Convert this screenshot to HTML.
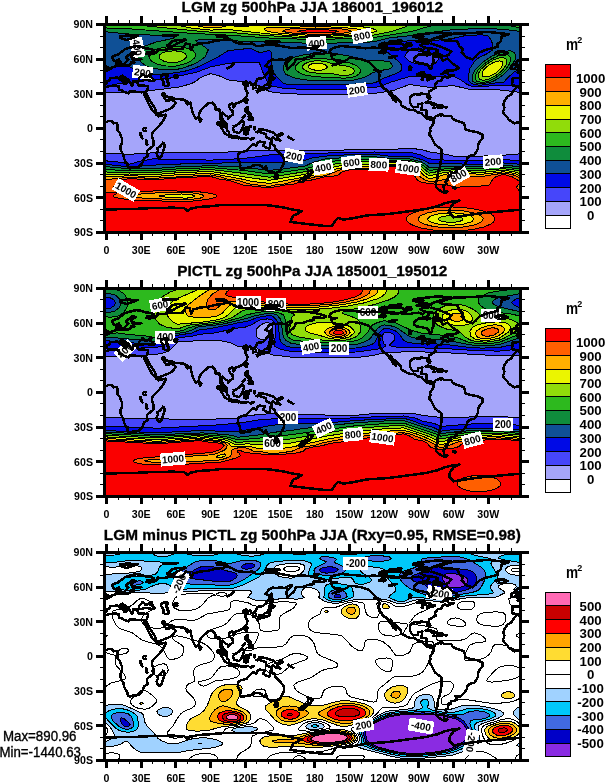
<!DOCTYPE html>
<html><head><meta charset="utf-8"><style>
html,body{margin:0;padding:0;background:#fff;width:605px;height:782px;overflow:hidden}
svg{display:block}
text{font-family:"Liberation Sans",Arial,sans-serif;fill:#000}
.title{font-weight:bold;font-size:15.5px;stroke:#000;stroke-width:0.3px}
.ax{font-size:11.2px;font-weight:bold}
.cb{font-size:13.5px;font-weight:bold}
.unit{font-size:16px;font-weight:bold}
.sup{font-size:9px;font-weight:bold}
.mm{font-size:14px;stroke:#000;stroke-width:0.35px}
.cl{font-size:10px;font-weight:bold}
</style></head><body>
<svg width="605" height="782" viewBox="0 0 605 782" shape-rendering="crispEdges">
<defs><clipPath id="clip0"><rect x="106.0" y="26.0" width="413.0" height="205.0"/></clipPath><clipPath id="clip1"><rect x="106.0" y="290.0" width="413.0" height="205.0"/></clipPath><clipPath id="clip2"><rect x="106.0" y="554.0" width="413.0" height="205.0"/></clipPath></defs>
<g clip-path="url(#clip0)">
<g transform="translate(0,0)">
<rect x="105.0" y="25.0" width="415.0" height="207.0" fill="#ffffff"/>
<path fill-rule="evenodd" fill="#a5a5fa" stroke="#000" stroke-width="1.0" d="M101.9 232.3l423.4 0 0-207.9-423.4 0 0 207.9Z"/>
<path fill-rule="evenodd" fill="#4646fa" stroke="#000" stroke-width="1.0" d="M101.9 232.3l423.4 0 0-78.9-21.9 1.8-22 0.9-27.8 0-9.3-2.1-15-2.1-6.9-2.2-12.8-1.5-19.6 1.4-19.7-0.3-45.1 1.2-69.4 0.1-45.2 2.3-57.8-0.1-23.2 1.5-23.1-1-4.6 0.5 0 78.5ZM285.3 93.7l19 0.5 45.2 0 25.4-0.9 17.4-2.4 17.3-6.4 19.7 2.9 24.3-1.8 18.5 4.4 18.5-0.6 12.8 0.8 11.5 1.7 10.4 0.6 0-68.1-423.4 0 0 67.8 27.7 0.3 31.3-3.1 18.5-2.5 11.6-3.1 4.6-2.3 4.9-4 10.1-3.9 9.3 2.5 8.1 3.8 12.7 1.5 15.1 3.1 3.4 1.2 2.5 2.2 3.3 1.9 5.8 2 14.5 1.9Z"/>
<path fill-rule="evenodd" fill="#000ae6" stroke="#000" stroke-width="1.0" d="M101.9 232.3l423.4 0 0-71.2-21.9-1.6-22 1.2-27.8 0-24.3-1.8-8.8-4-10.9-2.8-19.6 0.8-15.1-0.9-25.4 0.3-79.9 2.6-19.6 2.9-22 1.7-17.4 0.6-57.8-1.2-12.7 2.3-10.5 3-8.1-1.9-19.6-1.8 0 71.8ZM299.5 89.1l50 0 25.4-1.6 8.1-2 7-3.1 19.6-5.9 3.5-0.1 40.5 0 5.8 2.6 7.9 5.5 3.7 1.5 3.4 0.7 5.8 0.1 16.2-1.5 19.7 0.7 6.9 0.8 2.3-0.8 0-61.6-423.4 0 0 61.7 4.6 0.7 8-2.3 9.4-1.6 46.2-4.8 26.6-6 13.9-5.2 17.4-3.5 10.4-1 15-0.3 5.8 0.3 3.5 9.4 6.6 13.8 16.5 3.1 13.7 0.4ZM422.4 64.8l-6.4-1.1-6.4-2.1-4.8-4.9 1.5-3.4 3.3-3.1 19.7 2 4.6 2.4 5 4.4-3.8 4.5-3.1 1.3-2.7 0.8-6.9-0.8Z"/>
<path fill-rule="evenodd" fill="#0f5096" stroke="#000" stroke-width="1.0" d="M101.9 232.3l423.4 0 0-67.7-21.9-1.6-22 1.2-52.1-0.5-2.4-1.9-3.4-1.6-13.9-4.1-19.6 0.2-15.1-2-25.4 0.4-24.3 1.4-12.8 1.8-8.1 2.8-34.7 2.1-19.6-0.4-63.7 1.4-25.4 0.9-31.3 2.2-27.7-2.9 0 68.3ZM297.4 84.5l20.8 0.5 23.2-0.2 33.5-1.9 8.1-4.6 11.8-4.2 6.5-3.5 0.6-4.6-2.2-3.5-12.4-10.4-2-2.5-0.6-2.1 2.4-2.3 2.9-1.7 19.6-2.9 19.7 0.2 12.7-1 10.4-1.3 11.6-2.6 17.4-1.2 6.9 1.3 2.4 3.4 1.5 3.5 0.9 4.6-0.2 2.3-6.9 4.6-6.9 2.9-4.7 4.4-4.4 6.6-1.6 8.1 0.3 4.6 2.3 2.1 2.3 1.2 5.8 0.9 5.7-0.4 12.8-2.3 6-0.3 5.5-5.8 5.8-4.9 5.8-3.4 4.6-1.1 0-42.6-423.4 0 0 44.8 4.6-2 18.5-0.6 4.6 0.3 16.2 6.8 7 1.2 23.1-2.2 11.9-2.1 11.3-4.2 17.3-8.5 11.6-7.2 22-2.4 9.2 4 5.8-0.5 4.6-1.6 1.4 1.9 0.6 2.3-0.4 9.3 0.6 4.6 0.7 2.3 2.9 4.6 8 8.1 2.4 0.7 11.6 0.5Z"/>
<path fill-rule="evenodd" fill="#0f8c3c" stroke="#000" stroke-width="1.0" d="M101.9 232.3l423.4 0 0-65.3-21.9-1.7-22 1.2-30.1 0-22 1.1-3.5-3-4.6-2.7-11.6-3.1-19.6-0.1-15.1-2-25.4 0.5-24.3 1.8-11.6 3.1-9.3 4.4-11.5 0.9-7 1.4-9.2 0.7-7 1.1-25.4-3.4-33.6-1.5-34.7 1.2-23.1 1.9-23.2 0-27.7-2.5 0 66ZM477.2 83.3l6.5 0.2 8.1-1.7 4.6-2.2 7-4.8 6.2-6.5 6-9.3 0.2-3.4-1.1-2.3-2.1-1.7-2.3-0.7-6.9 0.3-11.6 5-8.1 5.4-7.3 6.7-2.4 3.5-1.4 3.4-0.5 3.5 0.5 2.3 1.8 1.3 2.8 1ZM303.6 79.8l13.5 0.9 20.8 0.3 15-0.8 10.9-2.7 2.9-1.1 4.8-3.1 5.7-2.1 12.8-2.4 3-2.8-3-3.9-3.5-0.9-11.6-1.1-4.6 0.9-3.5-0.2-18.5-4.9-8.1-1.3-11.6-1-12.7-0.1-11.6 1.1-10.4 2.8-8.1 3.9-1.5 2.4-0.9 3.4 0.5 3.5 1.9 3.6 7.1 3.3 10.7 2.3ZM161.3 69.4l14.6 0.2 7-1.6 12.3-4.3 7.1-4.7 2.8-2.3 3.2-6.9-3.5-2.8-8.2-5.3-0.6-1.1 3.1-0.8 11.5-0.1 48.6 2.3 10.4-0.2 34.7 1.3 30.1 0 39.4-1.2 16.2-4.1 34.7-3.7 19.6-3.5 9.3-1 27.8-1.1 9.2 0.2 12.8 0.6 21.9 2.7 0-7.6-423.4 0 0 7 27.7 2.7 43.1 1.9 1.8 1.1-1 1.2-17.2 3.7-10.5 3.7-6.6 4.1-2.1 2.3-1.3 2.3-0.4 2.3 4.7 4.7 6.2 4.6 6.5 2.5 8.5 0.9Z"/>
<path fill-rule="evenodd" fill="#2db91e" stroke="#000" stroke-width="1.0" d="M101.9 232.3l423.4 0 0-62.7-21.9-2.6-22 1.4-27.8-0.3-24.3 2.3-4.6-3.8-4.7-2.8-4.6-1.9-5.8-1.4-20.8-0.4-13.9-1-25.4 0.4-19.7 2.1-5.8 1-10.4 3.9-9.3 2.6-34.7 4.9-25.4-3.5-33.6-2.9-34.7 1.4-23.1 1.7-34.7-0.5-11.6-0.8-4.6-0.8 0 63.7ZM480.8 82.2l4-0.2 4.7-1.1 6.9-3.7 5.8-4.3 4.3-4.6 3-4.6 1.3-4.7-0.8-2.3-2-1.6-2.3-0.5-5.8 0.7-8.1 3.4-9.3 6.5-5 5.4-2.4 5.8 0.1 2.3 1.2 2.3 4.4 1.2ZM331.8 77.5l13 0.7 8.1-1.1 3.5-1.3 2.5-1.7 1.5-2.3 0-2.4-3.2-3.4-6.6-2.8-18.5-3.6-10.4-1.2-9.3 0.2-8.1 1.5-5.4 2.4-3.4 3.5-0.2 2.3 1.2 2.3 3.1 2.3 4.7 2 10.5 1.8 17 0.8ZM166.1 66l9.8 0.1 10.4-2.7 4.7-2.4 3.6-3.1 1.1-2.3-0.4-2.3-2-2.5-4.7-2.2-6.9-1.6-8.1-0.5-6.9 0.4-7 1.4-5.8 2.3-3.5 2.7-1.5 3.4 0.9 2.3 2 2.4 5.6 2.9 8.7 1.7ZM273.6 38.3l26.1 0.8 26.6 0.1 24.3-0.5 24.3-1.3 37.4-6.1 17-5.1 19-1.8-346.4 0 0 3.1 4.6 0.5 25.1 1 59.4 4.3 37 1.8 45.6 3.2ZM521.5 27.9l3.8 0.2 0-3.7-27.4 0 5.5 0.3 18.1 3.2Z"/>
<path fill-rule="evenodd" fill="#91dc0a" stroke="#000" stroke-width="1.0" d="M101.9 232.3l423.4 0 0-60.2-12.7-2.3-9.2-1.1-22 1.7-27.8-0.7-13.9 1.5-10.4 2-6.9-5.8-4.7-2.6-5.8-2.2-2.3-0.6-19.6-0.6-40.5 0.4-7 0.9-17.3 3-20.9 6.1-34.7 5.4-31.2-4.5-27.8-3.2-34.7 1.5-23.1 1.7-41.7-0.5-4.6-0.2-4.6-1.2 0 61.5ZM480.3 79.8l3.4 0.5 4.6-1 5.8-2.7 5.3-3.7 4-3.9 2.6-4.2 1-3.4-0.7-2.4-2.9-1.5-4.7 0.5-5.8 2.2-7.1 4.6-4.9 4.6-2.1 3.5-0.7 2.3 0.2 2.3 2 2.3ZM339.9 75.2l6.1 0.3 4.6-0.8 3.1-1.8 0.8-2.3-1.7-2.3-4.5-1.9-12.7-1.9-9.3-2.6-5.8-0.9-5.7-0.1-5.8 1-4.2 1.8-2.1 2.3 0.2 2.3 0.9 1.1 2.9 1.8 3.4 1.1 7 0.9 12.7 0.1 10.1 1.9ZM169.5 62.5l6.4 0.2 4.6-1.4 4.2-2.3 1.9-2.3 0-1.1-1.4-2-2.7-1.5-7.7-1.4-9.3 1-3.5 1.4-1.9 1.3-1.1 2.3 1.1 2.3 4.1 2.4 5.3 1.1ZM293.3 37.1l41.1 0.3 20.9-0.9 18.5-1.5 18.7-3.7 19.4-6.9-306.5 0 40.4 1.5 56.7 5.7 8.1 0.5 17.4 0.1 38.2 3.4 27.1 1.5ZM521.9 24.4l3.4 0.3-3.4-0.3Z"/>
<path fill-rule="evenodd" fill="#ebf500" stroke="#000" stroke-width="1.0" d="M101.9 232.3l423.4 0 0-57.8-2.3-0.1-9.2-2.7-10.4-1.4-22 2.1-27.8-1.1-13.9 2-10.4 2.6-3.7-2.5-6.1-5.8-8.7-3.8-20.8-1.1-15.1 1.2-27.7 0.6-16.2 3-26.7 6.9-34.7 5.9-19.6-2.5-39.4-6.4-34.7 1.5-23.1 1.8-23.2-0.7-19.6 0.5-3.5-0.1-4.6-1.6 0 59.5ZM445.5 222l-5.4-1.2-1.6-1.2 0-1.2 1.6-1.1 4.2-1.2 7-0.4 6.9 0.7 3.1 0.9 1.6 1.1 0 1.2-1.6 1.2-4.2 1.1-5.8 0.4-5.8-0.3ZM482.9 76.4l3.1 0.6 3.2-0.6 4.9-2.3 3.4-2.3 2.4-2.4 2.3-3.4 0.6-2.3-0.6-1.9-2.3-0.9-3.5 0.4-4.6 2-4.1 2.7-3.7 3.4-1.5 2.4-0.6 2.3 1 2.3ZM342.9 70.6l1.9 0.4 0.5-0.4-2.4 0ZM311.5 69.4l4.4 0.9 5.8-0.2 4.6-1.5 1.1-1.5-2.2-2.3-3-1.1-4-0.6-4.6 0.2-3.5 1.2-1.6 1.5-0.1 1.1 0.9 1.2 2.2 1.1ZM298 36l27.2 0.3 27.7-1.1 18.6-2.3 4.7-1.6 0.5-1.1-5.2-1.9-9.3-1.5-31.2-2-158.1-0.4 17.3 3.5 15.8 1.8 4.6 0.4 17.4-0.6 46.3 5 23.7 1.5Z"/>
<path fill-rule="evenodd" fill="#ffaf00" stroke="#000" stroke-width="1.0" d="M101.9 232.3l423.4 0 0-55.4-2.3-0.2-9.2-3.4-10.4-1.5-22 2.5-27.8-1.4-9.7 1.7-6.5 2.4-8.1 1.7-5.8-3.5-4.3-5.3-3-2.3-5.6-2.3-20.6-1.3-9.3 1.1-5.8 1.2-25.4 0.2-18 3.4-6.3 2.5-12.8 3.1-42.8 8-19.6-2.4-4.7-1.4-34.7-6.4-34.7 1.6-23.1 1.7-23.2-0.9-20.8 1.2-2.3-0.2-4.6-2 0 57.6ZM171.3 197.7l-11.6-1.2 0.2-1.2 21.8-1.3 9.3 0.7 3 0.6 0.8 1.2-3.4 1.2-5.1 0.4-15-0.4ZM438.6 224.3l-8.2-2.4-1.7-1.1-0.8-1.2 0-1.2 2.5-2.3 4.7-1.6 6.9-1.2 9.3-0.5 8.1 0.5 6.9 1.2 4.7 1.6 2.5 2.3 0 1.2-0.8 1.2-1.7 1.1-8.1 2.4-11.6 1-12.7-1ZM296.6 34.8l21.6 0.5 21.7-0.5 14.2-1.2 6.6-1.1 2.6-1.2-0.9-1.1-1.4-0.4-8.1-1.5-27.7-1.6-48.6 0.6-10.1 0.6-2.6 1.1 1.3 1.2 3 1.1 5.1 1.2 23.3 2.3ZM208.9 27.9l6.4-0.1 9.2-1.1 2.9-1.1 0-1.2-35.2 0 8.8 2.3 7.9 1.2ZM241.9 26.7l5.8-0.2 1.9-0.9-6.6-1.2-11.8 0-1.3 1.2 12 1.1Z"/>
<path fill-rule="evenodd" fill="#ff5f00" stroke="#000" stroke-width="1.0" d="M101.9 232.3l423.4 0 0-52.9-2.3 0-10.4-4.8-9.2-1.5-22 3.4-18.5-0.5-9.3-1.5-3.5 3.1-4.6 1.8-6.9 1.3-9.3 0.8-4.6-1.7-3.5-2.2-2.8-3-2.4-4.7-3.1-2.3-3.3-1.1-19.6-1.2-7.9 1.2-7.2 2.3-25.4 0-9.2 1.1-15.1 5.8-10.3 1.2-8.5 2.3-12.5 1.9-8.1 2.7-9.2 0.9-7 1.7-21.4-2.6-10.3-3.5-9.9-1.1-8.1-2.6-9.3-1.6-57.8 3.4-23.2-1.1-21.9 2.1-1.2 0-4.6-2.3 0 55.2ZM152.8 198.8l-14.4-1.1-4.8-1.2 0-1.2 4.8-1.1 12.1-1.1 32.4-0.7 9.2 0.5 7 1 4.3 1.4 0.4 1.2-2 1.2-3.9 0.9-9.3 1-35.8-0.8ZM445.5 227.7l-11.6-1.1-9.2-2.3-4.6-2.4-1.2-1.1-0.5-2.4 1.6-2.2 1.9-1.2 6.3-2.3 10.4-1.9 12.7-0.6 11.6 0.6 10.3 1.9 6.3 2.3 1.9 1.2 1.7 2.2-0.6 2.4-1.2 1.1-4.4 2.3-4.8 1.4-12.7 1.9-13.9 0.2ZM297.3 33.6l17.5 0.7 17.3-0.3 15.1-1.3 4.2-1.4-2-1.1-7.7-1.2-25.8-1-25.4 1-6.7 1.2-0.6 1.1 4 1.2 10.1 1.1ZM208.9 24.4l1.7 0.5 1.8-0.5-3.5 0Z"/>
<path fill-rule="evenodd" fill="#fa0000" stroke="#000" stroke-width="1.0" d="M101.9 232.3l423.4 0 0-39.9-5-0.5-4-4.6 2.9-3.5 0.7-2.3-7.3-4.5-8-2.4-2.3 0-6.7 2.3-2.9 2.3-3.2 5.4-2.3 1.1-33.6 1.6-2.3-1.3-4.6-1.2-17.4-1.1-8.1-1.6-2.3-1-2.3-1.9-2.3-4-1.5-5.3-3.2-2.3-19.6-1.2-8.1 2.5-5.8 0.9-27.1 0.1-7.5 2.3-4.2 3.5-12.6 1.2-11.1 2.8-12.3 1.8-7.4 2.5-8.1 0.9-16.2 3-27.4-3-9.6-3.4-4.6-1.2-8.1-1-9.3-2.9-34.7 1.6-23.1 1.9-23.2-1.3-9.2 1.7-3.3 1.2-3.8 5.8-0.3 1.1 0.5 1.2 4.6 2 5.8 0.5 34.7-1.3 35.8 0.4 17.4 2.3 4.8 1.8 0.1 1.2-2.1 1.2-7.4 1.8-17.4 1.8-15 0.1-37.1-1.1-12.7-1.1-9.1-1.5-2.7-1.2 0-1.2 2.7-1.1 1-1.3-13.1-1-1.3-1.2-0.6-1.4 0 43ZM432.8 230l-11.6-2-9.3-3.2-2.8-1.7-2.1-2.3-0.4-1.2 0.4-2.3 2.1-2.3 2.8-1.7 10.5-3.5 13.8-2.2 16.2-0.6 17.4 1.2 12.7 2.5 8.1 3.2 3 2.2 1.2 2.3-0.4 2.4-0.8 1.1-3.1 2.3-6.8 2.8-9.3 2.2-10.4 1.3-10.4 0.5-11.6-0.2-9.2-0.8ZM101.9 184.9l1.5-3.4-1.5-1.1 0 4.5ZM302.9 32.5l22.3 0.5 8.6-0.5 4.2-1.2-4.6-1.1-15.2-0.7-16.2 0.7-3.9 1.1 4.8 1.2Z"/>
</g>
<g transform="translate(137.3,47.5) rotate(80)"><rect x="-10.0" y="-6.5" width="20" height="13" fill="#fff"/><text x="0" y="3.6" class="cl" text-anchor="middle">400</text></g>
<g transform="translate(142.6,72.5) rotate(8)"><rect x="-10.0" y="-6.5" width="20" height="13" fill="#fff"/><text x="0" y="3.6" class="cl" text-anchor="middle">200</text></g>
<g transform="translate(316.5,43.3) rotate(-5)"><rect x="-10.0" y="-6.5" width="20" height="13" fill="#fff"/><text x="0" y="3.6" class="cl" text-anchor="middle">400</text></g>
<g transform="translate(362,36) rotate(-12)"><rect x="-10.0" y="-6.5" width="20" height="13" fill="#fff"/><text x="0" y="3.6" class="cl" text-anchor="middle">800</text></g>
<g transform="translate(357,90) rotate(-8)"><rect x="-10.0" y="-6.5" width="20" height="13" fill="#fff"/><text x="0" y="3.6" class="cl" text-anchor="middle">200</text></g>
<g transform="translate(126,190) rotate(30)"><rect x="-12.5" y="-6.5" width="25" height="13" fill="#fff"/><text x="0" y="3.6" class="cl" text-anchor="middle">1000</text></g>
<g transform="translate(294,156.1) rotate(12)"><rect x="-10.0" y="-6.5" width="20" height="13" fill="#fff"/><text x="0" y="3.6" class="cl" text-anchor="middle">200</text></g>
<g transform="translate(323.2,167.4) rotate(-10)"><rect x="-10.0" y="-6.5" width="20" height="13" fill="#fff"/><text x="0" y="3.6" class="cl" text-anchor="middle">400</text></g>
<g transform="translate(351.5,162.5) rotate(-8)"><rect x="-10.0" y="-6.5" width="20" height="13" fill="#fff"/><text x="0" y="3.6" class="cl" text-anchor="middle">600</text></g>
<g transform="translate(378.8,164.6) rotate(3)"><rect x="-10.0" y="-6.5" width="20" height="13" fill="#fff"/><text x="0" y="3.6" class="cl" text-anchor="middle">800</text></g>
<g transform="translate(408.3,168.1) rotate(8)"><rect x="-12.5" y="-6.5" width="25" height="13" fill="#fff"/><text x="0" y="3.6" class="cl" text-anchor="middle">1000</text></g>
<g transform="translate(458.5,175.8) rotate(-30)"><rect x="-10.0" y="-6.5" width="20" height="13" fill="#fff"/><text x="0" y="3.6" class="cl" text-anchor="middle">800</text></g>
<g transform="translate(493,161.6) rotate(-5)"><rect x="-10.0" y="-6.5" width="20" height="13" fill="#fff"/><text x="0" y="3.6" class="cl" text-anchor="middle">200</text></g>
<g transform="translate(0,0)">
<path fill="none" stroke="#000" stroke-width="2.5" stroke-linejoin="round" d="M100 86.9l-1.5 2.2-3.1 4.1-0.8 1.4-3.4 1.8-1.5 1.8-1.7 2.8-1.3 3.1 0.7 1.7 0.5 1.8-0.5 2.3-1 1.5 0.8 2.5 1.9 1.7 2 1.8 0.9 2.3 2.4 1.5 3.4 2.1 4.1-1 3.4 0.3 2.9-1.4 3.5-0.1 1.7 2.3 2.9-0.4 1.2 1.3 0.3 2.9-0.7 2.3 3.1 4 0.5 1.8 1.2 3.2 0.2 3.7-1.5 3.7-0.5 2.4 1.4 3.1 1.8 3.4 0.8 4.3 1.5 2.3 1.7 3.3 0.5 2.9 1.8 0.9 2.9-0.9 3.6 0 2.7-1.1 3.6-3.6 1.8-4.5 3.4-2.3-0.3-2.3-0.5-2.6 2.5-2.2 4.1-3.3 0-5.2-1.4-4.3 0.4-3.2 2.1-2.7 4.4-4.3 3.1-3.4 3.3-5.8 0.6-2.1-3.9 0.7-3.4 0.9-2.1-1.3-0.5-1.1-2.1-2.3-1.7-1.3-1.2-2.7-1.5-1.9-1.3-2.8-1.2-2.3-1.4-3.4-1.5-3.5-0.2-1.5-2.8 0.1-5.7-0.6-1.1-0.4-4.7 0-1.1 2.1-4.1-1.3-2.6-1.7-2.6-0.7-0.9-3.9-2.5-0.1-5.8 0.1-4.2 1.3-1.6 0.7-4.2-0.9M516.5 86.9l-1.5 2.2-3.1 4.1-0.8 1.4-3.4 1.8-1.5 1.8-1.7 2.8-1.3 3.1 0.7 1.7 0.5 1.8-0.5 2.3-1 1.5 0.8 2.5 2 1.7 1.9 1.8 1 2.3 2.3 1.5 3.4 2.1 4.1-1 3.5 0.3 2.9-1.4 3.4-0.1 1.8 2.3 2.9-0.4 1.1 1.3 0.4 2.9-0.7 2.3 3 4 0.6 1.8 1.1 3.2 0.2 3.7-1.5 3.7-0.5 2.4 1.5 3.1 1.7 3.4 0.8 4.3 1.5 2.3 1.7 3.3 0.5 2.9 1.9 0.9 2.9-0.9 3.5 0 2.7-1.1 3.6-3.6 1.8-4.5 3.4-2.3-0.2-2.3-0.6-2.6 2.5-2.2 4.1-3.3 0-5.2-1.4-4.3 0.5-3.2 2-2.7 4.4-4.3 3.2-3.4 3.2-5.8 0.6-2.1-3.8 0.7-3.5 0.9-2.1-1.3-0.5-1.1-2-2.3-1.8-1.3-1.1-2.7-1.5-1.9-1.4-2.8-1.2-2.3-1.4-3.4-1.5-3.5-0.2-1.5-2.8 0.1-5.7-0.6-1.1-0.4-4.6 0-1.2 2.1-4-1.3-2.7-1.7-2.6-0.7-0.9-3.9-2.5-0.1-5.8 0.1-4.2 1.3-1.6 0.7-4.2-0.9M163.5 142.2l1.3 3.9-1.1 3-1.7 5.2-1 2.8-2.4 0.7-1.5-2.3-0.5-2.3 1.3-2.3-0.5-2.9 2.7-1.5 1.8-2.4 1.6-1.9M100 86.8l-0.8-1-3-0.2-0.7-1.9 0.8-3.9-0.6-1.1 1.5-0.8 4.9 0.2 2.3 0.1 0.7-2.6-1.1-1.8-2.8-1.2 3.4-0.5 0.5-1 1.6 0.1 1.7-1.6 1.8-0.6 1.3-0.9 0.6-1 2.4-0.4 1.8-0.5 0.5-1.3-0.9-0.8 0.1-1.7 2.8-0.7-0.2 1.7-0.5 1.4 1.1 0.7 1.8 0 1.9 0.6 2.1-0.5 3-0.1 2.9-1.5-0.1-1.4 3.5-0.1-0.6-1.7 1.4-1.1 3.8-0.1 2.5-0.4-1.3-0.4-4.7 0-3.1-0.2-0.9-1.3 0.1-1.9 4.4-2.1-1.4-0.9-2.4 0.2-2.1 2.1-3.5 1.6-0.1 1.9 2 1.7-2.7 2.3-0.7 1.2-2.1 1-1.5-0.3-1-2.4-1.2-1.5-0.3-1-3.1 2-2.7-0.9-0.5-1.7-0.3-1.9 3.5-1.6 2.7-0.7 1.9-1.7 2.8-2.1 1.8-1.4 3.4-1.2 5.5-1.3 2.5-0.5 3.1 0.3 2.9 0.7 2.3 1 3.5 0.3 5.7 1.7-1.1 1.9-5.8 0-0.6 1.8 2.9 0.6 4.1-0.6 4-2.1 0.2-2.3 4.4 0.7 5.8-0.9 5.8-0.5 2.3 0.1 7-0.2 0.5-2.1 2.7-3.1 3.7 0.8 0.6 2 0.6 3.5 2.3-4.6 3.4-0.5 2.9-1.2 7.6-0.6 9.2-2.3 5.8-0.6 5-1.4 4.3 1.4 5.7 3.2 8.1 0.8 7-0.4 4.6 2.7 11.6-1.7 11.6 1.2 11.5 2.2 11.6-0.5 11.6 1.3 11.5 3.3-2.3 1.9-6.9-0.5-4.1 0.1 0.6 2.6-5.8 0.8-4.6 2-7.5 0.2-0.6 2.2-1.2 2.3-2.3 1.7-3.8 4-0.8-1.7-0.6-2.9 0.6-2.9 2.3-1.1 2.9-3.1-1.7-0.7-5.8 3.1-3.7-0.6-4.4 0.4-4.4-0.2-3.7 2.2-2.9 4.1 4.5 1.3-1 3.9-2.9 3.4-3.5 3.5-3.6 0.5-2.2 0.9-0.7 2.7-1.6 1.7 1.6 2.9-0.4 1-2.9 0.7 0-3.5-1.8-0.5-0.6-2.3-3.4 1.1-0.6-2.1-3.5 2-0.2 0.7 1.2 1 1.9-0.2 2.3 0.9-2.9 1.7 0 1.8 2.2 3.4-0.4 2.9-2.3 3.5-2.4 2.1-3.8 1.6-4.3 1.3-0.5 1-1.8-1.5-2.3 1.3-0.8 1.7 1.4 2.9 2.1 1.5 0.6 3.7-2.7 1.7-2.3 2.2-0.2-1.8-2.1-1-2.3-1.9-1-0.9-1.1 3.4 1.2 2.3 0.9 2 2.7 2.3 1 3.8-0.9 0.2-2.3-1.7-1.5-3.1-2.2-2.9 0.3-2.3-1.1-7.5-3.6 0.6-0.5-4.1-2-1.7-0.6-1.6-2.1 0.6-2.3 0.3-1.4 1.3-2.1 1.5-3.1 3.1-2.4 3.9-0.5 3.3-2.6 2.5-1.4-2.1-1.8-3.4-2-7-0.4-2.5-0.2-1.4-2.9 1.7-1.3-1.8 1.3-0.7-1.7-0.7-1.8-1.4-4.6-0.5-6.6-0.6-0.4-1.4-0.6-0.3-2.8 0.5-3.5-1.4-1.2-2.3-1.7 0-0.6 0.8 2 2.7 1.3 2.3 0.9 1.1 3.4-0.2 2-2.4 0.2 2.1 2.5 1 1.4 1.4-2.3 3.9-3.3 2.3-3.2 1.6-3.7 1.3-4.6 2-1.9 0.1-0.8-2.7-0.8-2.3-3.2-5.2-2.6-4-1.7-3.4-0.6-1.8-0.6 1.7-2.2-2.2-0.3-1.6 2.2 0 0.7-0.8 0.8-2.2 0.3-1.9 0.3-1.1-1.8-0.4-4.4-0.1-3.1 0.1-1.2-1.9-0.5-1.7 0.1-0.4 2.8-0.8-3.5 0.2-3.6 0.3 0.2 3.1-1.2 1.6-1.2-2.3-1.7-2.3-0.6-1.8-3-1.7-2.2-2-0.8-0.4-1.8 0.2 0.1 1.1 2.2 2.4 3.1 1.5 1.8 1.1-1.5 0.8-0.7 1.1-1.2 0.3-1.5-3-2.4-1.1-2.2-2-1.6-1-1.9 0.8-2.8 0.3-2.1 0.1 0.2 1.2-1.2 1-1.5 0.5-1.3 1.7 0.5 0.6-0.8 0.8-1.7 1.7-2.8 0.2-1.4 0.8M516.5 86.8l-0.8-1-3-0.2-0.7-1.9 0.8-3.9-0.5-1.1 1.5-0.8 4.8 0.2 2.3 0.1 0.7-2.6-1.1-1.8-2.8-1.2 3.5-0.5 0.4-1 1.7 0.1 1.6-1.6 1.8-0.6 1.3-0.9 0.6-1 2.4-0.4 1.9-0.5 0.4-1.3-0.9-0.8 0.1-1.7 2.8-0.7-0.1 1.7-0.6 1.4 1.1 0.7 1.8 0 1.9 0.6 2.1-0.5 3-0.1 2.9-1.5-0.1-1.4 3.5-0.1-0.6-1.7 1.4-1.1 3.8-0.1 2.6-0.4-1.4-0.4-4.7 0-3.1-0.2-0.9-1.3 0.1-1.9 4.4-2.1-1.4-0.9-2.4 0.2-2.1 2.1-3.5 1.6-0.1 1.9 2 1.7-2.7 2.3-0.7 1.2-2.1 1-1.5-0.3-1-2.4-1.2-1.5-0.3-1-3.1 2-2.7-0.9-0.4-1.7-0.4-1.9 3.5-1.6 2.8-0.7 1.8-1.7 2.8-2.1 1.8-1.4 3.4-1.2 5.5-1.3 2.5-0.5 3.1 0.3 2.9 0.7 2.3 1 3.5 0.3 5.8 1.7-1.2 1.9-5.8 0-0.6 1.8 2.9 0.6 4.1-0.6 4-2.1 0.3-2.3 4.4 0.7 5.7-0.9 5.8-0.5 2.3 0.1 7-0.2 0.6-2.1 2.6-3.1 3.7 0.8 0.6 2 0.6 3.5 2.3-4.6 3.5-0.5 2.9-1.2 7.5-0.6 9.2-2.3 5.8-0.6 5-1.4 4.3 1.4 5.8 3.2 8.1 0.8 6.9-0.4 4.6 2.7 11.6-1.7 11.6 1.2 11.5 2.2 11.6-0.5 11.6 1.3 11.6 3.3-2.4 1.9-6.9-0.5-4.1 0.1 0.6 2.6-5.8 0.8-4.6 2-7.5 0.2-0.6 2.2-1.1 2.3-2.4 1.7-3.8 4-0.8-1.7-0.6-2.9 0.6-2.9 2.3-1.1 2.9-3.1-1.7-0.7-5.8 3.1-3.7-0.6-4.4 0.4-4.4-0.2-3.7 2.2-2.9 4.1 4.5 1.3-1 3.9-2.9 3.4-3.5 3.5-3.6 0.5-2.2 0.9-0.7 2.7-1.6 1.7 1.6 2.9-0.4 1-2.9 0.7 0-3.5-1.8-0.5-0.5-2.3-3.5 1.1-0.6-2.1-3.5 2-0.2 0.7 1.2 1 1.9-0.2 2.4 0.9-2.9 1.7 0 1.8 2.2 3.4-0.5 2.9-2.3 3.5-2.3 2.1-3.9 1.6-4.2 1.3-0.6 1-1.7-1.5-2.4 1.3-0.8 1.7 1.4 2.9 2.1 1.5 0.6 3.7-2.7 1.7-2.3 2.2-0.2-1.8-2.1-1-2.3-1.9-0.9-0.9-1.2 3.4 1.3 2.3 0.8 2 2.8 2.3 0.9 3.8-0.8 0.2-2.3-1.7-1.5-3.1-2.2-2.9 0.2-2.3-1.1-7.5-3.5 0.6-0.6-4.1-2-1.7-0.6-1.6-2.1 0.6-2.3 0.3-1.4 1.3-2 1.5-3.2 3.1-2.4 3.9-0.5 3.3-2.6 2.5-1.4-2.1-1.7-3.4-2.1-7-0.4-2.5-0.2-1.4-2.9 1.7-1.3-1.8 1.3-0.7-1.7-0.7-1.8-1.4-4.6-0.5-6.6-0.6-0.3-1.4-0.7-0.3-2.8 0.5-3.5-1.4-1.1-2.3-1.8 0-0.5 0.8 1.9 2.7 1.3 2.3 0.9 1.1 3.4-0.2 2.1-2.4 0.1 2.1 2.5 1 1.4 1.4-2.3 3.9-3.2 2.3-3.3 1.6-3.7 1.3-4.6 2-1.9 0.1-0.8-2.7-0.8-2.3-3.2-5.2-2.6-4-1.7-3.4-0.6-1.8-0.6 1.7-2.2-2.2-0.3-1.6 2.2 0 0.7-0.8 0.8-2.2 0.3-1.9 0.3-1.1-1.8-0.4-4.4-0.1-3.1 0.1-1.1-1.9-0.6-1.7 0.1-0.4 2.8-0.8-3.5 0.2-3.6 0.3 0.2 3.1-1.2 1.6-1.2-2.3-1.7-2.3-0.6-1.8-3-1.7-2.2-2-0.8-0.4-1.7 0.2 0.1 1.1 2.2 2.4 3 1.5 1.8 1.1-1.5 0.8-0.7 1.1-1.1 0.3-1.5-3-2.5-1.1-2.2-2-1.6-1-1.8 0.8-2.9 0.3-2.1 0.1 0.2 1.2-1.1 1-1.5 0.5-1.4 1.7 0.6 0.6-0.9 0.8-1.7 1.7-2.8 0.2-1.4 0.8M140.1 80.8l-1.2-0.5-0.1-1.8 0.9-1.2 1.2-1.2 1.1-1.5 1.5 0 1.8 1.8 0 0.6 2.3-0.6 1.1-0.4 1.8-1.9 1.4-0.3-1.4 1.4-0.3 1.5 2 1.4 2.4 2.2-2.2 0.7-4.2-0.8-3.5-0.4-2.3 1.1-2.3-0.1M161.5 75.6l2.3-1 2.7-0.5 1.3 1.1 0.3 0.8-2.2 1 0 1.5 1.8 1.6-0.1 2.1 1.3 1.2 0 1.9-3.4 0.7-2.3-1-0.1-1.1 0.7-2.1-1.1-1.7-1.2-1.4-0.6-1.5 0.6-1.6M166.7 45.8l3.4-2.3 2.3-2.4 5.8-1.1 7.6-0.4-2.9 1.5-5.8 2.4-4.7 3.2-4.6-0.1-1.1-0.8M119.2 37.7l1.2-1.5 6.9-0.6 10.4 0.4-5.7 2.3-5.8 1.6-3.5-1.1-3.5-1.1M216.4 36.5l5.8 0.6 5.8 0.6-4.6-2.9-7 0.6 0 1.1M265 41.7l5.8-0.9 6.9 0.3 2.4 0.6-8.1 1.8-5.8-0.6-1.2-1.2M162 35.7l8.1-0.9 8.1 0.2-4.6 1-9.3 0.1-2.3-0.4M313 46.3l3.5-0.5 2.3 0.5-4 0.3-1.8-0.3M258 89.1l1.2-1.8 4.1-0.1 1.5-1.9 2.5-0.8 1.2-2.3 0.7-1.6 1 0.2 0.6 1.9-1.2 1.8-0.1 1.3-0.1 1.8-1.2 0.3-1.1 0.5-2.1 0-1.1 1.3-1.2-1.3-2.3 0.3-2.4 0.4M256.9 89.7l2.2 0.3-1 2.2-1 0.1-0.4-1.7 0.2-0.9M259.8 90.2l2.4-1.4 0.1 0.5-1.9 1.3-0.6-0.4M268.5 80.4l1.9-4.5 4.4 2.4-2.5 1.5-2.7-0.5-1.1 1.1M270.8 75.2l1.7-0.6 0.6-2.8-1.1-2.4-0.4-3.8-0.8 3.8-0.2 2.9 0.2 2.9M245.6 102.4l-0.3-1.2 1.8-2.1 0.6 0.4-1.2 3.4-0.9-0.5M232.2 106.2l1.6-1.1 1.1 0.6-1.7 1.6-1-1.1M245.9 107l2 0-0.2 2.9 2.3 4-3.5-1.5-1.2-1.4 0.6-4M247.7 120.3l1.7-1 3.5 1-0.6-2.9-2.9 1.1-1.7 1.8M247.7 115.6l1.7 1.2 1.7-1.2 0-1.7-2.3 0.6-1.1 1.1M242.1 118.6l2.7-3.3-0.6 1.5-2.1 1.8M232.6 126.6l0.7 2.9 0.8 2.3 4.9 1.2 2.3-2.3 1.7-3.5 1.2-4.6-2.3-2.3-1.8 2.3-2.9 2.1-2.3 1.6-2.3 0.3M216.8 121.9l2.5 0.4 3.2 3.2 3.7 2.3 1.2 2.9 1.7 1.3-0.1 3-1.6 0.2-2.9-2.2-1.7-2.9-2.3-3.7-2.9-2.4-0.8-2.1M228.2 136.2l1.5-0.9 2.3 0.6 2.9 0 2 0.5 2.1 1-0.4 1-3.7-0.6-3.4-0.4-1.8-0.5-1.5-0.7M244.8 134.7l-0.6-2.9 0.9-4 0.8-0.6 4.6-0.6 0.6 0-4.6 1.2 0.6 1.7 2.1-0.1-2.1 1 1.1 3.1-1.7-1.7-0.6 2.9-1.1 0M249.4 140.2l1.7-1.5 2.7-0.6-2.7 1.3-1.7 0.8M239.6 138.1l4.6 0.2 4-0.2-2.9 0.5-4.6 0-1.1-0.5M254 126.3l1.2 0.9-0.6 2.1-0.6-3M254.6 132l3.2 0.3-1.5-0.5-1.7 0.2M258.1 129.5l3.4-0.2 4.7 0.8 3.4 1.3 4.1 1.3 1.7 2 1.8 0.6 0.5 2.3 2.6 2.9-3.7-0.6-3.5-2.3-1.7 1.4-1.8-0.3-2.9-0.8-0.8-3.8-3.8-1.1-2.9-1.4-1.1-2.1M278.3 134.7l3.5-1.4 0.8 0.8-2.5 1.4-1.8-0.8M287.6 136.4l2.9 1.8 2.9 1.7-1.8-0.8-2.9-1.7-1.1-1M238.4 153.5l3.1-1.4 5-1.2 1.4-1.8 1.5-1.7 2.3-2.3 1.7-0.8 2.9 1.3 1.2-2.8 2.3-1.2 3.5 0.6 1.5 0.2-0.9 1.5-0.6 1.8 2.3 1.7 3.8 1.2 0.8-2.9 0.4-2.9 0.8-2.1 1.1 3.8 2.1 1.2 0.8 3.4 2.9 2.7 2.3 2.5 2.9 3.5 0.7 3.6-0.8 3.3-2 2.8-1.3 3.6-2.4 0.9-1.9 1.5-1.7-1.4-4.5 0.3-1.7-1.3-1.2-1.7-0.8-3.4-2 2.8-0.6-0.6-1.8-2.1-3.4-1.4-5.8 1-2.3 1.8-5.2 0.5-1.9 0.9-3.2-0.9 0.7-2.7-1-3.5-1.7-3.2 0.5-2.5 0.2-2.6M273.8 175.4l4.3 0.2-0.4 2.6-2.3 0.5-0.9-1.6-0.7-1.7M306.3 168.1l2.4 2.8 4.3 1-1.7 2.1-2.1 2.4-0.7-2.1-0.9-0.7 0.9-2.5-2.2-3M306.3 175.1l1.9 1.4-1.8 2.4-2.1 1.4-2.3 1.9-2.9-0.7 1.8-2.3 3.2-1.8 2.2-2.3M198.9 121.4l0.2-4.4 2.2 2.7-0.5 1.6-1.9 0.1M328.6 52.6l2.4-3.1 3.4-2 7.2-1.5 5.6 0.6 10.4 0.8 8.1 0.9 8.1-0.8 5.8 0.6 8.1 0.7 4.6 0.8 8.1-0.4 9.2 0.8 3.5-0.8 5.8-0.5 4 1.7 1.8-2.3 3.4 0 0.6 3.4-6.3 2.9-3.5 0-4.6 3.5-0.3 2.5 2.6 2.1 4.6 0.6 6.6 1.6 2.1 4.2 1.7-0.6 0.6-3.5 1.7-4-1.1-2.3 0.6-2.3 5.2 0.3 3.4 1.4 0.6 2.7 5.2-1.9 4.1 4.4 5.2 3.5 1.5 1.7-5 2.1-7.5 0.2-4.6 3.5 6.3-2.1 0.6 2.6 4 1.2 1.2-0.6-4 1.8-2.9 0.8-1.2-1.4-3.5 1.5 0 2.2-2.3 0.7-2.3 0.7-0.2 1.2-1.5 0.8-0.6 2.1 0.6 2.1-2.7 1.4-1.4 0.9-2.3 1.4-0.5 2 1.5 4.3-0.4 1.5-1.2-0.6-1.4-2-0.9-2.7-1.7 0.3-3.5-1.1-1.5 1.8-2-0.6-3.4-0.1-3.7 2-0.4 2.7-0.3 3.5 2 3.8 1.8 1.1 4-0.5 0.7-2.7 4-0.6-0.6 3.5-0.8 2.9 3.7 0 2.1 1.1-0.5 4.6 0.7 1.2 4 0.6 2.4 1 0.2 0.7-0.7 0.9-0.1-0.9-2.3 0.6-3.5-1.2-3.1-2.3-2.1-2.9-4.6-1.1-2.9-2.3-2.9 0.3-4-1.3-6.4-3.7 0-2.8-4.1-4.1-4-3.4-2.6-3.2 2 4.3 3.5 4.6 0.1 1.3-2.5-2.2-2.3-3.7-1.9-2.3-1.7-2.9-1.6-1.7-2.4-0.7-2.2-3.6-1.7-3.1-0.6-2.8 0.6-3.9-0.9-2.6 2-0.6-4.6-2.1-3.5-4.3-4.6-4-4.1-1.2-2.9-0.9-6.9-1.2-4.6-0.2-2.3 1.7-4.7 2.3-6.9 2.9-2.9 0.6 5.2-2.3 2.9-2.5-5.2 0-3.3-2.1-0.8-2.3 1.2-0.8 4-1.4-5.7-0.3-2.4-1.1M380.4 72.4l-5.8-2.6 3.8 0.8 2 1.8M430.5 43.2l10.4 3.7 10.4 4.3-2.9 4-4.1 1-5.7-2.3-5.8 0 5.2-2.4-0.6-1.7-8.1-1.7-5.2-0.6-4.1-2.3 4.7-1.7 5.8-0.3M430.5 40l5.7-2.3 11.6-3.5 3.5-1.1-15.1-0.6-19.6 2.3 2.3 4 11.6 1.2M430.5 42.3l-13.9-0.3 2.3-2 11.6 0.3 0 2M386.5 43.5l16.2 0.5 2.9 3.5-6.4 1.5-10.4-0.6-3.5-2.6 1.2-2.3M378.4 45.2l5.8-2.6 4.6 1.4-8.1 2.2-2.3-1M388.8 41.1l12.7-0.5-1.1 1.4-10.4 0.3-1.2-1.2M405 44l5.8-0.9 1.1 2.1-4.6 1.1-2.3-2.3M422.4 53.3l8.1 1.1-3.5 1.2-4.6-1.2 0-1.1M411.9 36l7-1.4 4.6 1.9-6.9 1.2-4.7-1.7M438.6 38l5.7 2.3 12.8 0.8 2.3 5.2 3.5 2.9-1.2 2.9 3.5 4.1 2.3 1.7 5.2 1.4 2.9-2.6 3.5-4 6.9-2.9 11.6-2.9 0-2.9 3.4-2.9 0.6-4.6 7.5-2.3-20.8-2.3-17.3 1.2-17.4 0.5-5.8 1.8-9.2 2.6M497.6 54.4l-2.3-1.7 2.3-1 6.9-0.2 2.9 1.5-1.7 1.2-3.5 0.9-4.6-0.7M99.9 70.6l3.1-0.7 4.7-0.3 0.8-2-1.7-1-2-1.8-0.6-1.1 0.2-1.8-1.4-1.2-2.3 0-1.4 2.4 1.4 1.7 2.3 0.6 0 1.4-1.8 0.3 0.1 1.4 1.7 0.5-3.1 1.6M516.4 70.6l3.1-0.7 4.7-0.3 0.8-2-1.6-1-2.1-1.8-0.6-1.1 0.2-1.8-1.4-1.2-2.3 0-1.4 2.4 1.4 1.7 2.3 0.6 0 1.4-1.8 0.3 0.1 1.4 1.7 0.5-3.1 1.6M516.1 68.1l0-2.1 0-1.4-2.3 0-2.4 1.1 0 3.1 2.4 0 2.3-0.7M433.6 119.1l1.5-1.7 0.6-1.2 2.9-0.9 1.7-1.3 0.6 1.6 1.1-1.1 2.3 1.7 4.7-0.1 2.3-0.1 1.1 2.5 3.5 2 3.5 1 3.5 1.3 1.1 0.9 1.2 2.9 0 2.3 1.7 1 4.6 1.3 3.5 0.5 3.5 0.9 3.8 2.1 0.5 2.9-2.6 3.5-1.7 2.3-0.6 5.2-1.5 3.2-2 3.1-1.4 0-3.5 1.2-2.6 2.3-0.1 2.9-2.2 2.9-2.3 2.8-2.8 1.7-2.4-0.5-1.8 0 1.2 1.7 0 2.3-5.2 1.2-0.6 2.3-2.9 0 0.6 1.7-0.8 2.9-2.7 1.8 1.8 1.5-3.5 2.5 0.7 2.7-0.1 1.9 3.7 1.1-2.3 1.1-3.2-1-2.9-1.8-2.9-2.8-0.5-4.7 1.7-4 0.3-4 0.6-3.5 1.8-4.6 0.4-3.6 1-5.7 0.2-7.5-2-1.7-4.6-3.5-1.2-2.3-2.3-4.6-2.6-3.5 1.5-2.9-0.6-2.3 1.7-2.3 1.8-2.9 0.2-3.4-0.7-0.3M424.7 103.1l3.4-1.5 5.8 1.9 3.3 1.5-3.8 0.4-2.9-2.2-4.7 0-1.1-0.1M436.9 107l1.9-1.6 4.4 0.4 0.7 1.1-3 0.7-4-0.4 0-0.2M432.4 107.2l2.5 0.4-1 0.2-1.5-0.6M445.3 107l1.8 0.2-1 0.4-0.8-0.6M452.1 187.6l3.8 0-1.1 1-2.7-1M106.5 209.5l13.9-0.3 15-0.3 17.4-0.9 19.6-0.3 11.6 0.3 3.5 2.9 3.5-2.3 8.1-1.7 9.2-0.4 13.9-1.6 11.6-0.1 11.5 0.2 11.6-0.2 11.6 0.5 15 2.1 10.4 2.4 8.1 1.2-4.6 2.8-4.6 2.1-2.3 6 18.5 2.3 15 1.7 8.1 0 2.3-4 3.5-4 5.8 1.7 8.1-1.2 16.2-3.1 19.7-1.2 19.6-2.6 18.5-2.5 11.6-2.7 6.9-2.9 7-1.7 8.1-1.2-5.8 2.9-3.5 4.6-1.1 4.7 4.6 4.6 23.1-3.5 23.2-2.3 23.1-2M-310 209.5l13.9-0.3 15-0.3 17.4-0.9 19.6-0.3 11.6 0.3 3.5 2.9 3.4-2.3 8.1-1.7 9.3-0.4 13.9-1.6 11.5-0.1 11.6 0.2 11.6-0.2 11.6 0.5 15 2.1 10.4 2.4 8.1 1.2-4.6 2.8-4.6 2.1-2.4 6 18.6 2.3 15 1.7 8.1 0 2.3-4 3.5-4 5.8 1.7 8.1-1.2 16.2-3.1 19.6-1.2 19.7-2.6 18.5-2.5 11.6-2.7 6.9-2.9 7-1.7 8.1-1.2-5.8 2.9-3.5 4.6-1.1 4.7 4.6 4.6 23.1-3.5 23.2-2.3 23.1-2M146.3 129.5l-0.3-0.9-0.8-0.5-1 0-0.8 0.5-0.3 0.9 0.3 0.9 0.8 0.5 1 0 0.8-0.5 0.3-0.9M140.3 132.4l0.9 2.3 0.9 2.3 0.3 1.3-0.7-0.5-1.1-1.9-0.5-2.4 0.2-1.1M146.1 139.4l0.8 2.2 0.4 3.2-0.8-0.7-0.5-2.5 0.1-2.2M226.6 68.8l2.5-1.1 2.9-2 1.5-1.7-0.9 0.2-2.3 2.4-2.5 1.5-1.2 0.7M177.8 76.4l-0.4-0.9-0.9-0.6-1.2 0-0.9 0.6-0.3 0.9 0.3 0.9 0.9 0.5 1.2 0 0.9-0.5 0.4-0.9M416.5 74.4l3.5-1.5 3.5-0.9 1.6 2.6-2.7 0-3.5-0.1-2.4-0.1M421.4 80.2l1-2.1-0.7-2.3 2.4-0.3-0.9 2.6-0.4 1.7-1.4 0.4M425.3 75.5l2.8-0.5 2.4 0.8-2 1.7-0.9 1.2-1.2-1.2-1.1-2M426.5 80.2l2.8-0.7 2.3-0.6-1.7 0.2-2.3 1.3-1.1-0.2M430.7 78.3l2.7-0.8 1.5 0-0.4 0.7-2.9 0.3-0.9-0.2M378.4 52.7l4-1.7 3.5 0.8-2.3 1.5-5.2-0.6M387.7 57.9l4-1.5 5.2-0.6-3.5 1.3-4 0.9-1.7-0.1M408.5 69.4l1.1-2.3 0.6-0.9 1.2 1.5-0.6 2.3-2.3-0.6"/>
</g></g>
<rect x="104.5" y="24.5" width="416" height="208" fill="none" stroke="#000" stroke-width="3"/>
<rect x="105" y="16" width="3" height="7" fill="#000"/>
<rect x="105" y="233" width="3" height="7" fill="#000"/>
<rect x="117.6" y="20" width="1" height="3" fill="#000"/>
<rect x="117.6" y="233" width="1" height="3" fill="#000"/>
<rect x="129.1" y="20" width="1" height="3" fill="#000"/>
<rect x="129.1" y="233" width="1" height="3" fill="#000"/>
<rect x="139.7" y="16" width="3" height="7" fill="#000"/>
<rect x="139.7" y="233" width="3" height="7" fill="#000"/>
<rect x="152.3" y="20" width="1" height="3" fill="#000"/>
<rect x="152.3" y="233" width="1" height="3" fill="#000"/>
<rect x="163.8" y="20" width="1" height="3" fill="#000"/>
<rect x="163.8" y="233" width="1" height="3" fill="#000"/>
<rect x="174.4" y="16" width="3" height="7" fill="#000"/>
<rect x="174.4" y="233" width="3" height="7" fill="#000"/>
<rect x="187" y="20" width="1" height="3" fill="#000"/>
<rect x="187" y="233" width="1" height="3" fill="#000"/>
<rect x="198.6" y="20" width="1" height="3" fill="#000"/>
<rect x="198.6" y="233" width="1" height="3" fill="#000"/>
<rect x="209.1" y="16" width="3" height="7" fill="#000"/>
<rect x="209.1" y="233" width="3" height="7" fill="#000"/>
<rect x="221.7" y="20" width="1" height="3" fill="#000"/>
<rect x="221.7" y="233" width="1" height="3" fill="#000"/>
<rect x="233.3" y="20" width="1" height="3" fill="#000"/>
<rect x="233.3" y="233" width="1" height="3" fill="#000"/>
<rect x="243.8" y="16" width="3" height="7" fill="#000"/>
<rect x="243.8" y="233" width="3" height="7" fill="#000"/>
<rect x="256.4" y="20" width="1" height="3" fill="#000"/>
<rect x="256.4" y="233" width="1" height="3" fill="#000"/>
<rect x="268" y="20" width="1" height="3" fill="#000"/>
<rect x="268" y="233" width="1" height="3" fill="#000"/>
<rect x="278.6" y="16" width="3" height="7" fill="#000"/>
<rect x="278.6" y="233" width="3" height="7" fill="#000"/>
<rect x="291.1" y="20" width="1" height="3" fill="#000"/>
<rect x="291.1" y="233" width="1" height="3" fill="#000"/>
<rect x="302.7" y="20" width="1" height="3" fill="#000"/>
<rect x="302.7" y="233" width="1" height="3" fill="#000"/>
<rect x="313.3" y="16" width="3" height="7" fill="#000"/>
<rect x="313.3" y="233" width="3" height="7" fill="#000"/>
<rect x="325.8" y="20" width="1" height="3" fill="#000"/>
<rect x="325.8" y="233" width="1" height="3" fill="#000"/>
<rect x="337.4" y="20" width="1" height="3" fill="#000"/>
<rect x="337.4" y="233" width="1" height="3" fill="#000"/>
<rect x="348" y="16" width="3" height="7" fill="#000"/>
<rect x="348" y="233" width="3" height="7" fill="#000"/>
<rect x="360.5" y="20" width="1" height="3" fill="#000"/>
<rect x="360.5" y="233" width="1" height="3" fill="#000"/>
<rect x="372.1" y="20" width="1" height="3" fill="#000"/>
<rect x="372.1" y="233" width="1" height="3" fill="#000"/>
<rect x="382.7" y="16" width="3" height="7" fill="#000"/>
<rect x="382.7" y="233" width="3" height="7" fill="#000"/>
<rect x="395.2" y="20" width="1" height="3" fill="#000"/>
<rect x="395.2" y="233" width="1" height="3" fill="#000"/>
<rect x="406.8" y="20" width="1" height="3" fill="#000"/>
<rect x="406.8" y="233" width="1" height="3" fill="#000"/>
<rect x="417.4" y="16" width="3" height="7" fill="#000"/>
<rect x="417.4" y="233" width="3" height="7" fill="#000"/>
<rect x="430" y="20" width="1" height="3" fill="#000"/>
<rect x="430" y="233" width="1" height="3" fill="#000"/>
<rect x="441.5" y="20" width="1" height="3" fill="#000"/>
<rect x="441.5" y="233" width="1" height="3" fill="#000"/>
<rect x="452.1" y="16" width="3" height="7" fill="#000"/>
<rect x="452.1" y="233" width="3" height="7" fill="#000"/>
<rect x="464.7" y="20" width="1" height="3" fill="#000"/>
<rect x="464.7" y="233" width="1" height="3" fill="#000"/>
<rect x="476.2" y="20" width="1" height="3" fill="#000"/>
<rect x="476.2" y="233" width="1" height="3" fill="#000"/>
<rect x="486.8" y="16" width="3" height="7" fill="#000"/>
<rect x="486.8" y="233" width="3" height="7" fill="#000"/>
<rect x="499.4" y="20" width="1" height="3" fill="#000"/>
<rect x="499.4" y="233" width="1" height="3" fill="#000"/>
<rect x="510.9" y="20" width="1" height="3" fill="#000"/>
<rect x="510.9" y="233" width="1" height="3" fill="#000"/>
<rect x="96" y="22.9" width="7" height="3" fill="#000"/>
<rect x="522" y="22.9" width="7" height="3" fill="#000"/>
<rect x="100" y="35.5" width="3" height="1" fill="#000"/>
<rect x="522" y="35.5" width="3" height="1" fill="#000"/>
<rect x="100" y="47" width="3" height="1" fill="#000"/>
<rect x="522" y="47" width="3" height="1" fill="#000"/>
<rect x="96" y="57.5" width="7" height="3" fill="#000"/>
<rect x="522" y="57.5" width="7" height="3" fill="#000"/>
<rect x="100" y="70.1" width="3" height="1" fill="#000"/>
<rect x="522" y="70.1" width="3" height="1" fill="#000"/>
<rect x="100" y="81.7" width="3" height="1" fill="#000"/>
<rect x="522" y="81.7" width="3" height="1" fill="#000"/>
<rect x="96" y="92.2" width="7" height="3" fill="#000"/>
<rect x="522" y="92.2" width="7" height="3" fill="#000"/>
<rect x="100" y="104.8" width="3" height="1" fill="#000"/>
<rect x="522" y="104.8" width="3" height="1" fill="#000"/>
<rect x="100" y="116.3" width="3" height="1" fill="#000"/>
<rect x="522" y="116.3" width="3" height="1" fill="#000"/>
<rect x="96" y="126.8" width="7" height="3" fill="#000"/>
<rect x="522" y="126.8" width="7" height="3" fill="#000"/>
<rect x="100" y="139.4" width="3" height="1" fill="#000"/>
<rect x="522" y="139.4" width="3" height="1" fill="#000"/>
<rect x="100" y="150.9" width="3" height="1" fill="#000"/>
<rect x="522" y="150.9" width="3" height="1" fill="#000"/>
<rect x="96" y="161.5" width="7" height="3" fill="#000"/>
<rect x="522" y="161.5" width="7" height="3" fill="#000"/>
<rect x="100" y="174.1" width="3" height="1" fill="#000"/>
<rect x="522" y="174.1" width="3" height="1" fill="#000"/>
<rect x="100" y="185.6" width="3" height="1" fill="#000"/>
<rect x="522" y="185.6" width="3" height="1" fill="#000"/>
<rect x="96" y="196.2" width="7" height="3" fill="#000"/>
<rect x="522" y="196.2" width="7" height="3" fill="#000"/>
<rect x="100" y="208.7" width="3" height="1" fill="#000"/>
<rect x="522" y="208.7" width="3" height="1" fill="#000"/>
<rect x="100" y="220.2" width="3" height="1" fill="#000"/>
<rect x="522" y="220.2" width="3" height="1" fill="#000"/>
<rect x="96" y="230.8" width="7" height="3" fill="#000"/>
<rect x="522" y="230.8" width="7" height="3" fill="#000"/>
<text transform="translate(106.5,253.9) scale(0.95,1)" class="ax" text-anchor="middle">0</text>
<text transform="translate(141.2,253.9) scale(0.95,1)" class="ax" text-anchor="middle">30E</text>
<text transform="translate(175.9,253.9) scale(0.95,1)" class="ax" text-anchor="middle">60E</text>
<text transform="translate(210.6,253.9) scale(0.95,1)" class="ax" text-anchor="middle">90E</text>
<text transform="translate(245.3,253.9) scale(0.95,1)" class="ax" text-anchor="middle">120E</text>
<text transform="translate(280.1,253.9) scale(0.95,1)" class="ax" text-anchor="middle">150E</text>
<text transform="translate(314.8,253.9) scale(0.95,1)" class="ax" text-anchor="middle">180</text>
<text transform="translate(349.5,253.9) scale(0.95,1)" class="ax" text-anchor="middle">150W</text>
<text transform="translate(384.2,253.9) scale(0.95,1)" class="ax" text-anchor="middle">120W</text>
<text transform="translate(418.9,253.9) scale(0.95,1)" class="ax" text-anchor="middle">90W</text>
<text transform="translate(453.6,253.9) scale(0.95,1)" class="ax" text-anchor="middle">60W</text>
<text transform="translate(488.3,253.9) scale(0.95,1)" class="ax" text-anchor="middle">30W</text>
<text transform="translate(93,28.3) scale(0.95,1)" class="ax" text-anchor="end">90N</text>
<text transform="translate(93,62.9) scale(0.95,1)" class="ax" text-anchor="end">60N</text>
<text transform="translate(93,97.6) scale(0.95,1)" class="ax" text-anchor="end">30N</text>
<text transform="translate(93,132.2) scale(0.95,1)" class="ax" text-anchor="end">0</text>
<text transform="translate(93,166.9) scale(0.95,1)" class="ax" text-anchor="end">30S</text>
<text transform="translate(93,201.6) scale(0.95,1)" class="ax" text-anchor="end">60S</text>
<text transform="translate(93,236.2) scale(0.95,1)" class="ax" text-anchor="end">90S</text>
<text x="312.3" y="11.6" class="title" text-anchor="middle" textLength="261.5" lengthAdjust="spacingAndGlyphs">LGM zg 500hPa JJA 186001_196012</text>
<rect x="545.5" y="64.2" width="25" height="13.7" fill="#fa0000" stroke="#000" stroke-width="1"/>
<rect x="545.5" y="77.9" width="25" height="13.7" fill="#ff5f00" stroke="#000" stroke-width="1"/>
<rect x="545.5" y="91.6" width="25" height="13.7" fill="#ffaf00" stroke="#000" stroke-width="1"/>
<rect x="545.5" y="105.3" width="25" height="13.7" fill="#ebf500" stroke="#000" stroke-width="1"/>
<rect x="545.5" y="119" width="25" height="13.7" fill="#91dc0a" stroke="#000" stroke-width="1"/>
<rect x="545.5" y="132.7" width="25" height="13.7" fill="#2db91e" stroke="#000" stroke-width="1"/>
<rect x="545.5" y="146.4" width="25" height="13.7" fill="#0f8c3c" stroke="#000" stroke-width="1"/>
<rect x="545.5" y="160.2" width="25" height="13.7" fill="#0f5096" stroke="#000" stroke-width="1"/>
<rect x="545.5" y="173.9" width="25" height="13.7" fill="#000ae6" stroke="#000" stroke-width="1"/>
<rect x="545.5" y="187.6" width="25" height="13.7" fill="#4646fa" stroke="#000" stroke-width="1"/>
<rect x="545.5" y="201.3" width="25" height="13.7" fill="#a5a5fa" stroke="#000" stroke-width="1"/>
<rect x="545.5" y="215" width="25" height="13.7" fill="#ffffff" stroke="#000" stroke-width="1"/>
<text transform="translate(590.6,82.8) scale(0.98,1)" class="cb" text-anchor="middle">1000</text>
<text transform="translate(590.6,96.5) scale(0.98,1)" class="cb" text-anchor="middle">900</text>
<text transform="translate(590.6,110.2) scale(0.98,1)" class="cb" text-anchor="middle">800</text>
<text transform="translate(590.6,123.9) scale(0.98,1)" class="cb" text-anchor="middle">700</text>
<text transform="translate(590.6,137.6) scale(0.98,1)" class="cb" text-anchor="middle">600</text>
<text transform="translate(590.6,151.3) scale(0.98,1)" class="cb" text-anchor="middle">500</text>
<text transform="translate(590.6,165.1) scale(0.98,1)" class="cb" text-anchor="middle">400</text>
<text transform="translate(590.6,178.8) scale(0.98,1)" class="cb" text-anchor="middle">300</text>
<text transform="translate(590.6,192.5) scale(0.98,1)" class="cb" text-anchor="middle">200</text>
<text transform="translate(590.6,206.2) scale(0.98,1)" class="cb" text-anchor="middle">100</text>
<text transform="translate(590.6,219.9) scale(0.98,1)" class="cb" text-anchor="middle">0</text>
<text transform="translate(566,49.8) scale(0.85,1)" class="unit">m</text>
<text x="577.3" y="42.9" class="sup">2</text>
<g clip-path="url(#clip1)">
<g transform="translate(0,264)">
<rect x="105.0" y="25.0" width="415.0" height="207.0" fill="#ffffff"/>
<path fill-rule="evenodd" fill="#a5a5fa" stroke="#000" stroke-width="1.0" d="M101.9 232.3l423.4 0 0-207.9-423.4 0 0 207.9Z"/>
<path fill-rule="evenodd" fill="#4646fa" stroke="#000" stroke-width="1.0" d="M101.9 232.3l423.4 0 0-78.5-26.6-1.2-57.8 0.8-18.5-2-7-1.6-11.6-0.7-30 0.6-11.6 0.8-5.8 0.9-64.8-0.8-19.6-1.1-18.6 1.6-9.2 1.3-7 1.6-15 0.9-23.1 0.4-41.7-0.4-55.5-1.5 0 78.9ZM312.1 93.7l44.3-0.1 16.2-2.1 11.6-2.7 19.6-0.9 18.6 0 30.9 1.2 28.1 1.8 43.9 1.2 0-67.7-423.4 0 0 67.6 27.7 0.1 27.8-1.9 6.9-1.4 4.7-2 9.2-9.1 20.9-1 21.9 0 9.1 2 7.1 3.5 19.7 1.7 1.7 1.7 14.5 5.4 18.5 2.2 20.5 0.5ZM260.4 75.2l-2.3-1.1-1.2-1.4-0.5-4.4 0.4-3.5 3.5-3.4 3.6-2.2 3.4-0.5 2.3 0.5 2.4 2 0.4 1.3 0.3 3.5-0.7 3.9-2.4 3-2.3 1.5-3.4 1-3.5-0.2Z"/>
<path fill-rule="evenodd" fill="#000ae6" stroke="#000" stroke-width="1.0" d="M101.9 232.3l423.4 0 0-70.2-26.6-3-30.1 1-27.7 2.3-7-3.1-11.5-2.1-7-3.1-11.6-2.1-19.6 0.4-53.2 2.5-59 0-15.1 1.2-9.2 1.7-25.5 2.9-64.8 3.5-50.9-2.1-4.6-0.8 0 71ZM301.6 87.9l18.9 0.5 35.9-0.4 25.8-3.5 2-1.8 1.3-0.5 0.5-1.2-1.8-0.8-1.2-2.9-0.9-3.2 0.2-2.3 1.9-3.2 3.5-0.4 4.8 1.2 1.4 1.2 1.1 2.3-0.8 3.5-4.9 4.6 2 1.2 5.6 0.9 49.8 1.6 31.2 2 20.8 0.4 26.6-2.6 0-60.1-423.4 0 0 60.8 4.6-0.7 23.1 0 27.8-1.2 4.6-1.4 7-3 9.2-5.2 13.9-1.5 7-1.8 15-1.4 23.1-4.9 8.1-1 7-2.6 4.6-3.1 3.5-1.6 6.9-0.9 4.7 1 2.3 2.3 1.1 2.6 0.6 5.2-1.6 12.7 0.4 3.5 3.7 2.3 6.2 1.8 6.9 1.2 10 0.4Z"/>
<path fill-rule="evenodd" fill="#0f5096" stroke="#000" stroke-width="1.0" d="M101.9 232.3l423.4 0 0-65.6-13.9-1.8-12.7-0.7-28.9 0.3-18.5 1.3-10.4 1.4-8.1-4-10.4-2.5-10.5-4.3-8.1-2.1-34.7 1.4-26.6 1.8-11.5 1.4-39.4 0.6-19.6 1.8-34.8 6.3-38.1-1-41.7 2.2-50.9-2.2-4.6-0.8 0 66.5ZM312.2 84.5l44.2-0.5 11.6-2.2 3.5-1.2 3-1.9 1.6-2.5 2.6-6.8 2-2.4 3.5-2.5 5.8 0.5 5.8 2.1 3 2.3 5 7.1 3.5 1.7 4.6 0.8 10.5 0.8 20.8 0.3 25.4 3.2 12.8 0.8 17.3-0.5 13.9-2.9 10.4-4 2.3 0.3 0-32.6-3.4-0.2-4.5-1.3-4.1-2.3-1.1-1.2-0.3-1.1 0.6-1.2 4.1-2.3 4.1-1.2 4.6-0.1 0-9.1-423.4 0 0 9.8 4.6-0.8 4.6 0.7 2.9 1.9 0.8 1.1 0.5 2.3-1 2.3-3.5 2.3-4.3 0.4-4.6-1.1 0 35.5 4.6-2.1 28.9 2.4 22 0.7 7-2.3 10.4-5.4 3.4-1 13.9-2.1 7-3.1 9.2-1 19.7-3.8 9.2-2.2 10.5-1.7 9.2-3.5 7.6-1.6 5.1-0.3 2.4 0.2 2.3 1.6 2.3 2.4 1.7 3 1.2 15.1 1.2 3.4 2 2.3 4 2.4 4.9 1.3 20.6 1Z"/>
<path fill-rule="evenodd" fill="#0f8c3c" stroke="#000" stroke-width="1.0" d="M101.9 232.3l423.4 0 0-63.9-26.6-2.5-27.7 0.6-30.1 3-12.8-4.9-24.3-7.9-19.6 0.3-27.8 1.7-54.4 6-10.4 1.8-12.6 1.1-21.9 3.5-17.5 2-2.4 0-4.6-1.5-5.8-0.9-24.3-1.8-45.1 1.8-55.5-2.8 0 64.4ZM308.6 81l28.1 0.2 19.7-0.8 2.3-0.6 5.8-1.9 4.6-2.6 1.5-1.2 6.6-9.4 2.8-2.2 4.2-1.6 5.8 0.7 4.6 1.2 4 2 9.9 7.1 3.4 1.4 4.7 1.1 5.8 0.8 18.5 0.1 4.6 0.5 22 4.6 9.2 1.2 10.5 0.2 12.7-1.3 17.3-5.8 5.8-1.5 2.3 0.1 0-24.9-5.8-0.7-21.9-5.3-3.5-1.7-1.2-1.3-0.1-2.3 2.8-2.3 4.3-1.4 19.6-3.6 5.8-0.3 0-5.1-423.4 0 0 5.5 6.9-0.4 5.8 1.4 2.6 1.6 2.2 2.3 1.1 2.3 0.2 2.3-0.5 2.3-1.3 2.3-4.3 3.2-5.8 1.2-6.9-1 0 27 4.6-1.2 4.6 0.2 46.3 4.1 12.7-6.9 16.2-2.7 5.7-1.9 4-2.3 3.1-0.9 23.1-2.5 24.3-5.9 9.3-2.9 10.4-1.8 5.8-0.3 5 1.6 3.1 3.7 1.6 4.3 0.5 8.1 1.1 5.8 2.7 3.5 5.6 3.3 17 1.3Z"/>
<path fill-rule="evenodd" fill="#2db91e" stroke="#000" stroke-width="1.0" d="M101.9 232.3l423.4 0 0-62.3-26.6-2.5-3.4 0.1-24.3 0.7-16.2 1.7-13.9 2.2-5.3-2.3-31.8-10.8-19.6 0.5-27.8 2-64.8 9-24.3 2.8-28.9 2.5-13.9-3.5-25.4-2.2-41.7 2.2-55.5-2.9 0 62.8ZM479.2 79.8l9.1-0.1 10.4-1.2 19.7-7.9 4.6-1.5 2.3-0.1 0-15.8-15.2-3.4-14.8-1.7-5.8-1.3-4.7-2.2-4-2.9-2-2.3-0.8-2.3 0.5-2.3 2.3-2.3 7.5-3.5 8.1-1.7 23.7-2.9-408.3 0 4 0.9 3.4 1.4 3.5 2.3 2.3 2.3 1.6 2.3 1.2 3.5 0 3.5-0.6 2.3-1.9 3.4-2.1 2.4-2.8 2.1-3.5 1.6-6.9 0.9-8.1-1.4 0 18.7 4.6-1.5 11.6-0.1 11.5 1.6 16.2 1.3 11.6 2.2 3.3-3.5 3.6-1.5 16.2-2.2 3.6-0.9 4.9-2.3 8.7-2.3 14.1-1.2 10.4-1.7 19.4-5.2 4.8-2.3 11.7-2.8 11.5-0.8 9.1 1.3 5.1 2.3 1.6 5.7 0.4 10.4 1.6 4.7 0.7 1.2 3.5 2.7 4.6 0.8 18.6 1.8 19.6 0.4 10.4-0.4 11.6-1.7 5.7-2.5 1.3-1.2 4.3-4.6 3.1-5.8 1.8-1.5 4.6-2.4 7-1.8 10.4 1.5 16 7.7 11.7 3.4 27.8 2.5 7 1.8 11.5 4.5 10.6 1.6ZM101.9 24.4l1.7 0-1.7 0Z"/>
<path fill-rule="evenodd" fill="#91dc0a" stroke="#000" stroke-width="1.0" d="M101.9 232.3l423.4 0 0-60.7-26.6-2.5-25.4 1-17.4 2-15 3-11.9-5.2-25.2-8.4-19.6 0.7-27.8 2.3-32.4 4.7-32.4 5.6-19.6 2.3-24.3 0.3-10.5 1.3-6.9-3-5.8-1.5-25.4-2.7-41.7 2.5-55.5-2.9 0 61.2ZM475.4 77.5l10.6 0.7 12.7-1.9 5.6-2.2 10.1-5.8 5-5.8-0.3-1.1-1.6-2.4-2.6-1.8-6.9-2.5-5.8-0.8-13.9 0-4.6-0.6-2.3-1.3-5.2-4.5-4.1-2.8-5.8-2.6-5.8-1.4-8.1-0.2-8.1 1.6-5.7 2.8-4.1 3.8-1.4 3.4 0.2 3.5 2.1 3.4 2.7 2.4 7.3 3.4 10.5 2 4.5 1.5 4.6 4.6 1.8 1.2 4.2 2.1 4.4 1.3ZM327.1 76.4l8.5 0.5 8.1-0.5 6.9-1.4 5.8-2.4 3.7-4.3 0-6.9-1.2-4.7-2.5-2.3-12.8-4.6-1.5-1.1 1.5-1.2 4-1.2 25-5.3 16.2-5.1 5.8-3 3.1-2.7 1.3-2.3-0.5-3.5-218.4 0-10 3.7-8.1 4.8-5.4 5.4-1.9 3.4-1.1 3.5 0 4.6 1 3.5 2 3.4 3.2 3.5 6.9 3.1 11.5 1.7 4.7-2.1 6.9-1.9 22-2.4 11.5-1.9 9.4-3.4 9.2-6.3 3.4-1.2 20.9-0.7 13.8 1.2 10.5 2.3 2.8 1.2 1.1 1.2-2.8 2.5-1.5 6.7-0.2 6.9 1.7 3.3 8.1 2.7 12.9 2.1 14.5 1.2ZM101.9 63.7l1-1.2-1-2.4 0 3.6Z"/>
<path fill-rule="evenodd" fill="#ebf500" stroke="#000" stroke-width="1.0" d="M101.9 232.3l423.4 0 0-59.1-26.6-2.5-27.7 1.3-16.2 2.6-13.9 3.4-15.1-6.8-22-7.3-19.6 0.9-27.8 2.7-30.1 4.6-34.7 6.8-19.6 2.4-15.1-0.5-9.2-1-11.6 1-8.5-3.9-4.2-1.3-24.3-2.7-41.7 2.8-55.5-3 0 59.6ZM481.8 76.4l8.8-0.4 8.8-1.9 8.8-5.8 1.9-3.5 0.1-2.3-2.1-2.3-2.4-1.2-8.1-1.3-11.6 1.2-8.1 1.9-3.5 1.3-2.3 1.9-2.2 3.1 1.1 5.4 4.6 2.7 6.2 1.2ZM335.1 75.2l7.4-0.3 6.9-2 4.2-3.5 0.7-1.1-0.7-2.3-3-3-4.6-2.1-5.8-1.5-9.2-0.9-9.3-0.1-6.9 0.7-7 2.2-2.6 2.4 0 2.3 0.9 1.1 5.2 2.3 6.9 1.6 11.6 3.5 5.3 0.7ZM454 61.4l8.9 0.1 4.6-0.9 2.3-1 2.3-3.1 0.3-2.1-0.5-2.3-3.3-3.6-3.4-1.8-3.5-1-8.1-0.3-7.1 2.1-3.8 3.5-0.6 2.3 0.6 2.3 1.6 2 2.4 1.6 7.3 2.2ZM177.9 60.2l26.3-2.3 14.8-2.3 5.3-2.3 3.7-2.3 6.9-7 5.8-1.6 7-0.1 24.3 1.3 19.6 1.8 12.7 0.2 22-0.9 22-2.7 16.2-3.2 12.8-4 4.5-2.3 2.9-2.3 1.4-2.3 0-2.3-0.5-1.2-184.5 0-24.5 10.4-5.2 3.5-3.1 3.4-1.8 4.6 0.2 3.5 0.9 2.3 3.8 4.6 3.3 2.3 3.2 1.2Z"/>
<path fill-rule="evenodd" fill="#ffaf00" stroke="#000" stroke-width="1.0" d="M101.9 232.3l423.4 0 0-57.5-26.6-2.4-27.7 1.5-17.7 3-12.4 4-16.2-7.8-8.5-3.2-12.4-3.6-19.6 1-27.8 3.1-27.8 4.5-37 8.2-19.6 2.7-15.1-1.5-4.6-1.3-5.8-0.9-13.9 0.8-1.3-0.3-2.5-3.4-6.6-2.1-23.1-2.8-41.7 3-55.5-3.1 0 58.1ZM216.4 193.1l1.3-1.2 4.5-1.7 2.3-0.2 1.1 0.7-0.7 1.2-2.7 1.3-3.5 0.5-2.3-0.6ZM480.2 74.1l4.6 0.5 4.7-0.2 8.1-2.1 5.8-4 0.9-2.3-0.4-2.3-2.9-2-5.7-0.9-7 0.7-6.7 2.2-5.2 3.4-0.8 2.3 0.6 2.4 1 1.1 3 1.2ZM331.3 72.9l6.6 0.9 5.8-0.6 4.6-2.2 1.8-2.7-1.8-2.8-4.6-2.2-5.8-0.9-6.9 0.7-4.7 2.2-1.3 1.8-0.1 1.2 1.5 2.3 4.9 2.3ZM452.7 56.7l4.4 0.8 4.7-0.8 2.8-2.3-0.2-2.3-1.5-1.4-3.5-1.3-3.5-0.2-3 0.6-2.2 1.2-1.3 2.3 1.3 2.3 2 1.1ZM195 53.3l12.2 0.4 9.5-1.6 5.1-2.3 5-5.8 2.9-2.3 2.9-1.2 4.6-0.7 7 0 35.9 3 17.3 0.8 22-0.6 22-2.2 15-2.7 11.3-3.3 6.9-3.5 2.4-2.3 0.8-2.3-0.8-2.3-165.1 0-6.3 3.5-6.8 4.6-10.3 8.1-2.8 3.4-0.7 3.5 2 3.5 1.4 1.1 6.6 1.2Z"/>
<path fill-rule="evenodd" fill="#ff5f00" stroke="#000" stroke-width="1.0" d="M101.9 232.3l423.4 0 0-56.2-26.6-2.3-27.7 1.9-8.9 1.2-7.9 2.3-6.4 2.9-6.9 1.7-4.7-1.9-3.6-2.7-4.8-2.3-17.8-7-6.2-1.1-11.5 0.4-23.7 1.9-12.2 2.3-15 1.9-19.7 3.7-6.9 2.5-11 1.1-6.4 2.1-5.5 2.6-17.6 2.3-4 0-5.3-1.4-11.1-0.9-3.9-2.1-5-1.4-6.6 0-3.5 0.8-3.3 1.5-0.1 4.6-2.1 2.3-8.4 2.9-34.7 2.1-31.2 0.3-9.3-0.6-0.9-1.2 6.7-1 16.2-0.6 22-2.7 22-1.4 5.8-1.6 6.9-3.1 2.2-2.3 0.5-2.3-1.8-2.3-2-0.6-11.6-1.8-12.7-1.1-41.7 2.9-55.5-2.9 0 56.6ZM479.1 219.6l0 0ZM333.4 71.8l4.5 0.7 4.6-0.6 3-1.3 1.3-2.3-2-2.3-2.3-1-4.6-0.6-3.7 0.4-2.9 1.2-1.8 2.3 0.2 1.1 1.1 1.2 2.6 1.2ZM483.4 71.8l4.9 0.5 5.8-1.4 4.4-2.6 0.1-2.3-1.1-1.2-3.4-0.9-3.5 0.1-4.6 1.2-3.5 1.8-1.1 1.3 0.4 2.3 1.6 1.2ZM208.5 45.2l2.1 0.8 3.5-0.3 2.3-1 5.2-4.1 2.9-1.6 4.6-1.4 4.7-0.5 8.1 0.2 23.1 2.7 24.3 1.8 20.8-0.1 20.9-1.5 15-2.2 12.9-3.2 7.8-3.5 2.7-2.3 0.8-2.3-0.8-2.3-148.1 0-9 5.8-4.1 4.6-2 5.8 0.3 2.3 2 2.3Z"/>
<path fill-rule="evenodd" fill="#fa0000" stroke="#000" stroke-width="1.0" d="M101.9 232.3l423.4 0 0-55.3-26.6-1.9-27.7 1.8-8.4 2.3-3.2 2.9-3.5 1.7-15 1.9-9.3-1.9-2.3-1.9-1.8-2.7-5.1-2.3-8.1-1.8-4.3-2.9-6.2-2.3-19.6 1.2-18.5 3.2-12.7 1.4-12.8 2.5-9.2 1-9.3 2.6-6.9 0.8-5.8 1.4-3.2 0.9-2.5 2.4-1.3 0.4-8.1 1.7-21.9 1.6-24.3-2.2-5.8-1.3-0.4-0.2 0.4-1.2-4.7-0.1 0 1.7 2.6 1.9 0.3 2.3-4.5 2.3-14.6 3.8-38.1 2.4-24.3 0.5-11.6-0.3-8.1-0.9-4.6-1.5-0.9-0.5 0-1.2 3.2-1.5 6.9-1.1 68.3-5.4 7.3-2.4 3.5-2.3 1.5-2.3-1.9-1.8-2-0.5-9.6-0.8-11.5-1.8-41.7 3.2-55.5-3.1 0 55.6ZM476.7 227.7l-8.1-0.9-6.9-2.3-3.6-2.6-0.6-1.1 0-2.4 3-3.1 4.7-2 6.9-1.4 7-0.5 6.9 0.5 6.9 1.4 4.7 2 3 3.1 0 2.4-0.6 1.1-2.4 2-3.2 1.5-8.4 1.9-9.3 0.4ZM335.7 70.6l5.3 0 2.1-1.2 0.3-1.1-1.2-1.2-2-0.6-4.6 0.2-2.2 1.6 0.3 1.1 2 1.2ZM276.9 39.4l14.7 0.8 15.1 0 14.1-0.8 13.6-1.5 11.6-2.2 10.2-3.2 4.1-2.3 1.2-1.2 1-2.3-1-2.3-130.4 0-4.3 3.5-1.2 2.3 0.4 1.1 3.1 1.3 27.8 4.6 20 2.2Z"/>
</g>
<g transform="translate(160,305) rotate(-10)"><rect x="-10.0" y="-6.5" width="20" height="13" fill="#fff"/><text x="0" y="3.6" class="cl" text-anchor="middle">600</text></g>
<g transform="translate(248,302.5) rotate(0)"><rect x="-12.5" y="-6.5" width="25" height="13" fill="#fff"/><text x="0" y="3.6" class="cl" text-anchor="middle">1000</text></g>
<g transform="translate(276,304.5) rotate(0)"><rect x="-10.0" y="-6.5" width="20" height="13" fill="#fff"/><text x="0" y="3.6" class="cl" text-anchor="middle">800</text></g>
<g transform="translate(165,337.5) rotate(0)"><rect x="-10.0" y="-6.5" width="20" height="13" fill="#fff"/><text x="0" y="3.6" class="cl" text-anchor="middle">400</text></g>
<g transform="translate(125,350.5) rotate(-45)"><rect x="-10.0" y="-6.5" width="20" height="13" fill="#fff"/><text x="0" y="3.6" class="cl" text-anchor="middle">400</text></g>
<g transform="translate(368,312) rotate(0)"><rect x="-10.0" y="-6.5" width="20" height="13" fill="#fff"/><text x="0" y="3.6" class="cl" text-anchor="middle">600</text></g>
<g transform="translate(311,346.7) rotate(-10)"><rect x="-10.0" y="-6.5" width="20" height="13" fill="#fff"/><text x="0" y="3.6" class="cl" text-anchor="middle">400</text></g>
<g transform="translate(339,348) rotate(0)"><rect x="-10.0" y="-6.5" width="20" height="13" fill="#fff"/><text x="0" y="3.6" class="cl" text-anchor="middle">200</text></g>
<g transform="translate(491,315.7) rotate(0)"><rect x="-10.0" y="-6.5" width="20" height="13" fill="#fff"/><text x="0" y="3.6" class="cl" text-anchor="middle">600</text></g>
<g transform="translate(173,459) rotate(-5)"><rect x="-12.5" y="-6.5" width="25" height="13" fill="#fff"/><text x="0" y="3.6" class="cl" text-anchor="middle">1000</text></g>
<g transform="translate(288,417) rotate(0)"><rect x="-10.0" y="-6.5" width="20" height="13" fill="#fff"/><text x="0" y="3.6" class="cl" text-anchor="middle">200</text></g>
<g transform="translate(272.5,443.5) rotate(0)"><rect x="-10.0" y="-6.5" width="20" height="13" fill="#fff"/><text x="0" y="3.6" class="cl" text-anchor="middle">600</text></g>
<g transform="translate(323.7,428) rotate(-25)"><rect x="-10.0" y="-6.5" width="20" height="13" fill="#fff"/><text x="0" y="3.6" class="cl" text-anchor="middle">400</text></g>
<g transform="translate(353,434.5) rotate(-5)"><rect x="-10.0" y="-6.5" width="20" height="13" fill="#fff"/><text x="0" y="3.6" class="cl" text-anchor="middle">800</text></g>
<g transform="translate(382.5,437.5) rotate(8)"><rect x="-12.5" y="-6.5" width="25" height="13" fill="#fff"/><text x="0" y="3.6" class="cl" text-anchor="middle">1000</text></g>
<g transform="translate(472.4,440) rotate(-15)"><rect x="-10.0" y="-6.5" width="20" height="13" fill="#fff"/><text x="0" y="3.6" class="cl" text-anchor="middle">800</text></g>
<g transform="translate(503,424.3) rotate(0)"><rect x="-10.0" y="-6.5" width="20" height="13" fill="#fff"/><text x="0" y="3.6" class="cl" text-anchor="middle">200</text></g>
<g transform="translate(0,264)">
<path fill="none" stroke="#000" stroke-width="2.5" stroke-linejoin="round" d="M100 86.9l-1.5 2.2-3.1 4.1-0.8 1.4-3.4 1.8-1.5 1.8-1.7 2.8-1.3 3.1 0.7 1.7 0.5 1.8-0.5 2.3-1 1.5 0.8 2.5 1.9 1.7 2 1.8 0.9 2.3 2.4 1.5 3.4 2.1 4.1-1 3.4 0.3 2.9-1.4 3.5-0.1 1.7 2.3 2.9-0.4 1.2 1.3 0.3 2.9-0.7 2.3 3.1 4 0.5 1.8 1.2 3.2 0.2 3.7-1.5 3.7-0.5 2.4 1.4 3.1 1.8 3.4 0.8 4.3 1.5 2.3 1.7 3.3 0.5 2.9 1.8 0.9 2.9-0.9 3.6 0 2.7-1.1 3.6-3.6 1.8-4.5 3.4-2.3-0.3-2.3-0.5-2.6 2.5-2.2 4.1-3.3 0-5.2-1.4-4.3 0.4-3.2 2.1-2.7 4.4-4.3 3.1-3.4 3.3-5.8 0.6-2.1-3.9 0.7-3.4 0.9-2.1-1.3-0.5-1.1-2.1-2.3-1.7-1.3-1.2-2.7-1.5-1.9-1.3-2.8-1.2-2.3-1.4-3.4-1.5-3.5-0.2-1.5-2.8 0.1-5.7-0.6-1.1-0.4-4.7 0-1.1 2.1-4.1-1.3-2.6-1.7-2.6-0.7-0.9-3.9-2.5-0.1-5.8 0.1-4.2 1.3-1.6 0.7-4.2-0.9M516.5 86.9l-1.5 2.2-3.1 4.1-0.8 1.4-3.4 1.8-1.5 1.8-1.7 2.8-1.3 3.1 0.7 1.7 0.5 1.8-0.5 2.3-1 1.5 0.8 2.5 2 1.7 1.9 1.8 1 2.3 2.3 1.5 3.4 2.1 4.1-1 3.5 0.3 2.9-1.4 3.4-0.1 1.8 2.3 2.9-0.4 1.1 1.3 0.4 2.9-0.7 2.3 3 4 0.6 1.8 1.1 3.2 0.2 3.7-1.5 3.7-0.5 2.4 1.5 3.1 1.7 3.4 0.8 4.3 1.5 2.3 1.7 3.3 0.5 2.9 1.9 0.9 2.9-0.9 3.5 0 2.7-1.1 3.6-3.6 1.8-4.5 3.4-2.3-0.2-2.3-0.6-2.6 2.5-2.2 4.1-3.3 0-5.2-1.4-4.3 0.5-3.2 2-2.7 4.4-4.3 3.2-3.4 3.2-5.8 0.6-2.1-3.8 0.7-3.5 0.9-2.1-1.3-0.5-1.1-2-2.3-1.8-1.3-1.1-2.7-1.5-1.9-1.4-2.8-1.2-2.3-1.4-3.4-1.5-3.5-0.2-1.5-2.8 0.1-5.7-0.6-1.1-0.4-4.6 0-1.2 2.1-4-1.3-2.7-1.7-2.6-0.7-0.9-3.9-2.5-0.1-5.8 0.1-4.2 1.3-1.6 0.7-4.2-0.9M163.5 142.2l1.3 3.9-1.1 3-1.7 5.2-1 2.8-2.4 0.7-1.5-2.3-0.5-2.3 1.3-2.3-0.5-2.9 2.7-1.5 1.8-2.4 1.6-1.9M100 86.8l-0.8-1-3-0.2-0.7-1.9 0.8-3.9-0.6-1.1 1.5-0.8 4.9 0.2 2.3 0.1 0.7-2.6-1.1-1.8-2.8-1.2 3.4-0.5 0.5-1 1.6 0.1 1.7-1.6 1.8-0.6 1.3-0.9 0.6-1 2.4-0.4 1.8-0.5 0.5-1.3-0.9-0.8 0.1-1.7 2.8-0.7-0.2 1.7-0.5 1.4 1.1 0.7 1.8 0 1.9 0.6 2.1-0.5 3-0.1 2.9-1.5-0.1-1.4 3.5-0.1-0.6-1.7 1.4-1.1 3.8-0.1 2.5-0.4-1.3-0.4-4.7 0-3.1-0.2-0.9-1.3 0.1-1.9 4.4-2.1-1.4-0.9-2.4 0.2-2.1 2.1-3.5 1.6-0.1 1.9 2 1.7-2.7 2.3-0.7 1.2-2.1 1-1.5-0.3-1-2.4-1.2-1.5-0.3-1-3.1 2-2.7-0.9-0.5-1.7-0.3-1.9 3.5-1.6 2.7-0.7 1.9-1.7 2.8-2.1 1.8-1.4 3.4-1.2 5.5-1.3 2.5-0.5 3.1 0.3 2.9 0.7 2.3 1 3.5 0.3 5.7 1.7-1.1 1.9-5.8 0-0.6 1.8 2.9 0.6 4.1-0.6 4-2.1 0.2-2.3 4.4 0.7 5.8-0.9 5.8-0.5 2.3 0.1 7-0.2 0.5-2.1 2.7-3.1 3.7 0.8 0.6 2 0.6 3.5 2.3-4.6 3.4-0.5 2.9-1.2 7.6-0.6 9.2-2.3 5.8-0.6 5-1.4 4.3 1.4 5.7 3.2 8.1 0.8 7-0.4 4.6 2.7 11.6-1.7 11.6 1.2 11.5 2.2 11.6-0.5 11.6 1.3 11.5 3.3-2.3 1.9-6.9-0.5-4.1 0.1 0.6 2.6-5.8 0.8-4.6 2-7.5 0.2-0.6 2.2-1.2 2.3-2.3 1.7-3.8 4-0.8-1.7-0.6-2.9 0.6-2.9 2.3-1.1 2.9-3.1-1.7-0.7-5.8 3.1-3.7-0.6-4.4 0.4-4.4-0.2-3.7 2.2-2.9 4.1 4.5 1.3-1 3.9-2.9 3.4-3.5 3.5-3.6 0.5-2.2 0.9-0.7 2.7-1.6 1.7 1.6 2.9-0.4 1-2.9 0.7 0-3.5-1.8-0.5-0.6-2.3-3.4 1.1-0.6-2.1-3.5 2-0.2 0.7 1.2 1 1.9-0.2 2.3 0.9-2.9 1.7 0 1.8 2.2 3.4-0.4 2.9-2.3 3.5-2.4 2.1-3.8 1.6-4.3 1.3-0.5 1-1.8-1.5-2.3 1.3-0.8 1.7 1.4 2.9 2.1 1.5 0.6 3.7-2.7 1.7-2.3 2.2-0.2-1.8-2.1-1-2.3-1.9-1-0.9-1.1 3.4 1.2 2.3 0.9 2 2.7 2.3 1 3.8-0.9 0.2-2.3-1.7-1.5-3.1-2.2-2.9 0.3-2.3-1.1-7.5-3.6 0.6-0.5-4.1-2-1.7-0.6-1.6-2.1 0.6-2.3 0.3-1.4 1.3-2.1 1.5-3.1 3.1-2.4 3.9-0.5 3.3-2.6 2.5-1.4-2.1-1.8-3.4-2-7-0.4-2.5-0.2-1.4-2.9 1.7-1.3-1.8 1.3-0.7-1.7-0.7-1.8-1.4-4.6-0.5-6.6-0.6-0.4-1.4-0.6-0.3-2.8 0.5-3.5-1.4-1.2-2.3-1.7 0-0.6 0.8 2 2.7 1.3 2.3 0.9 1.1 3.4-0.2 2-2.4 0.2 2.1 2.5 1 1.4 1.4-2.3 3.9-3.3 2.3-3.2 1.6-3.7 1.3-4.6 2-1.9 0.1-0.8-2.7-0.8-2.3-3.2-5.2-2.6-4-1.7-3.4-0.6-1.8-0.6 1.7-2.2-2.2-0.3-1.6 2.2 0 0.7-0.8 0.8-2.2 0.3-1.9 0.3-1.1-1.8-0.4-4.4-0.1-3.1 0.1-1.2-1.9-0.5-1.7 0.1-0.4 2.8-0.8-3.5 0.2-3.6 0.3 0.2 3.1-1.2 1.6-1.2-2.3-1.7-2.3-0.6-1.8-3-1.7-2.2-2-0.8-0.4-1.8 0.2 0.1 1.1 2.2 2.4 3.1 1.5 1.8 1.1-1.5 0.8-0.7 1.1-1.2 0.3-1.5-3-2.4-1.1-2.2-2-1.6-1-1.9 0.8-2.8 0.3-2.1 0.1 0.2 1.2-1.2 1-1.5 0.5-1.3 1.7 0.5 0.6-0.8 0.8-1.7 1.7-2.8 0.2-1.4 0.8M516.5 86.8l-0.8-1-3-0.2-0.7-1.9 0.8-3.9-0.5-1.1 1.5-0.8 4.8 0.2 2.3 0.1 0.7-2.6-1.1-1.8-2.8-1.2 3.5-0.5 0.4-1 1.7 0.1 1.6-1.6 1.8-0.6 1.3-0.9 0.6-1 2.4-0.4 1.9-0.5 0.4-1.3-0.9-0.8 0.1-1.7 2.8-0.7-0.1 1.7-0.6 1.4 1.1 0.7 1.8 0 1.9 0.6 2.1-0.5 3-0.1 2.9-1.5-0.1-1.4 3.5-0.1-0.6-1.7 1.4-1.1 3.8-0.1 2.6-0.4-1.4-0.4-4.7 0-3.1-0.2-0.9-1.3 0.1-1.9 4.4-2.1-1.4-0.9-2.4 0.2-2.1 2.1-3.5 1.6-0.1 1.9 2 1.7-2.7 2.3-0.7 1.2-2.1 1-1.5-0.3-1-2.4-1.2-1.5-0.3-1-3.1 2-2.7-0.9-0.4-1.7-0.4-1.9 3.5-1.6 2.8-0.7 1.8-1.7 2.8-2.1 1.8-1.4 3.4-1.2 5.5-1.3 2.5-0.5 3.1 0.3 2.9 0.7 2.3 1 3.5 0.3 5.8 1.7-1.2 1.9-5.8 0-0.6 1.8 2.9 0.6 4.1-0.6 4-2.1 0.3-2.3 4.4 0.7 5.7-0.9 5.8-0.5 2.3 0.1 7-0.2 0.6-2.1 2.6-3.1 3.7 0.8 0.6 2 0.6 3.5 2.3-4.6 3.5-0.5 2.9-1.2 7.5-0.6 9.2-2.3 5.8-0.6 5-1.4 4.3 1.4 5.8 3.2 8.1 0.8 6.9-0.4 4.6 2.7 11.6-1.7 11.6 1.2 11.5 2.2 11.6-0.5 11.6 1.3 11.6 3.3-2.4 1.9-6.9-0.5-4.1 0.1 0.6 2.6-5.8 0.8-4.6 2-7.5 0.2-0.6 2.2-1.1 2.3-2.4 1.7-3.8 4-0.8-1.7-0.6-2.9 0.6-2.9 2.3-1.1 2.9-3.1-1.7-0.7-5.8 3.1-3.7-0.6-4.4 0.4-4.4-0.2-3.7 2.2-2.9 4.1 4.5 1.3-1 3.9-2.9 3.4-3.5 3.5-3.6 0.5-2.2 0.9-0.7 2.7-1.6 1.7 1.6 2.9-0.4 1-2.9 0.7 0-3.5-1.8-0.5-0.5-2.3-3.5 1.1-0.6-2.1-3.5 2-0.2 0.7 1.2 1 1.9-0.2 2.4 0.9-2.9 1.7 0 1.8 2.2 3.4-0.5 2.9-2.3 3.5-2.3 2.1-3.9 1.6-4.2 1.3-0.6 1-1.7-1.5-2.4 1.3-0.8 1.7 1.4 2.9 2.1 1.5 0.6 3.7-2.7 1.7-2.3 2.2-0.2-1.8-2.1-1-2.3-1.9-0.9-0.9-1.2 3.4 1.3 2.3 0.8 2 2.8 2.3 0.9 3.8-0.8 0.2-2.3-1.7-1.5-3.1-2.2-2.9 0.2-2.3-1.1-7.5-3.5 0.6-0.6-4.1-2-1.7-0.6-1.6-2.1 0.6-2.3 0.3-1.4 1.3-2 1.5-3.2 3.1-2.4 3.9-0.5 3.3-2.6 2.5-1.4-2.1-1.7-3.4-2.1-7-0.4-2.5-0.2-1.4-2.9 1.7-1.3-1.8 1.3-0.7-1.7-0.7-1.8-1.4-4.6-0.5-6.6-0.6-0.3-1.4-0.7-0.3-2.8 0.5-3.5-1.4-1.1-2.3-1.8 0-0.5 0.8 1.9 2.7 1.3 2.3 0.9 1.1 3.4-0.2 2.1-2.4 0.1 2.1 2.5 1 1.4 1.4-2.3 3.9-3.2 2.3-3.3 1.6-3.7 1.3-4.6 2-1.9 0.1-0.8-2.7-0.8-2.3-3.2-5.2-2.6-4-1.7-3.4-0.6-1.8-0.6 1.7-2.2-2.2-0.3-1.6 2.2 0 0.7-0.8 0.8-2.2 0.3-1.9 0.3-1.1-1.8-0.4-4.4-0.1-3.1 0.1-1.1-1.9-0.6-1.7 0.1-0.4 2.8-0.8-3.5 0.2-3.6 0.3 0.2 3.1-1.2 1.6-1.2-2.3-1.7-2.3-0.6-1.8-3-1.7-2.2-2-0.8-0.4-1.7 0.2 0.1 1.1 2.2 2.4 3 1.5 1.8 1.1-1.5 0.8-0.7 1.1-1.1 0.3-1.5-3-2.5-1.1-2.2-2-1.6-1-1.8 0.8-2.9 0.3-2.1 0.1 0.2 1.2-1.1 1-1.5 0.5-1.4 1.7 0.6 0.6-0.9 0.8-1.7 1.7-2.8 0.2-1.4 0.8M140.1 80.8l-1.2-0.5-0.1-1.8 0.9-1.2 1.2-1.2 1.1-1.5 1.5 0 1.8 1.8 0 0.6 2.3-0.6 1.1-0.4 1.8-1.9 1.4-0.3-1.4 1.4-0.3 1.5 2 1.4 2.4 2.2-2.2 0.7-4.2-0.8-3.5-0.4-2.3 1.1-2.3-0.1M161.5 75.6l2.3-1 2.7-0.5 1.3 1.1 0.3 0.8-2.2 1 0 1.5 1.8 1.6-0.1 2.1 1.3 1.2 0 1.9-3.4 0.7-2.3-1-0.1-1.1 0.7-2.1-1.1-1.7-1.2-1.4-0.6-1.5 0.6-1.6M166.7 45.8l3.4-2.3 2.3-2.4 5.8-1.1 7.6-0.4-2.9 1.5-5.8 2.4-4.7 3.2-4.6-0.1-1.1-0.8M119.2 37.7l1.2-1.5 6.9-0.6 10.4 0.4-5.7 2.3-5.8 1.6-3.5-1.1-3.5-1.1M216.4 36.5l5.8 0.6 5.8 0.6-4.6-2.9-7 0.6 0 1.1M265 41.7l5.8-0.9 6.9 0.3 2.4 0.6-8.1 1.8-5.8-0.6-1.2-1.2M162 35.7l8.1-0.9 8.1 0.2-4.6 1-9.3 0.1-2.3-0.4M313 46.3l3.5-0.5 2.3 0.5-4 0.3-1.8-0.3M258 89.1l1.2-1.8 4.1-0.1 1.5-1.9 2.5-0.8 1.2-2.3 0.7-1.6 1 0.2 0.6 1.9-1.2 1.8-0.1 1.3-0.1 1.8-1.2 0.3-1.1 0.5-2.1 0-1.1 1.3-1.2-1.3-2.3 0.3-2.4 0.4M256.9 89.7l2.2 0.3-1 2.2-1 0.1-0.4-1.7 0.2-0.9M259.8 90.2l2.4-1.4 0.1 0.5-1.9 1.3-0.6-0.4M268.5 80.4l1.9-4.5 4.4 2.4-2.5 1.5-2.7-0.5-1.1 1.1M270.8 75.2l1.7-0.6 0.6-2.8-1.1-2.4-0.4-3.8-0.8 3.8-0.2 2.9 0.2 2.9M245.6 102.4l-0.3-1.2 1.8-2.1 0.6 0.4-1.2 3.4-0.9-0.5M232.2 106.2l1.6-1.1 1.1 0.6-1.7 1.6-1-1.1M245.9 107l2 0-0.2 2.9 2.3 4-3.5-1.5-1.2-1.4 0.6-4M247.7 120.3l1.7-1 3.5 1-0.6-2.9-2.9 1.1-1.7 1.8M247.7 115.6l1.7 1.2 1.7-1.2 0-1.7-2.3 0.6-1.1 1.1M242.1 118.6l2.7-3.3-0.6 1.5-2.1 1.8M232.6 126.6l0.7 2.9 0.8 2.3 4.9 1.2 2.3-2.3 1.7-3.5 1.2-4.6-2.3-2.3-1.8 2.3-2.9 2.1-2.3 1.6-2.3 0.3M216.8 121.9l2.5 0.4 3.2 3.2 3.7 2.3 1.2 2.9 1.7 1.3-0.1 3-1.6 0.2-2.9-2.2-1.7-2.9-2.3-3.7-2.9-2.4-0.8-2.1M228.2 136.2l1.5-0.9 2.3 0.6 2.9 0 2 0.5 2.1 1-0.4 1-3.7-0.6-3.4-0.4-1.8-0.5-1.5-0.7M244.8 134.7l-0.6-2.9 0.9-4 0.8-0.6 4.6-0.6 0.6 0-4.6 1.2 0.6 1.7 2.1-0.1-2.1 1 1.1 3.1-1.7-1.7-0.6 2.9-1.1 0M249.4 140.2l1.7-1.5 2.7-0.6-2.7 1.3-1.7 0.8M239.6 138.1l4.6 0.2 4-0.2-2.9 0.5-4.6 0-1.1-0.5M254 126.3l1.2 0.9-0.6 2.1-0.6-3M254.6 132l3.2 0.3-1.5-0.5-1.7 0.2M258.1 129.5l3.4-0.2 4.7 0.8 3.4 1.3 4.1 1.3 1.7 2 1.8 0.6 0.5 2.3 2.6 2.9-3.7-0.6-3.5-2.3-1.7 1.4-1.8-0.3-2.9-0.8-0.8-3.8-3.8-1.1-2.9-1.4-1.1-2.1M278.3 134.7l3.5-1.4 0.8 0.8-2.5 1.4-1.8-0.8M287.6 136.4l2.9 1.8 2.9 1.7-1.8-0.8-2.9-1.7-1.1-1M238.4 153.5l3.1-1.4 5-1.2 1.4-1.8 1.5-1.7 2.3-2.3 1.7-0.8 2.9 1.3 1.2-2.8 2.3-1.2 3.5 0.6 1.5 0.2-0.9 1.5-0.6 1.8 2.3 1.7 3.8 1.2 0.8-2.9 0.4-2.9 0.8-2.1 1.1 3.8 2.1 1.2 0.8 3.4 2.9 2.7 2.3 2.5 2.9 3.5 0.7 3.6-0.8 3.3-2 2.8-1.3 3.6-2.4 0.9-1.9 1.5-1.7-1.4-4.5 0.3-1.7-1.3-1.2-1.7-0.8-3.4-2 2.8-0.6-0.6-1.8-2.1-3.4-1.4-5.8 1-2.3 1.8-5.2 0.5-1.9 0.9-3.2-0.9 0.7-2.7-1-3.5-1.7-3.2 0.5-2.5 0.2-2.6M273.8 175.4l4.3 0.2-0.4 2.6-2.3 0.5-0.9-1.6-0.7-1.7M306.3 168.1l2.4 2.8 4.3 1-1.7 2.1-2.1 2.4-0.7-2.1-0.9-0.7 0.9-2.5-2.2-3M306.3 175.1l1.9 1.4-1.8 2.4-2.1 1.4-2.3 1.9-2.9-0.7 1.8-2.3 3.2-1.8 2.2-2.3M198.9 121.4l0.2-4.4 2.2 2.7-0.5 1.6-1.9 0.1M328.6 52.6l2.4-3.1 3.4-2 7.2-1.5 5.6 0.6 10.4 0.8 8.1 0.9 8.1-0.8 5.8 0.6 8.1 0.7 4.6 0.8 8.1-0.4 9.2 0.8 3.5-0.8 5.8-0.5 4 1.7 1.8-2.3 3.4 0 0.6 3.4-6.3 2.9-3.5 0-4.6 3.5-0.3 2.5 2.6 2.1 4.6 0.6 6.6 1.6 2.1 4.2 1.7-0.6 0.6-3.5 1.7-4-1.1-2.3 0.6-2.3 5.2 0.3 3.4 1.4 0.6 2.7 5.2-1.9 4.1 4.4 5.2 3.5 1.5 1.7-5 2.1-7.5 0.2-4.6 3.5 6.3-2.1 0.6 2.6 4 1.2 1.2-0.6-4 1.8-2.9 0.8-1.2-1.4-3.5 1.5 0 2.2-2.3 0.7-2.3 0.7-0.2 1.2-1.5 0.8-0.6 2.1 0.6 2.1-2.7 1.4-1.4 0.9-2.3 1.4-0.5 2 1.5 4.3-0.4 1.5-1.2-0.6-1.4-2-0.9-2.7-1.7 0.3-3.5-1.1-1.5 1.8-2-0.6-3.4-0.1-3.7 2-0.4 2.7-0.3 3.5 2 3.8 1.8 1.1 4-0.5 0.7-2.7 4-0.6-0.6 3.5-0.8 2.9 3.7 0 2.1 1.1-0.5 4.6 0.7 1.2 4 0.6 2.4 1 0.2 0.7-0.7 0.9-0.1-0.9-2.3 0.6-3.5-1.2-3.1-2.3-2.1-2.9-4.6-1.1-2.9-2.3-2.9 0.3-4-1.3-6.4-3.7 0-2.8-4.1-4.1-4-3.4-2.6-3.2 2 4.3 3.5 4.6 0.1 1.3-2.5-2.2-2.3-3.7-1.9-2.3-1.7-2.9-1.6-1.7-2.4-0.7-2.2-3.6-1.7-3.1-0.6-2.8 0.6-3.9-0.9-2.6 2-0.6-4.6-2.1-3.5-4.3-4.6-4-4.1-1.2-2.9-0.9-6.9-1.2-4.6-0.2-2.3 1.7-4.7 2.3-6.9 2.9-2.9 0.6 5.2-2.3 2.9-2.5-5.2 0-3.3-2.1-0.8-2.3 1.2-0.8 4-1.4-5.7-0.3-2.4-1.1M380.4 72.4l-5.8-2.6 3.8 0.8 2 1.8M430.5 43.2l10.4 3.7 10.4 4.3-2.9 4-4.1 1-5.7-2.3-5.8 0 5.2-2.4-0.6-1.7-8.1-1.7-5.2-0.6-4.1-2.3 4.7-1.7 5.8-0.3M430.5 40l5.7-2.3 11.6-3.5 3.5-1.1-15.1-0.6-19.6 2.3 2.3 4 11.6 1.2M430.5 42.3l-13.9-0.3 2.3-2 11.6 0.3 0 2M386.5 43.5l16.2 0.5 2.9 3.5-6.4 1.5-10.4-0.6-3.5-2.6 1.2-2.3M378.4 45.2l5.8-2.6 4.6 1.4-8.1 2.2-2.3-1M388.8 41.1l12.7-0.5-1.1 1.4-10.4 0.3-1.2-1.2M405 44l5.8-0.9 1.1 2.1-4.6 1.1-2.3-2.3M422.4 53.3l8.1 1.1-3.5 1.2-4.6-1.2 0-1.1M411.9 36l7-1.4 4.6 1.9-6.9 1.2-4.7-1.7M438.6 38l5.7 2.3 12.8 0.8 2.3 5.2 3.5 2.9-1.2 2.9 3.5 4.1 2.3 1.7 5.2 1.4 2.9-2.6 3.5-4 6.9-2.9 11.6-2.9 0-2.9 3.4-2.9 0.6-4.6 7.5-2.3-20.8-2.3-17.3 1.2-17.4 0.5-5.8 1.8-9.2 2.6M497.6 54.4l-2.3-1.7 2.3-1 6.9-0.2 2.9 1.5-1.7 1.2-3.5 0.9-4.6-0.7M99.9 70.6l3.1-0.7 4.7-0.3 0.8-2-1.7-1-2-1.8-0.6-1.1 0.2-1.8-1.4-1.2-2.3 0-1.4 2.4 1.4 1.7 2.3 0.6 0 1.4-1.8 0.3 0.1 1.4 1.7 0.5-3.1 1.6M516.4 70.6l3.1-0.7 4.7-0.3 0.8-2-1.6-1-2.1-1.8-0.6-1.1 0.2-1.8-1.4-1.2-2.3 0-1.4 2.4 1.4 1.7 2.3 0.6 0 1.4-1.8 0.3 0.1 1.4 1.7 0.5-3.1 1.6M516.1 68.1l0-2.1 0-1.4-2.3 0-2.4 1.1 0 3.1 2.4 0 2.3-0.7M433.6 119.1l1.5-1.7 0.6-1.2 2.9-0.9 1.7-1.3 0.6 1.6 1.1-1.1 2.3 1.7 4.7-0.1 2.3-0.1 1.1 2.5 3.5 2 3.5 1 3.5 1.3 1.1 0.9 1.2 2.9 0 2.3 1.7 1 4.6 1.3 3.5 0.5 3.5 0.9 3.8 2.1 0.5 2.9-2.6 3.5-1.7 2.3-0.6 5.2-1.5 3.2-2 3.1-1.4 0-3.5 1.2-2.6 2.3-0.1 2.9-2.2 2.9-2.3 2.8-2.8 1.7-2.4-0.5-1.8 0 1.2 1.7 0 2.3-5.2 1.2-0.6 2.3-2.9 0 0.6 1.7-0.8 2.9-2.7 1.8 1.8 1.5-3.5 2.5 0.7 2.7-0.1 1.9 3.7 1.1-2.3 1.1-3.2-1-2.9-1.8-2.9-2.8-0.5-4.7 1.7-4 0.3-4 0.6-3.5 1.8-4.6 0.4-3.6 1-5.7 0.2-7.5-2-1.7-4.6-3.5-1.2-2.3-2.3-4.6-2.6-3.5 1.5-2.9-0.6-2.3 1.7-2.3 1.8-2.9 0.2-3.4-0.7-0.3M424.7 103.1l3.4-1.5 5.8 1.9 3.3 1.5-3.8 0.4-2.9-2.2-4.7 0-1.1-0.1M436.9 107l1.9-1.6 4.4 0.4 0.7 1.1-3 0.7-4-0.4 0-0.2M432.4 107.2l2.5 0.4-1 0.2-1.5-0.6M445.3 107l1.8 0.2-1 0.4-0.8-0.6M452.1 187.6l3.8 0-1.1 1-2.7-1M106.5 209.5l13.9-0.3 15-0.3 17.4-0.9 19.6-0.3 11.6 0.3 3.5 2.9 3.5-2.3 8.1-1.7 9.2-0.4 13.9-1.6 11.6-0.1 11.5 0.2 11.6-0.2 11.6 0.5 15 2.1 10.4 2.4 8.1 1.2-4.6 2.8-4.6 2.1-2.3 6 18.5 2.3 15 1.7 8.1 0 2.3-4 3.5-4 5.8 1.7 8.1-1.2 16.2-3.1 19.7-1.2 19.6-2.6 18.5-2.5 11.6-2.7 6.9-2.9 7-1.7 8.1-1.2-5.8 2.9-3.5 4.6-1.1 4.7 4.6 4.6 23.1-3.5 23.2-2.3 23.1-2M-310 209.5l13.9-0.3 15-0.3 17.4-0.9 19.6-0.3 11.6 0.3 3.5 2.9 3.4-2.3 8.1-1.7 9.3-0.4 13.9-1.6 11.5-0.1 11.6 0.2 11.6-0.2 11.6 0.5 15 2.1 10.4 2.4 8.1 1.2-4.6 2.8-4.6 2.1-2.4 6 18.6 2.3 15 1.7 8.1 0 2.3-4 3.5-4 5.8 1.7 8.1-1.2 16.2-3.1 19.6-1.2 19.7-2.6 18.5-2.5 11.6-2.7 6.9-2.9 7-1.7 8.1-1.2-5.8 2.9-3.5 4.6-1.1 4.7 4.6 4.6 23.1-3.5 23.2-2.3 23.1-2M146.3 129.5l-0.3-0.9-0.8-0.5-1 0-0.8 0.5-0.3 0.9 0.3 0.9 0.8 0.5 1 0 0.8-0.5 0.3-0.9M140.3 132.4l0.9 2.3 0.9 2.3 0.3 1.3-0.7-0.5-1.1-1.9-0.5-2.4 0.2-1.1M146.1 139.4l0.8 2.2 0.4 3.2-0.8-0.7-0.5-2.5 0.1-2.2M226.6 68.8l2.5-1.1 2.9-2 1.5-1.7-0.9 0.2-2.3 2.4-2.5 1.5-1.2 0.7M177.8 76.4l-0.4-0.9-0.9-0.6-1.2 0-0.9 0.6-0.3 0.9 0.3 0.9 0.9 0.5 1.2 0 0.9-0.5 0.4-0.9M416.5 74.4l3.5-1.5 3.5-0.9 1.6 2.6-2.7 0-3.5-0.1-2.4-0.1M421.4 80.2l1-2.1-0.7-2.3 2.4-0.3-0.9 2.6-0.4 1.7-1.4 0.4M425.3 75.5l2.8-0.5 2.4 0.8-2 1.7-0.9 1.2-1.2-1.2-1.1-2M426.5 80.2l2.8-0.7 2.3-0.6-1.7 0.2-2.3 1.3-1.1-0.2M430.7 78.3l2.7-0.8 1.5 0-0.4 0.7-2.9 0.3-0.9-0.2M378.4 52.7l4-1.7 3.5 0.8-2.3 1.5-5.2-0.6M387.7 57.9l4-1.5 5.2-0.6-3.5 1.3-4 0.9-1.7-0.1M408.5 69.4l1.1-2.3 0.6-0.9 1.2 1.5-0.6 2.3-2.3-0.6"/>
</g></g>
<rect x="104.5" y="288.5" width="416" height="208" fill="none" stroke="#000" stroke-width="3"/>
<rect x="105" y="280" width="3" height="7" fill="#000"/>
<rect x="105" y="497" width="3" height="7" fill="#000"/>
<rect x="117.6" y="284" width="1" height="3" fill="#000"/>
<rect x="117.6" y="497" width="1" height="3" fill="#000"/>
<rect x="129.1" y="284" width="1" height="3" fill="#000"/>
<rect x="129.1" y="497" width="1" height="3" fill="#000"/>
<rect x="139.7" y="280" width="3" height="7" fill="#000"/>
<rect x="139.7" y="497" width="3" height="7" fill="#000"/>
<rect x="152.3" y="284" width="1" height="3" fill="#000"/>
<rect x="152.3" y="497" width="1" height="3" fill="#000"/>
<rect x="163.8" y="284" width="1" height="3" fill="#000"/>
<rect x="163.8" y="497" width="1" height="3" fill="#000"/>
<rect x="174.4" y="280" width="3" height="7" fill="#000"/>
<rect x="174.4" y="497" width="3" height="7" fill="#000"/>
<rect x="187" y="284" width="1" height="3" fill="#000"/>
<rect x="187" y="497" width="1" height="3" fill="#000"/>
<rect x="198.6" y="284" width="1" height="3" fill="#000"/>
<rect x="198.6" y="497" width="1" height="3" fill="#000"/>
<rect x="209.1" y="280" width="3" height="7" fill="#000"/>
<rect x="209.1" y="497" width="3" height="7" fill="#000"/>
<rect x="221.7" y="284" width="1" height="3" fill="#000"/>
<rect x="221.7" y="497" width="1" height="3" fill="#000"/>
<rect x="233.3" y="284" width="1" height="3" fill="#000"/>
<rect x="233.3" y="497" width="1" height="3" fill="#000"/>
<rect x="243.8" y="280" width="3" height="7" fill="#000"/>
<rect x="243.8" y="497" width="3" height="7" fill="#000"/>
<rect x="256.4" y="284" width="1" height="3" fill="#000"/>
<rect x="256.4" y="497" width="1" height="3" fill="#000"/>
<rect x="268" y="284" width="1" height="3" fill="#000"/>
<rect x="268" y="497" width="1" height="3" fill="#000"/>
<rect x="278.6" y="280" width="3" height="7" fill="#000"/>
<rect x="278.6" y="497" width="3" height="7" fill="#000"/>
<rect x="291.1" y="284" width="1" height="3" fill="#000"/>
<rect x="291.1" y="497" width="1" height="3" fill="#000"/>
<rect x="302.7" y="284" width="1" height="3" fill="#000"/>
<rect x="302.7" y="497" width="1" height="3" fill="#000"/>
<rect x="313.3" y="280" width="3" height="7" fill="#000"/>
<rect x="313.3" y="497" width="3" height="7" fill="#000"/>
<rect x="325.8" y="284" width="1" height="3" fill="#000"/>
<rect x="325.8" y="497" width="1" height="3" fill="#000"/>
<rect x="337.4" y="284" width="1" height="3" fill="#000"/>
<rect x="337.4" y="497" width="1" height="3" fill="#000"/>
<rect x="348" y="280" width="3" height="7" fill="#000"/>
<rect x="348" y="497" width="3" height="7" fill="#000"/>
<rect x="360.5" y="284" width="1" height="3" fill="#000"/>
<rect x="360.5" y="497" width="1" height="3" fill="#000"/>
<rect x="372.1" y="284" width="1" height="3" fill="#000"/>
<rect x="372.1" y="497" width="1" height="3" fill="#000"/>
<rect x="382.7" y="280" width="3" height="7" fill="#000"/>
<rect x="382.7" y="497" width="3" height="7" fill="#000"/>
<rect x="395.2" y="284" width="1" height="3" fill="#000"/>
<rect x="395.2" y="497" width="1" height="3" fill="#000"/>
<rect x="406.8" y="284" width="1" height="3" fill="#000"/>
<rect x="406.8" y="497" width="1" height="3" fill="#000"/>
<rect x="417.4" y="280" width="3" height="7" fill="#000"/>
<rect x="417.4" y="497" width="3" height="7" fill="#000"/>
<rect x="430" y="284" width="1" height="3" fill="#000"/>
<rect x="430" y="497" width="1" height="3" fill="#000"/>
<rect x="441.5" y="284" width="1" height="3" fill="#000"/>
<rect x="441.5" y="497" width="1" height="3" fill="#000"/>
<rect x="452.1" y="280" width="3" height="7" fill="#000"/>
<rect x="452.1" y="497" width="3" height="7" fill="#000"/>
<rect x="464.7" y="284" width="1" height="3" fill="#000"/>
<rect x="464.7" y="497" width="1" height="3" fill="#000"/>
<rect x="476.2" y="284" width="1" height="3" fill="#000"/>
<rect x="476.2" y="497" width="1" height="3" fill="#000"/>
<rect x="486.8" y="280" width="3" height="7" fill="#000"/>
<rect x="486.8" y="497" width="3" height="7" fill="#000"/>
<rect x="499.4" y="284" width="1" height="3" fill="#000"/>
<rect x="499.4" y="497" width="1" height="3" fill="#000"/>
<rect x="510.9" y="284" width="1" height="3" fill="#000"/>
<rect x="510.9" y="497" width="1" height="3" fill="#000"/>
<rect x="96" y="286.9" width="7" height="3" fill="#000"/>
<rect x="522" y="286.9" width="7" height="3" fill="#000"/>
<rect x="100" y="299.4" width="3" height="1" fill="#000"/>
<rect x="522" y="299.4" width="3" height="1" fill="#000"/>
<rect x="100" y="311" width="3" height="1" fill="#000"/>
<rect x="522" y="311" width="3" height="1" fill="#000"/>
<rect x="96" y="321.6" width="7" height="3" fill="#000"/>
<rect x="522" y="321.6" width="7" height="3" fill="#000"/>
<rect x="100" y="334.1" width="3" height="1" fill="#000"/>
<rect x="522" y="334.1" width="3" height="1" fill="#000"/>
<rect x="100" y="345.6" width="3" height="1" fill="#000"/>
<rect x="522" y="345.6" width="3" height="1" fill="#000"/>
<rect x="96" y="356.2" width="7" height="3" fill="#000"/>
<rect x="522" y="356.2" width="7" height="3" fill="#000"/>
<rect x="100" y="368.8" width="3" height="1" fill="#000"/>
<rect x="522" y="368.8" width="3" height="1" fill="#000"/>
<rect x="100" y="380.3" width="3" height="1" fill="#000"/>
<rect x="522" y="380.3" width="3" height="1" fill="#000"/>
<rect x="96" y="390.9" width="7" height="3" fill="#000"/>
<rect x="522" y="390.9" width="7" height="3" fill="#000"/>
<rect x="100" y="403.4" width="3" height="1" fill="#000"/>
<rect x="522" y="403.4" width="3" height="1" fill="#000"/>
<rect x="100" y="414.9" width="3" height="1" fill="#000"/>
<rect x="522" y="414.9" width="3" height="1" fill="#000"/>
<rect x="96" y="425.5" width="7" height="3" fill="#000"/>
<rect x="522" y="425.5" width="7" height="3" fill="#000"/>
<rect x="100" y="438.1" width="3" height="1" fill="#000"/>
<rect x="522" y="438.1" width="3" height="1" fill="#000"/>
<rect x="100" y="449.6" width="3" height="1" fill="#000"/>
<rect x="522" y="449.6" width="3" height="1" fill="#000"/>
<rect x="96" y="460.1" width="7" height="3" fill="#000"/>
<rect x="522" y="460.1" width="7" height="3" fill="#000"/>
<rect x="100" y="472.7" width="3" height="1" fill="#000"/>
<rect x="522" y="472.7" width="3" height="1" fill="#000"/>
<rect x="100" y="484.2" width="3" height="1" fill="#000"/>
<rect x="522" y="484.2" width="3" height="1" fill="#000"/>
<rect x="96" y="494.8" width="7" height="3" fill="#000"/>
<rect x="522" y="494.8" width="7" height="3" fill="#000"/>
<text transform="translate(106.5,517.9) scale(0.95,1)" class="ax" text-anchor="middle">0</text>
<text transform="translate(141.2,517.9) scale(0.95,1)" class="ax" text-anchor="middle">30E</text>
<text transform="translate(175.9,517.9) scale(0.95,1)" class="ax" text-anchor="middle">60E</text>
<text transform="translate(210.6,517.9) scale(0.95,1)" class="ax" text-anchor="middle">90E</text>
<text transform="translate(245.3,517.9) scale(0.95,1)" class="ax" text-anchor="middle">120E</text>
<text transform="translate(280.1,517.9) scale(0.95,1)" class="ax" text-anchor="middle">150E</text>
<text transform="translate(314.8,517.9) scale(0.95,1)" class="ax" text-anchor="middle">180</text>
<text transform="translate(349.5,517.9) scale(0.95,1)" class="ax" text-anchor="middle">150W</text>
<text transform="translate(384.2,517.9) scale(0.95,1)" class="ax" text-anchor="middle">120W</text>
<text transform="translate(418.9,517.9) scale(0.95,1)" class="ax" text-anchor="middle">90W</text>
<text transform="translate(453.6,517.9) scale(0.95,1)" class="ax" text-anchor="middle">60W</text>
<text transform="translate(488.3,517.9) scale(0.95,1)" class="ax" text-anchor="middle">30W</text>
<text transform="translate(93,292.3) scale(0.95,1)" class="ax" text-anchor="end">90N</text>
<text transform="translate(93,326.9) scale(0.95,1)" class="ax" text-anchor="end">60N</text>
<text transform="translate(93,361.6) scale(0.95,1)" class="ax" text-anchor="end">30N</text>
<text transform="translate(93,396.2) scale(0.95,1)" class="ax" text-anchor="end">0</text>
<text transform="translate(93,430.9) scale(0.95,1)" class="ax" text-anchor="end">30S</text>
<text transform="translate(93,465.5) scale(0.95,1)" class="ax" text-anchor="end">60S</text>
<text transform="translate(93,500.2) scale(0.95,1)" class="ax" text-anchor="end">90S</text>
<text x="312.3" y="275.6" class="title" text-anchor="middle" textLength="270" lengthAdjust="spacingAndGlyphs">PICTL zg 500hPa JJA 185001_195012</text>
<rect x="545.5" y="328.2" width="25" height="13.7" fill="#fa0000" stroke="#000" stroke-width="1"/>
<rect x="545.5" y="341.9" width="25" height="13.7" fill="#ff5f00" stroke="#000" stroke-width="1"/>
<rect x="545.5" y="355.6" width="25" height="13.7" fill="#ffaf00" stroke="#000" stroke-width="1"/>
<rect x="545.5" y="369.3" width="25" height="13.7" fill="#ebf500" stroke="#000" stroke-width="1"/>
<rect x="545.5" y="383" width="25" height="13.7" fill="#91dc0a" stroke="#000" stroke-width="1"/>
<rect x="545.5" y="396.7" width="25" height="13.7" fill="#2db91e" stroke="#000" stroke-width="1"/>
<rect x="545.5" y="410.4" width="25" height="13.7" fill="#0f8c3c" stroke="#000" stroke-width="1"/>
<rect x="545.5" y="424.2" width="25" height="13.7" fill="#0f5096" stroke="#000" stroke-width="1"/>
<rect x="545.5" y="437.9" width="25" height="13.7" fill="#000ae6" stroke="#000" stroke-width="1"/>
<rect x="545.5" y="451.6" width="25" height="13.7" fill="#4646fa" stroke="#000" stroke-width="1"/>
<rect x="545.5" y="465.3" width="25" height="13.7" fill="#a5a5fa" stroke="#000" stroke-width="1"/>
<rect x="545.5" y="479" width="25" height="13.7" fill="#ffffff" stroke="#000" stroke-width="1"/>
<text transform="translate(590.6,346.8) scale(0.98,1)" class="cb" text-anchor="middle">1000</text>
<text transform="translate(590.6,360.5) scale(0.98,1)" class="cb" text-anchor="middle">900</text>
<text transform="translate(590.6,374.2) scale(0.98,1)" class="cb" text-anchor="middle">800</text>
<text transform="translate(590.6,387.9) scale(0.98,1)" class="cb" text-anchor="middle">700</text>
<text transform="translate(590.6,401.6) scale(0.98,1)" class="cb" text-anchor="middle">600</text>
<text transform="translate(590.6,415.3) scale(0.98,1)" class="cb" text-anchor="middle">500</text>
<text transform="translate(590.6,429.1) scale(0.98,1)" class="cb" text-anchor="middle">400</text>
<text transform="translate(590.6,442.8) scale(0.98,1)" class="cb" text-anchor="middle">300</text>
<text transform="translate(590.6,456.5) scale(0.98,1)" class="cb" text-anchor="middle">200</text>
<text transform="translate(590.6,470.2) scale(0.98,1)" class="cb" text-anchor="middle">100</text>
<text transform="translate(590.6,483.9) scale(0.98,1)" class="cb" text-anchor="middle">0</text>
<text transform="translate(566,313.8) scale(0.85,1)" class="unit">m</text>
<text x="577.3" y="306.9" class="sup">2</text>
<g clip-path="url(#clip2)">
<g transform="translate(0,528)">
<rect x="105.0" y="25.0" width="415.0" height="207.0" fill="#8a2be2"/>
<path fill-rule="evenodd" fill="#0000c8" stroke="#000" stroke-width="1.0" d="M101.9 232.3l423.4 0 0-207.9-423.4 0 0 207.9ZM409.6 225.4l-9.2-1-10.4-2.1-11.6-3.3-6.9-2.9-3.2-2.3-1.4-2.3-1.6-5.8 0.6-3.4 3.4-3.5 5.3-3.5 7.3-3.7 6.9-2.6 11.6-2.1 22-0.8 8.1 0.3 11.5 1.4 12.8 2.8 3.4 1.6 3.5 2.5 3.5 3.9 2.2 3.7 0.9 4.6-0.7 2.3-1.6 2.3-5.5 4.2-8.1 4.1-8.1 2.6-9.2 1.7-13.9 1.3-11.6 0ZM449 59.2l-2.9-2.5-3.6-5.7-0.2-2.3 2.1-2.4 5.7-1 8.1 0.9 5.8 1.8 3.5 3 0.2 3.4-1.8 2.3-1.9 1.2-3.5 1.2-4.6 0.8-3.5 0-3.4-0.7Z"/>
<path fill-rule="evenodd" fill="#4169e1" stroke="#000" stroke-width="1.0" d="M101.9 232.3l423.4 0 0-207.9-423.4 0 0 207.9ZM126.2 198.9l-2.3-0.8-1.7-1.6-2.1-4.6 0.3-1.5 1.1-0.5 2.4 0.6 5.7 4.8 0.4 1.2-0.4 1.2-1.1 0.8-2.3 0.4ZM215.3 53.4l-22-2.6-3.8-1-1.7-1.1-0.2-1.2 1.9-2.3 6.9-4.6 5-1.9 4.6-0.6 4.6 0.2 5.3 1.1 9.8 3.2 8.1 1.8 1.9 0.8 1.1 1.1 0.3 1.2-1.1 2.3-3.2 2.3-2.5 1-6.9 0.9-8.1-0.6ZM243 40.8l-1.4-1.4 0.3-1.1 1.1-1.2 2.6-1.1 5.5-0.5 2 0.5 1.6 1.1 0 1.2-1.2 1.1-2.4 1-4.6 0.8-3.5-0.4ZM326.3 45.2l-5.3-1.2-1.3-1.1 0-1.2 1.1-1.1 2.7-1.2 6.3-0.8 5.3 0.8 2.3 1.2 0.7 1.1-0.5 1.2-3.2 1.5-8.1 0.8ZM334.4 69.5l-0.4-1.2 0.5-1.2 2.2-0.9 2.4 0.3 1.1 0.6 0.5 1.2-0.5 1.1-5.8 0.1ZM413.1 226.5l-9.3-0.6-11.5-2-13.9-3.7-7.8-2.9-3.6-2.3-1.6-2.3-2-7 0.3-3.4 3.2-3.5 5.4-3.5 8.4-4.5 7-2.7 12.7-2.2 23.1-1 22 2.3 13.9 3 4.6 2.9 5.9 9.2 0.9 4.6-0.5 2.3-1.3 2.3-5 4.1-9.2 4.8-7 2.3-9.2 1.9-13.9 1.5-11.6 0.4ZM439.7 66.2l-7.1-2.5-7.9-6.9-10.7-3.5-2.5-2.3-0.4-1.2 0.4-1.1 2.8-1.9 10.4-3.2 6.9-3.3 7-1.5 6.9 0.3 22 2.8 4.6 1.5 3.5 3 1.1 3.4-0.7 4.6-2.1 3.5-3.1 2.3-6.3 2.3-10.4 2.3-9.8 1.5-4.6-0.1Z"/>
<path fill-rule="evenodd" fill="#00c8fa" stroke="#000" stroke-width="1.0" d="M101.9 232.3l423.4 0 0-207.9-423.4 0 0 207.9ZM125 201.1l-5.5-2.3-6.4-5.8-1.9-3.4 0.5-2.3 1.2-1.2 4-1.6 5.8-0.2 5.8 1.7 2.8 2.4 2.2 5.8 0.2 3.5-0.6 1.1-2.3 1.7-2.3 0.7-3.5-0.1ZM210.6 56.8l-19.6-0.6-5.8-0.8-9.4-3.3-2.2-1.3-0.9-1 0-1.1 2.3-2.4 18.3-11.4 3.4-1.5 3.5-0.6 15.1-0.2 11.5 2.5 3.5 0.3 11.6-2.8 10.4-0.4 5.8 1.1 2.1 1.5 0.6 1.2 0 2.3-2.7 3.2-13.2 9.5-7.7 4.1-4.6 1.5-5.8 0.9-16.2-0.7ZM324 47.5l-6.9-1.4-2.3-1.4-0.9-1.8 0.9-2.3 2.3-1.9 8.7-3.9 0.2-1.2-5.4-2.3-1.1-1.1 1.7-1.2 6.3-0.4 7.6 1.6 1.5 1.1-2.3 2.3 0.7 1.2 6.4 2.8 3.7 3 0.3 1.1-0.4 1.2-1.2 1.1-3.6 1.7-8.1 1.6-8.1 0.2ZM334.4 71.8l-3.4-1-2.6-1.4 0-2.3 0.9-2.3 2.8-2.3 3.5-0.9 4.6 0.3 4.3 1.8 2.1 2.3 0.5 2.3-0.4 1.1-6.5 2.3-5.8 0.1ZM400.4 226.6l-22-5.1-8.1-2.7-4.6-2.4-2.1-2.6-0.8-4.6-1.6-4.6 0-2.3 0.7-1.2 6-4.6 14-7.5 6.9-2.5 7-1.3 28.9-1.9 23.2 2.8 11.5 0.8 3.5-0.6 6.9-2.8 6.9-0.8 7.9 1.1 4.7 2.3 0.4 1.2-0.7 1.1-1.8 1.2-4.7 1.3-9.2 1.1-2.7 1-0.7 2.3 3.5 10.4-0.7 4.7-1.5 2.3-2.6 2.3-9.2 5-10.4 3.8-13.9 2.3-19.7 1.5-15-1ZM130.8 56.8l-1.3-1.2 0.9-1.2 2.7-1.1 7-0.4 1.9 0.4 1 1.1-1.2 1.2-3.2 1.1-4.3 0.5-3.5-0.4ZM368 32.5l-3.8-1.2-0.6-1.1 1.9-1.2 3.6-0.9 8.1-0.7 9.3 0.9 3 0.7 1.8 1.2-0.8 1.1-2.8 1.1-5.8 1-7 0-6.9-0.9ZM437.4 69.5l-8.5-1.2-14.6-5.5-4.7-2.4-4.8-3.7-4.3-4.6-1.4-3.4 0.5-2.4 1.9-1.9 2.3-1.2 11.5-3.8 4.5-2.3 1.8-2.3 0.1-3.5 1.8-0.8 5.8-0.9 19.7-1 11.3 0.4 8.1 2.3 13 8 3.3 3.6 1.1 3.4-0.6 4.7-3.9 8-3.4 3.5-5.8 2-11.6 1.9-9.2 2.1-8.1 1-5.8 0Z"/>
<path fill-rule="evenodd" fill="#a0d2ff" stroke="#000" stroke-width="1.0" d="M101.9 232.3l423.4 0 0-38.8-2.9-3.9-0.7-2.3 0.8-2.4 2.8-2.2 0-147.8-11.5-1.3-12.3-2.3-3.2-1.1 0.8-1.2 2.1-1.1 5.6-1.7 18.5 1.1 0-2.9-59.8 0 8.9 2.8 15 3 2.7 1.1-1 2.3-0.1 2.4 4.6 8 2.3 5.8-1.3 2.3-4.3 3.5-1.6 2.3-0.1 2.3 2.7 4.6-5 1.5-19.7 1.2-25.4 4.1-7-0.2-16.2-1.9-5.7 0-4.7 1.1-3.9 2.3-4.2 0.8-5-0.8-8-3.5 1.5-2 4.9-3.7 0.9-2.3-0.6-2.4-7.8-9.2-2.9-8.1-2-1.1-5.4-1.2-12.6-1.2-2.5 0.1-2.2 1.1 0.2 2.3 1.3 2.3 2.1 1.7 5.6 3 2.3 2.3-0.3 2.3-1.4 1.1-6.2 1.7-4.7 0-2.8-0.5-1.5-1.2-1.6-3.4-1.4-1.2-1.9-0.5-8.1 0.3-16.2 2.4-4.7-0.4-5.7-1.4-4.7-2.2-1.5-1.7-0.2-2.3 3-6.9-0.1-1.1-1-1.2-6-2-9.2-0.8-19.4 1.6-5.7 1.2-2.7 2.3-4.6 8.3-3.1 3.3-17.7 8.8-8.1 2.6-56.7 1.1-5.1-1-1.5-2.3-1.8-1.2-3.2-1-3.5-0.3-5.7 1-11.6 5-5.8 0.7-9.3 0.2-15.8-0.9-1.3-1.2-0.3-1.2 1.2-2.3 2.8-2.3 4.2-2.6 4.6-1.8 8.1-1.4 17.4-1.1 4.6-1.2 2.6-2.3 1.5-4.6 3.7-3.4 0.3-1.2-5.8-1.3-22-0.8-10.4 0.3-13.9 1.8-9.2-0.5 0 198ZM122.7 203.6l-3.5-1.2-3.4-2.3-8.4-8.2-1.5-2.3-0.7-2.3 0.8-2.4 1.1-1.1 2.9-1.6 3.4-1 4.7-0.6 4.6 0.2 4.6 1.1 4.6 1.9 4.6 3.5 1.1 2.3 0.7 5.7-0.1 3.5-1.1 2.3-1.7 1.5-3.4 1.2-4.7 0.4-4.6-0.6ZM199.1 215.7l-0.9-0.7 3.5 0-2.6 0.7ZM312.4 199l-0.5-0.2-0.2-1.1 1.9-0.8 2.3-0.1 2.4 0.9-0.3 1.1-0.9 0.3-4.7-0.1ZM331 73l-3.6-1.2-3.5-2.4 0.8-9.2 0.5-1.7 1.4-1.8 4.4-1.3 10.4 0.6 8.1 1.4 2.3 1.9 1.9 6.7-0.8 3.4-12.7 4-4.6 0.3-4.6-0.7ZM408.5 228.9l-8.1-0.8-10.4-2.2-17.4-4.6-9.2-3.6-1.8-1.6-0.4-1.1 0-5.8-2.6-5.8 0.5-2.3 2.6-2.3 5.7-3.5 13.3-7.4 5.8-2.3 8.1-1.6 18.8-1.4 5.7-1.1 2.6-1.2 0.8-1.1-1.6-3.5 0.1-2.3 1.4-1.5 2.3-0.8 2.3 0.5 1.6 1.8 0.1 2.3-1.3 3.5 0.8 1.1 5.7 2.4 8.1 1.3 10.4 0.3 4.7-0.6 10.4-3.2 8.1-0.4 6.9 0.8 7 1.5 3.5 1.4 2.7 2.3 0 1.2-0.7 1.1-3.9 2.3-12.9 3.5-2.6 1.2-1.3 2.3 1.9 9.2-0.6 4.6-2.7 3.5-6.6 3.9-10.4 4.6-9.2 2.4-24.3 2.7-13.9 0.3ZM160.2 29l6.5-0.4 10.4-4 3.4 0.2 12.8 2.4 10.4 0.7 10.4-0.9 9.5-2.6-73 0 4.5 3.1 5.1 1.5ZM245.6 27.9l6.7 0.2 5.8-0.4 11.3-3.3-37.7 0 7.4 2.3 6.5 1.2ZM101.9 26.7l5.8 0.5 6.9-0.2 5.8-1 4-1.6-22.5 0 0 2.3ZM296 26.7l7.2 0.1 7.9-2.4-23.2 0 8.1 2.3ZM343.3 26.7l9.6 0.2 12.5-2.5-31.9 0 9.8 2.3ZM417.7 24.4l12.8 1.1 12-1.1-24.8 0Z"/>
<path fill-rule="evenodd" fill="#ffffff" stroke="#000" stroke-width="1.0" d="M101.9 232.3l423.4 0 0-13.5-6.9-0.3-1.4-1.2 2.2-2.3 6.1-3 0-14.3-11.1-10.4-1.3-2.4 1.2-2.3 3.1-2.7 3.5-1.8 4.6-1.3 0-113.2-6.9-0.6-3.5-0.8-1.3-0.8 2.5-2.4-0.1-1.1-0.8-1.2-3.8-1.3-5.7-0.1-5.4 1.4-1.5 1.2-0.3 1.1 0.7 1.2 5.2 3.5 0.4 1.1-6.1 3.2-4.6 1.5-6.9 0.5-19.7-0.2-6.2 0.8-11.2 2.5-6.9 0.7-25.5-2-3.4 0.5-9.3 3.1-4.6 0.5-4.6-0.9-7-2.6-3.5-0.7-16.2-0.5-13.8 0.3-18.6 4-6.9-0.7-6.2-1.9-4.8-3.5 0.8-3.4-0.9-2.3-1.6-1.7-3.5-1.7-4.6-1-3.5 0.3-2.7 1.8-1.1 2.3-0.2 2.3 1.1 2.3 1.4 1.1-2.6 1.2-4 0.5-16.2-0.4-18.5 2.1-8.1-0.8-6.5-2.6 1.4-2.3 2.3-2.3-0.3-1.1-1.5-1.2-2.3-0.3-46.3 0.6-39.4 2.4-39.3-0.6-20.8-1.6 0 116.2 3.4-1.5 4.7-1.1 5.8-0.5 4.6 0.2 4.6 1.2 16.2 7.4 2.4 2.4 1.2 6.9 2.2 3.9 5.6 5.3 5.4 7 4 2.5 5.8 2.3 4.6 0.8 4.7-0.3 15-4.9 9.3-1.1 6.9 0.4 5.8 1.1 4.7 1.5 3.8 2.3-0.1 1.1-1.3 1.2-6.6 2.3-26 2.9-12.7 2.4-30.1 0-4.6-0.5-4.6-2-5-4-3.1-4.3-2.3-0.8-1.9 0.5-3.1 2.3-5.4 1.7-8.1 1-5.8-0.3 0 13.8ZM238.4 204.8l-4.6-1.1-1.9-1.4 0.7-1.2 3.3-1.1 10.6-1.3 8.1 0.4 2.5 0.9 0.4 1.1-1.7 1.4-5.8 1.8-5.8 0.7-5.8-0.2ZM309 201.2l-2.6-1.2-0.6-1.2 0.3-1.1 1.7-1.5 3.5-1.3 3.5-0.4 4.6 0.6 3.4 1.4 1.2 1.2 0.2 1.1-1.3 1.2-3.5 1-5.8 0.5-4.6-0.3ZM400.4 230.1l-9.3-1.9-27.7-7.2-5.8-2-0.8-0.6-0.2-1.1 2.7-4.6 0.4-2.3-1-3.2-2.7-3.8-0.5-1.1 0.3-1.2 4.6-3.4 23.8-13.5 5.8-1.4 16.2-1.4 5.9-1.1 1.9-1.1 0.6-1.2 0.3-4.6 1.9-3.5 3.2-2.4 4.7-1.4 3.4 0 3.5 1.6 2.1 3.4 1.2 8.1 1.3 1.1 3.1 1.2 5 0.5 4.7-0.2 13.9-4.4 9.2-0.4 11.6 1.5 10.4 2.2 6 1.9 3.6 2.3 0.2 1.2-0.9 1.2-3.6 2.3-5.5 2.3-11.1 3.4-3.7 2.1-0.9 1.4-0.1 2.3 1.5 10.4-1.1 3.5-4.1 3.2-13.9 6.4-9.2 2.9-31.3 3-10.4 0.4-9.2-0.8ZM164.3 188.5l-3.4-0.7-3-1.7-1-2.3 1.7-2.3 3.4-1.6 3.5-0.5 3.5 0.5 2.7 1.6 0.8 2.3-1.2 2.3-3.5 2-3.5 0.4ZM101.9 215l0 0.6 10.5-5.2 1.5-1.2 0.5-1.2-0.8-3.4-2.9-4.6-8.8-9.1 0 24.1ZM285.6 49.8l6 0.4 3.5-1.1 5.8-3.7 2.8-2.5 1.3-2.3-0.3-2.3-1.5-1.4-3.5-1.2-9.2-0.5-11.6 1.7-3.2 1.4-1.3 1.1-0.6 1.2-0.2 2.3 1.8 3.2 3.5 2.1 6.7 1.6ZM101.9 46.3l0 1.1 1.1 0 9.3-1.5 20.8-1.1 7.1-1.9 1.4-1.2 0.3-1.1-0.5-1.2-1.7-1.1-6.6-1.4-8.1 0.3-12.7 2.5-10.4-2 0 8.6ZM510.8 46.3l6.4 1.1 8.1-0.9 0-7.3-9.2-1.7-4.7 0.2-3.4 0.9-2.3 2 0.1 2.3 2.2 2.1 2.8 1.3Z"/>
<path fill-rule="evenodd" fill="#ffffff" stroke="#000" stroke-width="1.0" d="M101.9 232.3l15 0 2.6-2.3 0.5-2.3-0.8-1.2-3.4-1.4-4.7-0.3-5.8 0.6-3.4 1.2 0 5.7ZM189 232.3l29.9 0-2.1-3.5-2.7-2-4.6-1.3-4.7-0.2-6.9 0.8-4.6 1.5-3.3 2.4-1 2.3ZM236.1 232.3l30.5 0 1.3-2.3 2.6-2.3 7.2-2.6 11.6-1.1 11.6 1.5 19.6-1.9 5.8-0.9 9.5-3.1 10.2-1.8 6.9-1.9 3.5-2.2 1.6-3.3-1.3-3.5-5-4.6-0.5-1.2 0.9-1.1 14.1-7 5.9-3.4 4.5-3.5 5-5.8 1.4-0.8 15.1-0.3 6.9-1.4 2.3-1.7 4.6-7.8 3.5-3.5 16.3-8.7 5.7-2 5.8-0.7 5.8 0.1 2.3 0.6 2 2 0 3.4-2.2 4.7-2.1 1.8-4.7 2.1-2.3 1.8-0.9 3.5 0.8 2.3 1.3 0.9 3.5-0.1 6.9-3.8 5.8-1.3 9.2 0.6 25.5 3.7 13.9-1.3 6.9-1.6 3.4-1.7 2-2.3 0.3-2.3-0.5-3.5 0.5-2.3 1.7-2.3 3-2.4 0-30.3-18.5-7.7-4.6-1.1-5.8-0.3-2.3 0.5-0.9 0.9-2.2 5.7-1.4 2.3-4.3 3.5-3.9 1.4-7 1.3-5.8 0.4-3.4-0.5-1-1.4 0.5-3.5 2.8-6.7 2.3-3.3 4.6-2.1 10.4-1.4 1.2-1-0.4-1.7-2.3-2.3-3.1-2-5.8-1.8-2.3 0.5-5.8 5.2-3.4 1.3-10.5 0.8-13.8-0.3-1.2-0.4-0.8-1 0.8-8.1-1.2-2.3-5.7-1.9-19.9-2.7-0.8-1.1 0.5-1.2 4.4-5.8 4.2-2.8 8.1-3.4 2.8-1.9 0.4-1.1-0.5-1.2-2.7-2.2-1.2-0.4-4.6-0.7-3.5 0.1-4 0.9-6.4 2.6-8.1 0.9-4.6-0.7-3.7-2.8-4.4-1.4-3.5-0.2-3.4 0.8-2.7 0.8 0.3 3.5 1.9 5.8-0.1 2.3-1.8 2.4-2.3 0.5-4.6-0.9-3.2-2-1.7-3.5-1.5-8.1-2.9-0.7-4.6-0.7-4.6 0.2-6.1 1.2-6.6 3-5.8 1.8-8.1-0.6-3 1.6-1.2 2.3-0.5 2.6-8.1 4.1-2.7 2.5-1.1 2.4-0.2 2.3 0.5 2.3 1.2 2.1 2.3 1.8 3.5 1.2 20.8 2.1 4.7 1.1 2.3 1.6 8.1 9 5.8 3.7 2.3 0.6 2.3-0.3 1.5-2.1 1.5-7 1.6-1.2 3.5-0.7 6.9 0.3 5.8 2 6.8 5.4 4.8 7.1 1.2 0.9 2.3 0.5 5.7-0.6 4.7-1.8 1.5-1.5 2.8-6.9 3.8-2.2 6.9-1 8.1 0 1.9 0.9 0.1 2.3-3.6 15-4.3 8.1-3.3 4.3-3.5 2.3-4.6 1.4-7 0.6-10.4-0.2-3.5 0.8-14.2 11.6-1.7 3.5-0.6 8-0.8 1.4-2.3 0.5-4.7-0.7-18.6-4.6-3.2-2.3-1.3-4.8-1.2-1.8-2.3-1.2-3.4-0.5-7 0.4-5.8 1.9-2.8 2.5-1.9 5.8-0.9 1.1-2.5 0.9-3.4-0.1-8.1-2.2-8-4.3-2.8-2.4-1.7-2.3-0.3-2.3 0.7-1.1 4-2.3 12.7-4.3 10.4-6.9 4.6-1.5 9.3-1.6 1.6-0.8 0.8-1.1-0.1-1.2-2.4-2.3-13.9-5.8-3.7-2.3-1.3-2.3-2.5-8.1-2.4-3.4-2.7-2.6-3.5-1.5-3.5-0.7-8.1 0.3-3.4 1.8-4.2 6.1-3.9 2.6-5.8 0.9-18.5 0.5-7.9 3-2.5 0.3-1.7-0.3-1-1.2 0.3-0.6 2.4-1.5 4.6-1.7 2.3-1.9 2.9-5.8 0.8-3.5-0.2-1.5-1.2-0.6-3.5-0.2-12.7 0.9-5.7 1.4-9.3 3.7-7 1-5.8-0.3-3.3-0.9-1.8-1.2-1.1-2.3 0.6-2.3 2.2-2 13.9-4.7 3.6-2.5 6.8-7.8 2.3-1.1 4.6-0.8 8.1 0.8 5.8 3.1 2.3 2.4 2 3.4 1.2 6.9 0.8 1.1 8.7 0.4 8.1-1.2 1.9-1.5 0.4-1.1-0.9-8.1 1.6-3.5 2.9-2.3 8.7-4.6 2.4-2.3 2.2-3.5-8.8-1.4-8-0.1-11.8 1.5-5.6 2.6-5.8 0.5-4.6-1.1-2.9-2-11-2.4-4.6-0.3-2.3 1.1-1.2 1.6 0.5 2.3-0.5 2.3-1.2 1.5-2.3 1.2-19.6 3.5-9.3 5-3.5 1.1-4.6 0.2-11.6-1.2-3.4 0.4-3.5 1.6-7 6.2-4.6 1.1-5.8-0.2-5.7-1.1-4.2-1.9-1.9-2.3-0.5-3.5 0.6-2.3 1.3-2 2.3-1.9 5.9-3 2.4-2.4 0.2-1.1-1.3-2.3-3.7-3.3-3.5-1.9-3.4-0.8-2.3 0.3-2.4 1.3-4.6 4.5-3.5 2.1-4.6 1.5-9.9 2.1-2.5 1.1-1 2.3 1.1 4.6 2.6 5.8 2.8 3.3 3.4 1.9 10.5 3.5 8.1 6.1 3.4 1.9 12.8 3.5 3.4 1.5 2.7 2.6 4.3 8.1 2.3 2.5 2.3 0.6 2.3-0.2 5.7-1.8 2.9-2.3 1.6-3.5 0.1-3.4-1.2-2.3-2.2-1.9-5.7-3.1-2-2-0.2-1.1 0.6-1.2 1.6-0.6 2.3-0.2 4.6 0.7 18.5 5.3 5.8 2.9 5.1 4.6 2.4 3.5 0.8 2.3 0 2.3-0.8 2.3-2.9 2.1-10.4 2.9-4.6 2.5-1.3 1.8-0.9 3.4 1.5 8.1-1.3 1.2-5 2.1-2.3 2.5-0.4 2.3 0.8 2.3 6.6 6.9 1.5 2.3 0.6 3.5-0.9 2.3-2.7 2.3-7.8 3-3.5 2.8-3.5 4.6-3.7 7-5.3 5.7-0.8 2.3 0.2 1.2 2.4 2.3 5 1.1 20.8-3.3 24.3-0.4 3.5-0.9 0.7-3.4 1.2-1.2 2.7-1.1 23.1-3.9 3.5-1.3 3.5-3.2 1.8-0.9 4 0.5 3.4 2.1 5.7 5.5 1 2.3-1.6 1.2-14.4 3.4-5.6 2.3-1.2 2.4-0.1 5.7-0.8 2.3-2.6 2.4-7.9 4.6-1.9 2.3-1.8 4.6ZM299.7 202.5l-1.3-1.4 0.5-1.1 3.4-3.5 4.4-2.3 5.7-1.3 4.7 0 5.8 1.3 4.9 2.3 2.5 2.3-0.7 1.2-3.5 1.1-6.7 1.2-11.6 0.9-8.1-0.7ZM488.3 153.8l-1.6-1.2 1-2.3 7.6-8.2 2.9-2.2 2.8-1.3 5.8-1.1 7 0.3 4.6 1.7 2.2 2.7 0 2.3-1.1 2.7-1.7 1.9-2.9 1.5-5.8 1.4-12.7 1.7-4.6 0.4-3.5-0.3ZM386.5 107.8l-4.6-1.9-1.7-1.8-1.2-2.3-0.4-2.3 0.2-3.5 0.8-1.8 1.1-1 4.6-0.2 14.4 1.9 7.5 1.1 0.8 1.2-4.1 6.9-3.5 2.6-5.8 1.4-8.1-0.3ZM201.4 157.6l-2.3-1.5-0.9-1.2 0.2-1.1 9.9-2.4 3.5-1.8 6.2-8.5 3-2.4 5.8-0.8 5.8 0.8 4.6 2.1 2.3 2.6 0.3 2.3-0.5 1.1-2.1 2-2.3 1.1-4.6 1.1-15 2-9.3 4.7-2.3 0.4-2.3-0.5ZM254.6 168.8l-1.7-1.2-0.3-1.1 0.8-2.3 2.4-2 2.3-0.9 3.4-0.3 2.9 0.8 1.3 1.2 0.1 2.3-2.7 2.3-3.9 1.3-4.6-0.1ZM272 146l-4.7-2.4-2.1-2.5-0.2-2.4 0.6-1.1 2.9-2.1 13.9-4.4 6.9-4 3.5-1.2 7.7 0.1 4.4 1.2 2 1.1 0.6 1.2-0.5 1.2-1.5 1.1-13.9 5-10.4 8.8-4.6 1-4.6-0.6ZM291.5 232.3l16.4 0-5.9-4.1-3.4-0.8-3.5 1.4-3.6 3.5ZM335.9 232.3l26.1 0 2.7-3.5-1.7-1.1-5.4-0.7-13.9 0-3.7 0.7-2.5 1.1-1 1.2-0.6 2.3ZM430.8 232.3l13 0-6.4-0.4-6.6 0.4ZM464.2 232.3l34.8 0-10.7-6.9-4.6-1.6-3.5-0.3-4.6 0.5-4.6 1.8-2.7 1.9-4.1 4.6ZM515.6 231.1l1.3 1.2 8.4 0 0-7.4-4.6 0.9-4.1 1.9-1.3 2.3 0.3 1.1ZM489.7 216.1l4.4 0.8 5.8-0.3 5.8-1.3 8.1-3 5.7-2.9 3.4-2.5 1.3-2.3-0.4-3.5-2.1-3.4-4.5-4-4.6-2.3-3.5-0.8-6.9 0.7-16.3 5.2-3.5 2.3-0.9 2.3 0 2.3 1.3 4.6 2 4.2 2.4 2.6 2.5 1.3ZM101.9 209.2l0 0.9 4.5-3.2 1.4-3.5-0.5-2.3-1.3-2.3-4.1-4.2 0 14.6ZM138.4 180.3l6.3 1 4.6-1.1 3.4-2.2 3.3-3.4 0.5-1.2-0.4-2.3-3.3-3.5-5.8-4.2-3.5-1.2-2.3 0.2-9.2 8.2-1.6 2.8 0.1 1.2 1.5 2.3 3.4 2.3 3 1.1ZM101.9 169.9l0 1.1 1.9-2.2 0.3-2.3-0.4-4.7 2.8-4.1 4.6-2.7 12.8-3.3 1.7-1.4 0.1-1.2-1.1-2.3-8.3-9.2-1.1-3.5 0.3-5.8-0.6-1.1-7.2-1.9-5.8-2.2 0 16.4 1.6 1.6 0.7 2.3-0.4 2.3-1.9 2.9 0 21.3ZM154.2 146.8l3.2 0.8 3.5-0.1 3.1-0.7 2.2-1.1 1.1-1.2 0.8-2.3-0.3-2.8-1.1-2.3-2.4-1.2-2.3 0-4.6 1.2-3 1.6-2 2.4-0.7 2.3 0.8 2.3 1.7 1.1ZM385.4 143.4l3.4 0.6 2.3-1.4 1.3-5 0.1-3.5-0.6-2.3-1.9-1.4-3.5-0.4-6.9 0.5-3.5 1.3-0.4 2.3 1.8 3.5 3.6 3.5 4.3 2.3ZM117.9 126l3.6 0.3 3.5-0.6 2.3-1.1 1.3-2-0.5-1.2-1.9-1.1-4.7 0.2-2.7 2.1-1.2 2.3 0.3 1.1ZM101.9 108.7l0 0.5 1.1 0.3 2.3-0.1 1.5-0.7 0.3-1.1-1.8-1.4-3.4-0.3 0 2.8ZM517.1 108.7l2.4 0.8 2.4-0.1 1.4-0.7 0.3-1.1-1.7-1.4-3.5-0.3-1.5 0.5-0.6 1.2 0.8 1.1ZM458 98.3l6-0.3 1.5-0.8 0.4-1.2-0.5-1.1-2.6-2.4-3.4-1.7-3.5-0.9-4.6 0.5-2.3 1.5-1.4 1.8 0.4 2.3 2.1 1.2 7.9 1.1ZM483.3 97.2l10.8 1.1 4.6-0.3 2.9-0.8 1.8-1.2 1.6-2.3 0.9-3.5-0.5-3.4-2-2-5.8-0.9-11.6 0.3-5.8 1.4-2.4 2.3-0.9 2.3 0 2.3 0.4 1.2 1.8 1.8 4.2 1.7ZM179 82.2l8.5 0.5 5.8-0.8 3.4-1 4.7-3.2 6.9-7.9 3.5-2 3.3-0.7-2.3-1.1-12.6-0.8-11.6 0.5-10.2 1.4-3.8 3.5-1.6 3.5-0.4 2.3 0.6 2.3 0.9 1.1 4.9 2.4ZM459.9 81l6.4 1 5.7-1 2.4-2.3 0.2-3.5-0.7-1.1-4.1-0.9-9.7 0.9-1.5 1.1-1.4 2.3 0.9 2.3 1.8 1.2ZM101.9 78.7l0 0.8 2.3-1.3 1.1-4 0-4.5-2.3-1.3-1.1 0 0 10.3ZM512 78.7l4.1 1.1 4.2-1.1 0.8-1.2 0.6-2.3 0.4-4.6-0.3-1.2-1.1-0.8-3.5-0.2-8.5 2.2 0.9 4.6 2.4 3.5ZM221.6 68.3l1.7 0 3.4-1.2 0-1.1-1.9-1.2-2.6-0.1-3.2 0.1-3.3 1.2 1.2 1.1 4.7 1.2ZM514.9 44l4.6-0.5 1.1-0.6 0.3-1.2-1.3-1.1-2.4-0.6-4.6 0.6-1 1.1 0.5 1.2 2.8 1.1ZM101.9 42.9l0 1 1.1-0.4 1.1-0.6 0.3-1.2-2.5-1.5 0 2.7ZM285.3 42.9l4 1 4.6-0.2 3.5-1 1.5-1 0.6-1.1-0.5-1.2-2.3-1.1-7.4-0.2-4.3 1.3-1.1 1.2 0.1 1.1 1.3 1.2Z"/>
<path fill-rule="evenodd" fill="#ffdc32" stroke="#000" stroke-width="1.0" d="M264.1 218.4l6.7 1.1 19.7-1.4 21.9 1.4 12.8-0.6 17.3-2 7-1.4 3.4-1.3 2.2-1.5 0.8-1.2 0.3-2.3-2.1-3-3.5-2.3-5.8-2-5.7-0.6-8.1 0.5-19.7 2.5-18.5 3.4-23.2 0.2-6.1 1.3-3.1 2.3-0.5 1.2 0.3 2.3 1.3 1.8 2.6 1.6ZM495 212.7l4.9 0.2 4.6-0.6 5.8-1.6 4.6-2.1 2.7-1.7 2.1-2.3 0.6-2.3-0.6-2.3-1.6-2.3-3.2-2.5-3.5-1.5-3.4-0.6-8.1 0.7-11.4 3.9-1.8 1.1-1.7 2.3-0.2 2.3 0.6 2.3 1.8 2.9 1.8 1.8 2.8 1.4 3.2 0.9ZM101.9 205.7l0 0.5 1.3-1.6 0.6-2.3-0.6-2.3-1.3-2 0 7.7ZM188.2 202.3l8.5 0.9 11.6-0.7 12.7-3.6 19.7-2.2 5.3-1.4 2.2-1.1 1.9-2.3 0.7-2.3-0.1-2.3-1.1-2.4-3.1-2.7-8.2-4.2-1.8-2.3 0.2-2.3 5.1-10.4 0.3-2.3-0.6-2.3-1.4-1.2-2.9-0.8-9.2-0.2-7 1.6-4.8 2.9-2.4 2.3-2.4 3.5-3.9 10.4-3.6 5.7-4.1 3.5-8.8 4.6-3.4 3.5-1.3 3.5-0.2 2.3 0.5 1.1 1.6 1.2ZM338.3 197.7l4.2 0.7 5.8-0.4 7-1.8 7.7-3.2 6.2-3.4 2.8-2.3 2-3.5-0.4-2.3-3.3-3.1-5.8-2.5-8.1-2.1-9.2-1.2-9.3 0.5-17.4 4.9-6.9 0-8.8-2.3-15.5-6.8-4.6-0.9-3.5 0.8-12.6 6.9-3.1 2.3-0.5 1.2 0.8 2.3 9.2 10.4 3.9 2.8 4.6 1.8 4.6 0.7 4.7-0.3 15-5.5 7-0.8 8.1 1.4 15.4 5.7ZM139.7 175.7l1.5 0.6 2.1-0.6-0.7-1.1-1.4-0.2-1 0.2-0.5 1.1ZM391 174.6l3.6 0.5 3.5-0.3 2.3-0.8 2.7-1.8 2.7-3.4 1.5-3.5 0.6-3.5-0.8-2.3-3.3-1.7-5.7-0.3-5.8 1.4-4.9 2.9-2.4 3.5-0.3 3.5 2 3.4 4.3 2.4ZM503.2 169.9l3.6 0.9 4.6-0.4 2.8-1.6 0.4-1.2-0.2-1.1-1.8-1.7-2.3-0.9-2.3-0.3-3.3 0.6-3.2 2.3-0.3 1.1 0.5 1.2 1.5 1.1ZM348.2 90.2l5.9 0.7 2.3-0.8 2.4-2.2 1-2.3 0.1-3.4-1.3-3.5-2.2-1.9-3.5-0.9-3.4 0.5-5.1 2.3-2.5 2.3-0.8 2.3 0.7 2.3 3 3 3.4 1.6ZM325.5 84.5l2 0 0.7-1.2-0.7-1-1.6-0.1-1.2 1.1 0.8 1.2ZM385.2 81l2.5-0.1 1.3-1.1 0.1-1.1-1.5-2.3-3.4-0.8-1.5 0.8-0.6 1.1 0.1 1.2 0.8 1.2 2.2 1.1Z"/>
<path fill-rule="evenodd" fill="#ffa500" stroke="#000" stroke-width="1.0" d="M314.6 217.3l15.2-0.2 15-1.7 4.7-1.2 3.2-1.5 1.2-1.2 0.5-2.3-0.5-1.2-2.1-1.9-4.6-2.1-7-1.1-8.1-0.1-11.6 1.1-10.4 1.8-15 5.1-4.6 1.1-12.8-0.1-4.9 0.9 0 1.1 2.6 0.6 16.2-0.3 23 3.2ZM493.7 209.2l3.9 0.9 3.4 0.1 4.7-0.6 4.6-1.5 3.5-1.9 1.8-1.6 1-2.3-0.4-2.3-3.6-3.3-5.8-1.6-6.9 0.5-6.6 2.1-3.6 2.3-0.9 1.1-0.4 2.3 1.7 3.5 3.6 2.3ZM226.8 196.5l9.3-0.4 7.5-1.9 1.7-1.2 1.4-2.3-0.4-3.4-3.3-3.2-4.6-2-15-4.3-3.5 0.6-4.6 3-3.3 3.5-1.9 3.5-0.4 3.5 0.9 1.3 3.5 1.4 12.7 1.9ZM341.4 195.3l9.2-0.1 11-3.3 4.3-2.3 2.8-2.3 1.2-2.4-0.4-2.3-3.8-3.4-5.8-2.3-8.1-1.6-7-0.2-5.7 0.8-7.2 2.1-10.6 4.6-2.8 2.3 0.1 1.2 1.2 1.2 6.5 3.4 8.1 3.1 7 1.5ZM283.6 193l5.7 1 6.9-1 9.3-4.6 2.7-2.3 0.3-1.2-0.8-1.1-3.5-2.3-8-2.8-6.9-0.8-6.9 1-4.7 2.6-1.1 1.5-0.5 1.9 0.6 2.4 1.5 2.3 2.9 2.3 2.5 1.1ZM221.6 173.4l1.8 0.5 2.3-0.7 3.4-2.3 2.1-2.1 1.8-3.5-0.4-2.3-1.1-1.1-2.4-0.8-3.4 0.1-3.5 1.3-2 1.7-1.4 2.3-0.2 2.3 1.3 3.1 1.7 1.5ZM393.2 169.9l3.7 0.2 2.3-1.3 1.3-2.3-0.8-2.3-1.6-1-2.3-0.2-3.5 1.5-1.2 1.6-0.1 1.5 0.6 1.2 1.6 1.1ZM348.3 85.6l3.5 0.8 2.3-0.8 1.5-2.3-0.4-2.3-1.1-1.2-2.3-0.7-3.5 0.9-1.2 1-0.7 2.3 1.9 2.3Z"/>
<path fill-rule="evenodd" fill="#ff0000" stroke="#000" stroke-width="1.0" d="M317.3 216.1l12.5 0.1 13.9-1.5 6.4-2 1.6-1.2 0.7-2.3-1.8-2.3-4.6-2-6.9-1.1-8.1 0-10.5 1-9.2 1.8-6.5 2.6-2.2 2.3 0.4 1.2 3.7 1.7 10.6 1.7ZM495.9 206.9l5.1 0.9 5.8-0.9 4.4-2.3 1-1.2 0.5-2.3-1.8-2.3-4.1-1.5-4.6-0.1-4.6 1.1-3.5 1.7-1.7 2.3 0.5 2.3 3 2.3ZM223.8 194.2l7.7 1 7.7-1 3.8-2.3 0.7-1.2 0-2.3-3-3.1-4.6-1.8-7-0.9-5.7 0.6-3.7 1.7-1.2 1.2-1 2.3 0.6 2.3 1 1.2 4.7 2.3ZM337.2 191.9l10 1 9.2-1.4 7-3.1 2.2-2.3 0.1-2.3-1.2-1.7-2.4-1.8-6.8-2.3-8.1-0.7-8.1 1.1-7.9 3.1-3.2 2.3-0.7 1.1 0.5 2.4 1.2 1.1 4.3 2.3 3.9 1.2ZM285.6 190.7l4.9 0.7 4.6-0.9 3.5-2.1 1.2-2.3-0.3-1.2-3-2.3-3.7-1-4.7-0.2-3.4 0.9-2.5 1.5-1.1 2.3 0.9 2.3 3.6 2.3Z"/>
<path fill-rule="evenodd" fill="#c80000" stroke="#000" stroke-width="1.0" d="M316.6 215l12 0.4 12.8-1.2 6.9-2.2 1.7-1.6 0.1-1.2-2.2-2.3-3.1-1.2-5.7-1-7-0.2-9.2 0.8-8.1 1.4-4.1 1.3-3.3 2.4-0.2 1.1 1 1.2 3.1 1.2 5.3 1.1ZM500.5 204.6l2.9 0 2.3-0.7 1.6-1.6-0.2-1.2-1.4-0.9-2.3-0.4-4.6 1.3-0.8 1.2 0.2 1.1 2.3 1.2ZM226.7 193l5.9 0.8 5-0.8 2.2-1.1 1-1.2 0-2.3-2.4-2.2-3.5-1.2-4.6-0.4-4.6 0.7-3 2-0.6 2.3 2 2.3 2.6 1.1ZM339.6 188.4l5.2 0.4 9.3-0.4 3.9-1.1 1.5-1.2 0.6-1.2-1.3-2.3-3.5-1.6-4.7-0.9-6.1 0.2-7 2.3-2.4 2.3 0.1 1.2 1.2 1.2 3.2 1.1ZM287.9 187.3l1.4 0.4 2.3-0.2 0.7-1.4-3-0.8-1.6 0.8 0.2 1.2Z"/>
<path fill-rule="evenodd" fill="#ff69b4" stroke="#000" stroke-width="1.0" d="M316.4 213.8l9.9 0.8 11.3-0.8 5.5-1.1 2.7-1.2 1.3-1.1 0.2-1.2-0.8-1.2-2.1-1.1-5.3-1.2-8.1-0.2-9.3 0.8-7.3 1.7-3.5 2.4 0.1 1.1 1.5 1.2 3.9 1.1ZM229.7 191.9l5.4 0 2.3-1.2 0.5-1.1-0.4-1.2-2.6-1.5-3.4-0.4-2.4 0.3-2.3 1.2-0.5 1.6 0.8 1.1 2.6 1.2Z"/>
</g>
<g transform="translate(179,583.8) rotate(-65)"><rect x="-12.5" y="-6.5" width="25" height="13" fill="#fff"/><text x="0" y="3.6" class="cl" text-anchor="middle">-200</text></g>
<g transform="translate(355.7,563) rotate(0)"><rect x="-12.5" y="-6.5" width="25" height="13" fill="#fff"/><text x="0" y="3.6" class="cl" text-anchor="middle">-200</text></g>
<g transform="translate(439.4,593.5) rotate(10)"><rect x="-12.5" y="-6.5" width="25" height="13" fill="#fff"/><text x="0" y="3.6" class="cl" text-anchor="middle">-200</text></g>
<g transform="translate(363.5,725) rotate(-10)"><rect x="-10.0" y="-6.5" width="20" height="13" fill="#fff"/><text x="0" y="3.6" class="cl" text-anchor="middle">200</text></g>
<g transform="translate(421,726) rotate(10)"><rect x="-12.5" y="-6.5" width="25" height="13" fill="#fff"/><text x="0" y="3.6" class="cl" text-anchor="middle">-400</text></g>
<g transform="translate(471,742.3) rotate(100)"><rect x="-12.5" y="-6.5" width="25" height="13" fill="#fff"/><text x="0" y="3.6" class="cl" text-anchor="middle">-200</text></g>
<g transform="translate(0,528)">
<path fill="none" stroke="#000" stroke-width="2.5" stroke-linejoin="round" d="M100 86.9l-1.5 2.2-3.1 4.1-0.8 1.4-3.4 1.8-1.5 1.8-1.7 2.8-1.3 3.1 0.7 1.7 0.5 1.8-0.5 2.3-1 1.5 0.8 2.5 1.9 1.7 2 1.8 0.9 2.3 2.4 1.5 3.4 2.1 4.1-1 3.4 0.3 2.9-1.4 3.5-0.1 1.7 2.3 2.9-0.4 1.2 1.3 0.3 2.9-0.7 2.3 3.1 4 0.5 1.8 1.2 3.2 0.2 3.7-1.5 3.7-0.5 2.4 1.4 3.1 1.8 3.4 0.8 4.3 1.5 2.3 1.7 3.3 0.5 2.9 1.8 0.9 2.9-0.9 3.6 0 2.7-1.1 3.6-3.6 1.8-4.5 3.4-2.3-0.3-2.3-0.5-2.6 2.5-2.2 4.1-3.3 0-5.2-1.4-4.3 0.4-3.2 2.1-2.7 4.4-4.3 3.1-3.4 3.3-5.8 0.6-2.1-3.9 0.7-3.4 0.9-2.1-1.3-0.5-1.1-2.1-2.3-1.7-1.3-1.2-2.7-1.5-1.9-1.3-2.8-1.2-2.3-1.4-3.4-1.5-3.5-0.2-1.5-2.8 0.1-5.7-0.6-1.1-0.4-4.7 0-1.1 2.1-4.1-1.3-2.6-1.7-2.6-0.7-0.9-3.9-2.5-0.1-5.8 0.1-4.2 1.3-1.6 0.7-4.2-0.9M516.5 86.9l-1.5 2.2-3.1 4.1-0.8 1.4-3.4 1.8-1.5 1.8-1.7 2.8-1.3 3.1 0.7 1.7 0.5 1.8-0.5 2.3-1 1.5 0.8 2.5 2 1.7 1.9 1.8 1 2.3 2.3 1.5 3.4 2.1 4.1-1 3.5 0.3 2.9-1.4 3.4-0.1 1.8 2.3 2.9-0.4 1.1 1.3 0.4 2.9-0.7 2.3 3 4 0.6 1.8 1.1 3.2 0.2 3.7-1.5 3.7-0.5 2.4 1.5 3.1 1.7 3.4 0.8 4.3 1.5 2.3 1.7 3.3 0.5 2.9 1.9 0.9 2.9-0.9 3.5 0 2.7-1.1 3.6-3.6 1.8-4.5 3.4-2.3-0.2-2.3-0.6-2.6 2.5-2.2 4.1-3.3 0-5.2-1.4-4.3 0.5-3.2 2-2.7 4.4-4.3 3.2-3.4 3.2-5.8 0.6-2.1-3.8 0.7-3.5 0.9-2.1-1.3-0.5-1.1-2-2.3-1.8-1.3-1.1-2.7-1.5-1.9-1.4-2.8-1.2-2.3-1.4-3.4-1.5-3.5-0.2-1.5-2.8 0.1-5.7-0.6-1.1-0.4-4.6 0-1.2 2.1-4-1.3-2.7-1.7-2.6-0.7-0.9-3.9-2.5-0.1-5.8 0.1-4.2 1.3-1.6 0.7-4.2-0.9M163.5 142.2l1.3 3.9-1.1 3-1.7 5.2-1 2.8-2.4 0.7-1.5-2.3-0.5-2.3 1.3-2.3-0.5-2.9 2.7-1.5 1.8-2.4 1.6-1.9M100 86.8l-0.8-1-3-0.2-0.7-1.9 0.8-3.9-0.6-1.1 1.5-0.8 4.9 0.2 2.3 0.1 0.7-2.6-1.1-1.8-2.8-1.2 3.4-0.5 0.5-1 1.6 0.1 1.7-1.6 1.8-0.6 1.3-0.9 0.6-1 2.4-0.4 1.8-0.5 0.5-1.3-0.9-0.8 0.1-1.7 2.8-0.7-0.2 1.7-0.5 1.4 1.1 0.7 1.8 0 1.9 0.6 2.1-0.5 3-0.1 2.9-1.5-0.1-1.4 3.5-0.1-0.6-1.7 1.4-1.1 3.8-0.1 2.5-0.4-1.3-0.4-4.7 0-3.1-0.2-0.9-1.3 0.1-1.9 4.4-2.1-1.4-0.9-2.4 0.2-2.1 2.1-3.5 1.6-0.1 1.9 2 1.7-2.7 2.3-0.7 1.2-2.1 1-1.5-0.3-1-2.4-1.2-1.5-0.3-1-3.1 2-2.7-0.9-0.5-1.7-0.3-1.9 3.5-1.6 2.7-0.7 1.9-1.7 2.8-2.1 1.8-1.4 3.4-1.2 5.5-1.3 2.5-0.5 3.1 0.3 2.9 0.7 2.3 1 3.5 0.3 5.7 1.7-1.1 1.9-5.8 0-0.6 1.8 2.9 0.6 4.1-0.6 4-2.1 0.2-2.3 4.4 0.7 5.8-0.9 5.8-0.5 2.3 0.1 7-0.2 0.5-2.1 2.7-3.1 3.7 0.8 0.6 2 0.6 3.5 2.3-4.6 3.4-0.5 2.9-1.2 7.6-0.6 9.2-2.3 5.8-0.6 5-1.4 4.3 1.4 5.7 3.2 8.1 0.8 7-0.4 4.6 2.7 11.6-1.7 11.6 1.2 11.5 2.2 11.6-0.5 11.6 1.3 11.5 3.3-2.3 1.9-6.9-0.5-4.1 0.1 0.6 2.6-5.8 0.8-4.6 2-7.5 0.2-0.6 2.2-1.2 2.3-2.3 1.7-3.8 4-0.8-1.7-0.6-2.9 0.6-2.9 2.3-1.1 2.9-3.1-1.7-0.7-5.8 3.1-3.7-0.6-4.4 0.4-4.4-0.2-3.7 2.2-2.9 4.1 4.5 1.3-1 3.9-2.9 3.4-3.5 3.5-3.6 0.5-2.2 0.9-0.7 2.7-1.6 1.7 1.6 2.9-0.4 1-2.9 0.7 0-3.5-1.8-0.5-0.6-2.3-3.4 1.1-0.6-2.1-3.5 2-0.2 0.7 1.2 1 1.9-0.2 2.3 0.9-2.9 1.7 0 1.8 2.2 3.4-0.4 2.9-2.3 3.5-2.4 2.1-3.8 1.6-4.3 1.3-0.5 1-1.8-1.5-2.3 1.3-0.8 1.7 1.4 2.9 2.1 1.5 0.6 3.7-2.7 1.7-2.3 2.2-0.2-1.8-2.1-1-2.3-1.9-1-0.9-1.1 3.4 1.2 2.3 0.9 2 2.7 2.3 1 3.8-0.9 0.2-2.3-1.7-1.5-3.1-2.2-2.9 0.3-2.3-1.1-7.5-3.6 0.6-0.5-4.1-2-1.7-0.6-1.6-2.1 0.6-2.3 0.3-1.4 1.3-2.1 1.5-3.1 3.1-2.4 3.9-0.5 3.3-2.6 2.5-1.4-2.1-1.8-3.4-2-7-0.4-2.5-0.2-1.4-2.9 1.7-1.3-1.8 1.3-0.7-1.7-0.7-1.8-1.4-4.6-0.5-6.6-0.6-0.4-1.4-0.6-0.3-2.8 0.5-3.5-1.4-1.2-2.3-1.7 0-0.6 0.8 2 2.7 1.3 2.3 0.9 1.1 3.4-0.2 2-2.4 0.2 2.1 2.5 1 1.4 1.4-2.3 3.9-3.3 2.3-3.2 1.6-3.7 1.3-4.6 2-1.9 0.1-0.8-2.7-0.8-2.3-3.2-5.2-2.6-4-1.7-3.4-0.6-1.8-0.6 1.7-2.2-2.2-0.3-1.6 2.2 0 0.7-0.8 0.8-2.2 0.3-1.9 0.3-1.1-1.8-0.4-4.4-0.1-3.1 0.1-1.2-1.9-0.5-1.7 0.1-0.4 2.8-0.8-3.5 0.2-3.6 0.3 0.2 3.1-1.2 1.6-1.2-2.3-1.7-2.3-0.6-1.8-3-1.7-2.2-2-0.8-0.4-1.8 0.2 0.1 1.1 2.2 2.4 3.1 1.5 1.8 1.1-1.5 0.8-0.7 1.1-1.2 0.3-1.5-3-2.4-1.1-2.2-2-1.6-1-1.9 0.8-2.8 0.3-2.1 0.1 0.2 1.2-1.2 1-1.5 0.5-1.3 1.7 0.5 0.6-0.8 0.8-1.7 1.7-2.8 0.2-1.4 0.8M516.5 86.8l-0.8-1-3-0.2-0.7-1.9 0.8-3.9-0.5-1.1 1.5-0.8 4.8 0.2 2.3 0.1 0.7-2.6-1.1-1.8-2.8-1.2 3.5-0.5 0.4-1 1.7 0.1 1.6-1.6 1.8-0.6 1.3-0.9 0.6-1 2.4-0.4 1.9-0.5 0.4-1.3-0.9-0.8 0.1-1.7 2.8-0.7-0.1 1.7-0.6 1.4 1.1 0.7 1.8 0 1.9 0.6 2.1-0.5 3-0.1 2.9-1.5-0.1-1.4 3.5-0.1-0.6-1.7 1.4-1.1 3.8-0.1 2.6-0.4-1.4-0.4-4.7 0-3.1-0.2-0.9-1.3 0.1-1.9 4.4-2.1-1.4-0.9-2.4 0.2-2.1 2.1-3.5 1.6-0.1 1.9 2 1.7-2.7 2.3-0.7 1.2-2.1 1-1.5-0.3-1-2.4-1.2-1.5-0.3-1-3.1 2-2.7-0.9-0.4-1.7-0.4-1.9 3.5-1.6 2.8-0.7 1.8-1.7 2.8-2.1 1.8-1.4 3.4-1.2 5.5-1.3 2.5-0.5 3.1 0.3 2.9 0.7 2.3 1 3.5 0.3 5.8 1.7-1.2 1.9-5.8 0-0.6 1.8 2.9 0.6 4.1-0.6 4-2.1 0.3-2.3 4.4 0.7 5.7-0.9 5.8-0.5 2.3 0.1 7-0.2 0.6-2.1 2.6-3.1 3.7 0.8 0.6 2 0.6 3.5 2.3-4.6 3.5-0.5 2.9-1.2 7.5-0.6 9.2-2.3 5.8-0.6 5-1.4 4.3 1.4 5.8 3.2 8.1 0.8 6.9-0.4 4.6 2.7 11.6-1.7 11.6 1.2 11.5 2.2 11.6-0.5 11.6 1.3 11.6 3.3-2.4 1.9-6.9-0.5-4.1 0.1 0.6 2.6-5.8 0.8-4.6 2-7.5 0.2-0.6 2.2-1.1 2.3-2.4 1.7-3.8 4-0.8-1.7-0.6-2.9 0.6-2.9 2.3-1.1 2.9-3.1-1.7-0.7-5.8 3.1-3.7-0.6-4.4 0.4-4.4-0.2-3.7 2.2-2.9 4.1 4.5 1.3-1 3.9-2.9 3.4-3.5 3.5-3.6 0.5-2.2 0.9-0.7 2.7-1.6 1.7 1.6 2.9-0.4 1-2.9 0.7 0-3.5-1.8-0.5-0.5-2.3-3.5 1.1-0.6-2.1-3.5 2-0.2 0.7 1.2 1 1.9-0.2 2.4 0.9-2.9 1.7 0 1.8 2.2 3.4-0.5 2.9-2.3 3.5-2.3 2.1-3.9 1.6-4.2 1.3-0.6 1-1.7-1.5-2.4 1.3-0.8 1.7 1.4 2.9 2.1 1.5 0.6 3.7-2.7 1.7-2.3 2.2-0.2-1.8-2.1-1-2.3-1.9-0.9-0.9-1.2 3.4 1.3 2.3 0.8 2 2.8 2.3 0.9 3.8-0.8 0.2-2.3-1.7-1.5-3.1-2.2-2.9 0.2-2.3-1.1-7.5-3.5 0.6-0.6-4.1-2-1.7-0.6-1.6-2.1 0.6-2.3 0.3-1.4 1.3-2 1.5-3.2 3.1-2.4 3.9-0.5 3.3-2.6 2.5-1.4-2.1-1.7-3.4-2.1-7-0.4-2.5-0.2-1.4-2.9 1.7-1.3-1.8 1.3-0.7-1.7-0.7-1.8-1.4-4.6-0.5-6.6-0.6-0.3-1.4-0.7-0.3-2.8 0.5-3.5-1.4-1.1-2.3-1.8 0-0.5 0.8 1.9 2.7 1.3 2.3 0.9 1.1 3.4-0.2 2.1-2.4 0.1 2.1 2.5 1 1.4 1.4-2.3 3.9-3.2 2.3-3.3 1.6-3.7 1.3-4.6 2-1.9 0.1-0.8-2.7-0.8-2.3-3.2-5.2-2.6-4-1.7-3.4-0.6-1.8-0.6 1.7-2.2-2.2-0.3-1.6 2.2 0 0.7-0.8 0.8-2.2 0.3-1.9 0.3-1.1-1.8-0.4-4.4-0.1-3.1 0.1-1.1-1.9-0.6-1.7 0.1-0.4 2.8-0.8-3.5 0.2-3.6 0.3 0.2 3.1-1.2 1.6-1.2-2.3-1.7-2.3-0.6-1.8-3-1.7-2.2-2-0.8-0.4-1.7 0.2 0.1 1.1 2.2 2.4 3 1.5 1.8 1.1-1.5 0.8-0.7 1.1-1.1 0.3-1.5-3-2.5-1.1-2.2-2-1.6-1-1.8 0.8-2.9 0.3-2.1 0.1 0.2 1.2-1.1 1-1.5 0.5-1.4 1.7 0.6 0.6-0.9 0.8-1.7 1.7-2.8 0.2-1.4 0.8M140.1 80.8l-1.2-0.5-0.1-1.8 0.9-1.2 1.2-1.2 1.1-1.5 1.5 0 1.8 1.8 0 0.6 2.3-0.6 1.1-0.4 1.8-1.9 1.4-0.3-1.4 1.4-0.3 1.5 2 1.4 2.4 2.2-2.2 0.7-4.2-0.8-3.5-0.4-2.3 1.1-2.3-0.1M161.5 75.6l2.3-1 2.7-0.5 1.3 1.1 0.3 0.8-2.2 1 0 1.5 1.8 1.6-0.1 2.1 1.3 1.2 0 1.9-3.4 0.7-2.3-1-0.1-1.1 0.7-2.1-1.1-1.7-1.2-1.4-0.6-1.5 0.6-1.6M166.7 45.8l3.4-2.3 2.3-2.4 5.8-1.1 7.6-0.4-2.9 1.5-5.8 2.4-4.7 3.2-4.6-0.1-1.1-0.8M119.2 37.7l1.2-1.5 6.9-0.6 10.4 0.4-5.7 2.3-5.8 1.6-3.5-1.1-3.5-1.1M216.4 36.5l5.8 0.6 5.8 0.6-4.6-2.9-7 0.6 0 1.1M265 41.7l5.8-0.9 6.9 0.3 2.4 0.6-8.1 1.8-5.8-0.6-1.2-1.2M162 35.7l8.1-0.9 8.1 0.2-4.6 1-9.3 0.1-2.3-0.4M313 46.3l3.5-0.5 2.3 0.5-4 0.3-1.8-0.3M258 89.1l1.2-1.8 4.1-0.1 1.5-1.9 2.5-0.8 1.2-2.3 0.7-1.6 1 0.2 0.6 1.9-1.2 1.8-0.1 1.3-0.1 1.8-1.2 0.3-1.1 0.5-2.1 0-1.1 1.3-1.2-1.3-2.3 0.3-2.4 0.4M256.9 89.7l2.2 0.3-1 2.2-1 0.1-0.4-1.7 0.2-0.9M259.8 90.2l2.4-1.4 0.1 0.5-1.9 1.3-0.6-0.4M268.5 80.4l1.9-4.5 4.4 2.4-2.5 1.5-2.7-0.5-1.1 1.1M270.8 75.2l1.7-0.6 0.6-2.8-1.1-2.4-0.4-3.8-0.8 3.8-0.2 2.9 0.2 2.9M245.6 102.4l-0.3-1.2 1.8-2.1 0.6 0.4-1.2 3.4-0.9-0.5M232.2 106.2l1.6-1.1 1.1 0.6-1.7 1.6-1-1.1M245.9 107l2 0-0.2 2.9 2.3 4-3.5-1.5-1.2-1.4 0.6-4M247.7 120.3l1.7-1 3.5 1-0.6-2.9-2.9 1.1-1.7 1.8M247.7 115.6l1.7 1.2 1.7-1.2 0-1.7-2.3 0.6-1.1 1.1M242.1 118.6l2.7-3.3-0.6 1.5-2.1 1.8M232.6 126.6l0.7 2.9 0.8 2.3 4.9 1.2 2.3-2.3 1.7-3.5 1.2-4.6-2.3-2.3-1.8 2.3-2.9 2.1-2.3 1.6-2.3 0.3M216.8 121.9l2.5 0.4 3.2 3.2 3.7 2.3 1.2 2.9 1.7 1.3-0.1 3-1.6 0.2-2.9-2.2-1.7-2.9-2.3-3.7-2.9-2.4-0.8-2.1M228.2 136.2l1.5-0.9 2.3 0.6 2.9 0 2 0.5 2.1 1-0.4 1-3.7-0.6-3.4-0.4-1.8-0.5-1.5-0.7M244.8 134.7l-0.6-2.9 0.9-4 0.8-0.6 4.6-0.6 0.6 0-4.6 1.2 0.6 1.7 2.1-0.1-2.1 1 1.1 3.1-1.7-1.7-0.6 2.9-1.1 0M249.4 140.2l1.7-1.5 2.7-0.6-2.7 1.3-1.7 0.8M239.6 138.1l4.6 0.2 4-0.2-2.9 0.5-4.6 0-1.1-0.5M254 126.3l1.2 0.9-0.6 2.1-0.6-3M254.6 132l3.2 0.3-1.5-0.5-1.7 0.2M258.1 129.5l3.4-0.2 4.7 0.8 3.4 1.3 4.1 1.3 1.7 2 1.8 0.6 0.5 2.3 2.6 2.9-3.7-0.6-3.5-2.3-1.7 1.4-1.8-0.3-2.9-0.8-0.8-3.8-3.8-1.1-2.9-1.4-1.1-2.1M278.3 134.7l3.5-1.4 0.8 0.8-2.5 1.4-1.8-0.8M287.6 136.4l2.9 1.8 2.9 1.7-1.8-0.8-2.9-1.7-1.1-1M238.4 153.5l3.1-1.4 5-1.2 1.4-1.8 1.5-1.7 2.3-2.3 1.7-0.8 2.9 1.3 1.2-2.8 2.3-1.2 3.5 0.6 1.5 0.2-0.9 1.5-0.6 1.8 2.3 1.7 3.8 1.2 0.8-2.9 0.4-2.9 0.8-2.1 1.1 3.8 2.1 1.2 0.8 3.4 2.9 2.7 2.3 2.5 2.9 3.5 0.7 3.6-0.8 3.3-2 2.8-1.3 3.6-2.4 0.9-1.9 1.5-1.7-1.4-4.5 0.3-1.7-1.3-1.2-1.7-0.8-3.4-2 2.8-0.6-0.6-1.8-2.1-3.4-1.4-5.8 1-2.3 1.8-5.2 0.5-1.9 0.9-3.2-0.9 0.7-2.7-1-3.5-1.7-3.2 0.5-2.5 0.2-2.6M273.8 175.4l4.3 0.2-0.4 2.6-2.3 0.5-0.9-1.6-0.7-1.7M306.3 168.1l2.4 2.8 4.3 1-1.7 2.1-2.1 2.4-0.7-2.1-0.9-0.7 0.9-2.5-2.2-3M306.3 175.1l1.9 1.4-1.8 2.4-2.1 1.4-2.3 1.9-2.9-0.7 1.8-2.3 3.2-1.8 2.2-2.3M198.9 121.4l0.2-4.4 2.2 2.7-0.5 1.6-1.9 0.1M328.6 52.6l2.4-3.1 3.4-2 7.2-1.5 5.6 0.6 10.4 0.8 8.1 0.9 8.1-0.8 5.8 0.6 8.1 0.7 4.6 0.8 8.1-0.4 9.2 0.8 3.5-0.8 5.8-0.5 4 1.7 1.8-2.3 3.4 0 0.6 3.4-6.3 2.9-3.5 0-4.6 3.5-0.3 2.5 2.6 2.1 4.6 0.6 6.6 1.6 2.1 4.2 1.7-0.6 0.6-3.5 1.7-4-1.1-2.3 0.6-2.3 5.2 0.3 3.4 1.4 0.6 2.7 5.2-1.9 4.1 4.4 5.2 3.5 1.5 1.7-5 2.1-7.5 0.2-4.6 3.5 6.3-2.1 0.6 2.6 4 1.2 1.2-0.6-4 1.8-2.9 0.8-1.2-1.4-3.5 1.5 0 2.2-2.3 0.7-2.3 0.7-0.2 1.2-1.5 0.8-0.6 2.1 0.6 2.1-2.7 1.4-1.4 0.9-2.3 1.4-0.5 2 1.5 4.3-0.4 1.5-1.2-0.6-1.4-2-0.9-2.7-1.7 0.3-3.5-1.1-1.5 1.8-2-0.6-3.4-0.1-3.7 2-0.4 2.7-0.3 3.5 2 3.8 1.8 1.1 4-0.5 0.7-2.7 4-0.6-0.6 3.5-0.8 2.9 3.7 0 2.1 1.1-0.5 4.6 0.7 1.2 4 0.6 2.4 1 0.2 0.7-0.7 0.9-0.1-0.9-2.3 0.6-3.5-1.2-3.1-2.3-2.1-2.9-4.6-1.1-2.9-2.3-2.9 0.3-4-1.3-6.4-3.7 0-2.8-4.1-4.1-4-3.4-2.6-3.2 2 4.3 3.5 4.6 0.1 1.3-2.5-2.2-2.3-3.7-1.9-2.3-1.7-2.9-1.6-1.7-2.4-0.7-2.2-3.6-1.7-3.1-0.6-2.8 0.6-3.9-0.9-2.6 2-0.6-4.6-2.1-3.5-4.3-4.6-4-4.1-1.2-2.9-0.9-6.9-1.2-4.6-0.2-2.3 1.7-4.7 2.3-6.9 2.9-2.9 0.6 5.2-2.3 2.9-2.5-5.2 0-3.3-2.1-0.8-2.3 1.2-0.8 4-1.4-5.7-0.3-2.4-1.1M380.4 72.4l-5.8-2.6 3.8 0.8 2 1.8M430.5 43.2l10.4 3.7 10.4 4.3-2.9 4-4.1 1-5.7-2.3-5.8 0 5.2-2.4-0.6-1.7-8.1-1.7-5.2-0.6-4.1-2.3 4.7-1.7 5.8-0.3M430.5 40l5.7-2.3 11.6-3.5 3.5-1.1-15.1-0.6-19.6 2.3 2.3 4 11.6 1.2M430.5 42.3l-13.9-0.3 2.3-2 11.6 0.3 0 2M386.5 43.5l16.2 0.5 2.9 3.5-6.4 1.5-10.4-0.6-3.5-2.6 1.2-2.3M378.4 45.2l5.8-2.6 4.6 1.4-8.1 2.2-2.3-1M388.8 41.1l12.7-0.5-1.1 1.4-10.4 0.3-1.2-1.2M405 44l5.8-0.9 1.1 2.1-4.6 1.1-2.3-2.3M422.4 53.3l8.1 1.1-3.5 1.2-4.6-1.2 0-1.1M411.9 36l7-1.4 4.6 1.9-6.9 1.2-4.7-1.7M438.6 38l5.7 2.3 12.8 0.8 2.3 5.2 3.5 2.9-1.2 2.9 3.5 4.1 2.3 1.7 5.2 1.4 2.9-2.6 3.5-4 6.9-2.9 11.6-2.9 0-2.9 3.4-2.9 0.6-4.6 7.5-2.3-20.8-2.3-17.3 1.2-17.4 0.5-5.8 1.8-9.2 2.6M497.6 54.4l-2.3-1.7 2.3-1 6.9-0.2 2.9 1.5-1.7 1.2-3.5 0.9-4.6-0.7M99.9 70.6l3.1-0.7 4.7-0.3 0.8-2-1.7-1-2-1.8-0.6-1.1 0.2-1.8-1.4-1.2-2.3 0-1.4 2.4 1.4 1.7 2.3 0.6 0 1.4-1.8 0.3 0.1 1.4 1.7 0.5-3.1 1.6M516.4 70.6l3.1-0.7 4.7-0.3 0.8-2-1.6-1-2.1-1.8-0.6-1.1 0.2-1.8-1.4-1.2-2.3 0-1.4 2.4 1.4 1.7 2.3 0.6 0 1.4-1.8 0.3 0.1 1.4 1.7 0.5-3.1 1.6M516.1 68.1l0-2.1 0-1.4-2.3 0-2.4 1.1 0 3.1 2.4 0 2.3-0.7M433.6 119.1l1.5-1.7 0.6-1.2 2.9-0.9 1.7-1.3 0.6 1.6 1.1-1.1 2.3 1.7 4.7-0.1 2.3-0.1 1.1 2.5 3.5 2 3.5 1 3.5 1.3 1.1 0.9 1.2 2.9 0 2.3 1.7 1 4.6 1.3 3.5 0.5 3.5 0.9 3.8 2.1 0.5 2.9-2.6 3.5-1.7 2.3-0.6 5.2-1.5 3.2-2 3.1-1.4 0-3.5 1.2-2.6 2.3-0.1 2.9-2.2 2.9-2.3 2.8-2.8 1.7-2.4-0.5-1.8 0 1.2 1.7 0 2.3-5.2 1.2-0.6 2.3-2.9 0 0.6 1.7-0.8 2.9-2.7 1.8 1.8 1.5-3.5 2.5 0.7 2.7-0.1 1.9 3.7 1.1-2.3 1.1-3.2-1-2.9-1.8-2.9-2.8-0.5-4.7 1.7-4 0.3-4 0.6-3.5 1.8-4.6 0.4-3.6 1-5.7 0.2-7.5-2-1.7-4.6-3.5-1.2-2.3-2.3-4.6-2.6-3.5 1.5-2.9-0.6-2.3 1.7-2.3 1.8-2.9 0.2-3.4-0.7-0.3M424.7 103.1l3.4-1.5 5.8 1.9 3.3 1.5-3.8 0.4-2.9-2.2-4.7 0-1.1-0.1M436.9 107l1.9-1.6 4.4 0.4 0.7 1.1-3 0.7-4-0.4 0-0.2M432.4 107.2l2.5 0.4-1 0.2-1.5-0.6M445.3 107l1.8 0.2-1 0.4-0.8-0.6M452.1 187.6l3.8 0-1.1 1-2.7-1M106.5 209.5l13.9-0.3 15-0.3 17.4-0.9 19.6-0.3 11.6 0.3 3.5 2.9 3.5-2.3 8.1-1.7 9.2-0.4 13.9-1.6 11.6-0.1 11.5 0.2 11.6-0.2 11.6 0.5 15 2.1 10.4 2.4 8.1 1.2-4.6 2.8-4.6 2.1-2.3 6 18.5 2.3 15 1.7 8.1 0 2.3-4 3.5-4 5.8 1.7 8.1-1.2 16.2-3.1 19.7-1.2 19.6-2.6 18.5-2.5 11.6-2.7 6.9-2.9 7-1.7 8.1-1.2-5.8 2.9-3.5 4.6-1.1 4.7 4.6 4.6 23.1-3.5 23.2-2.3 23.1-2M-310 209.5l13.9-0.3 15-0.3 17.4-0.9 19.6-0.3 11.6 0.3 3.5 2.9 3.4-2.3 8.1-1.7 9.3-0.4 13.9-1.6 11.5-0.1 11.6 0.2 11.6-0.2 11.6 0.5 15 2.1 10.4 2.4 8.1 1.2-4.6 2.8-4.6 2.1-2.4 6 18.6 2.3 15 1.7 8.1 0 2.3-4 3.5-4 5.8 1.7 8.1-1.2 16.2-3.1 19.6-1.2 19.7-2.6 18.5-2.5 11.6-2.7 6.9-2.9 7-1.7 8.1-1.2-5.8 2.9-3.5 4.6-1.1 4.7 4.6 4.6 23.1-3.5 23.2-2.3 23.1-2M146.3 129.5l-0.3-0.9-0.8-0.5-1 0-0.8 0.5-0.3 0.9 0.3 0.9 0.8 0.5 1 0 0.8-0.5 0.3-0.9M140.3 132.4l0.9 2.3 0.9 2.3 0.3 1.3-0.7-0.5-1.1-1.9-0.5-2.4 0.2-1.1M146.1 139.4l0.8 2.2 0.4 3.2-0.8-0.7-0.5-2.5 0.1-2.2M226.6 68.8l2.5-1.1 2.9-2 1.5-1.7-0.9 0.2-2.3 2.4-2.5 1.5-1.2 0.7M177.8 76.4l-0.4-0.9-0.9-0.6-1.2 0-0.9 0.6-0.3 0.9 0.3 0.9 0.9 0.5 1.2 0 0.9-0.5 0.4-0.9M416.5 74.4l3.5-1.5 3.5-0.9 1.6 2.6-2.7 0-3.5-0.1-2.4-0.1M421.4 80.2l1-2.1-0.7-2.3 2.4-0.3-0.9 2.6-0.4 1.7-1.4 0.4M425.3 75.5l2.8-0.5 2.4 0.8-2 1.7-0.9 1.2-1.2-1.2-1.1-2M426.5 80.2l2.8-0.7 2.3-0.6-1.7 0.2-2.3 1.3-1.1-0.2M430.7 78.3l2.7-0.8 1.5 0-0.4 0.7-2.9 0.3-0.9-0.2M378.4 52.7l4-1.7 3.5 0.8-2.3 1.5-5.2-0.6M387.7 57.9l4-1.5 5.2-0.6-3.5 1.3-4 0.9-1.7-0.1M408.5 69.4l1.1-2.3 0.6-0.9 1.2 1.5-0.6 2.3-2.3-0.6"/>
</g></g>
<rect x="104.5" y="552.5" width="416" height="208" fill="none" stroke="#000" stroke-width="3"/>
<rect x="105" y="544" width="3" height="7" fill="#000"/>
<rect x="105" y="761" width="3" height="7" fill="#000"/>
<rect x="117.6" y="548" width="1" height="3" fill="#000"/>
<rect x="117.6" y="761" width="1" height="3" fill="#000"/>
<rect x="129.1" y="548" width="1" height="3" fill="#000"/>
<rect x="129.1" y="761" width="1" height="3" fill="#000"/>
<rect x="139.7" y="544" width="3" height="7" fill="#000"/>
<rect x="139.7" y="761" width="3" height="7" fill="#000"/>
<rect x="152.3" y="548" width="1" height="3" fill="#000"/>
<rect x="152.3" y="761" width="1" height="3" fill="#000"/>
<rect x="163.8" y="548" width="1" height="3" fill="#000"/>
<rect x="163.8" y="761" width="1" height="3" fill="#000"/>
<rect x="174.4" y="544" width="3" height="7" fill="#000"/>
<rect x="174.4" y="761" width="3" height="7" fill="#000"/>
<rect x="187" y="548" width="1" height="3" fill="#000"/>
<rect x="187" y="761" width="1" height="3" fill="#000"/>
<rect x="198.6" y="548" width="1" height="3" fill="#000"/>
<rect x="198.6" y="761" width="1" height="3" fill="#000"/>
<rect x="209.1" y="544" width="3" height="7" fill="#000"/>
<rect x="209.1" y="761" width="3" height="7" fill="#000"/>
<rect x="221.7" y="548" width="1" height="3" fill="#000"/>
<rect x="221.7" y="761" width="1" height="3" fill="#000"/>
<rect x="233.3" y="548" width="1" height="3" fill="#000"/>
<rect x="233.3" y="761" width="1" height="3" fill="#000"/>
<rect x="243.8" y="544" width="3" height="7" fill="#000"/>
<rect x="243.8" y="761" width="3" height="7" fill="#000"/>
<rect x="256.4" y="548" width="1" height="3" fill="#000"/>
<rect x="256.4" y="761" width="1" height="3" fill="#000"/>
<rect x="268" y="548" width="1" height="3" fill="#000"/>
<rect x="268" y="761" width="1" height="3" fill="#000"/>
<rect x="278.6" y="544" width="3" height="7" fill="#000"/>
<rect x="278.6" y="761" width="3" height="7" fill="#000"/>
<rect x="291.1" y="548" width="1" height="3" fill="#000"/>
<rect x="291.1" y="761" width="1" height="3" fill="#000"/>
<rect x="302.7" y="548" width="1" height="3" fill="#000"/>
<rect x="302.7" y="761" width="1" height="3" fill="#000"/>
<rect x="313.3" y="544" width="3" height="7" fill="#000"/>
<rect x="313.3" y="761" width="3" height="7" fill="#000"/>
<rect x="325.8" y="548" width="1" height="3" fill="#000"/>
<rect x="325.8" y="761" width="1" height="3" fill="#000"/>
<rect x="337.4" y="548" width="1" height="3" fill="#000"/>
<rect x="337.4" y="761" width="1" height="3" fill="#000"/>
<rect x="348" y="544" width="3" height="7" fill="#000"/>
<rect x="348" y="761" width="3" height="7" fill="#000"/>
<rect x="360.5" y="548" width="1" height="3" fill="#000"/>
<rect x="360.5" y="761" width="1" height="3" fill="#000"/>
<rect x="372.1" y="548" width="1" height="3" fill="#000"/>
<rect x="372.1" y="761" width="1" height="3" fill="#000"/>
<rect x="382.7" y="544" width="3" height="7" fill="#000"/>
<rect x="382.7" y="761" width="3" height="7" fill="#000"/>
<rect x="395.2" y="548" width="1" height="3" fill="#000"/>
<rect x="395.2" y="761" width="1" height="3" fill="#000"/>
<rect x="406.8" y="548" width="1" height="3" fill="#000"/>
<rect x="406.8" y="761" width="1" height="3" fill="#000"/>
<rect x="417.4" y="544" width="3" height="7" fill="#000"/>
<rect x="417.4" y="761" width="3" height="7" fill="#000"/>
<rect x="430" y="548" width="1" height="3" fill="#000"/>
<rect x="430" y="761" width="1" height="3" fill="#000"/>
<rect x="441.5" y="548" width="1" height="3" fill="#000"/>
<rect x="441.5" y="761" width="1" height="3" fill="#000"/>
<rect x="452.1" y="544" width="3" height="7" fill="#000"/>
<rect x="452.1" y="761" width="3" height="7" fill="#000"/>
<rect x="464.7" y="548" width="1" height="3" fill="#000"/>
<rect x="464.7" y="761" width="1" height="3" fill="#000"/>
<rect x="476.2" y="548" width="1" height="3" fill="#000"/>
<rect x="476.2" y="761" width="1" height="3" fill="#000"/>
<rect x="486.8" y="544" width="3" height="7" fill="#000"/>
<rect x="486.8" y="761" width="3" height="7" fill="#000"/>
<rect x="499.4" y="548" width="1" height="3" fill="#000"/>
<rect x="499.4" y="761" width="1" height="3" fill="#000"/>
<rect x="510.9" y="548" width="1" height="3" fill="#000"/>
<rect x="510.9" y="761" width="1" height="3" fill="#000"/>
<rect x="96" y="550.9" width="7" height="3" fill="#000"/>
<rect x="522" y="550.9" width="7" height="3" fill="#000"/>
<rect x="100" y="563.5" width="3" height="1" fill="#000"/>
<rect x="522" y="563.5" width="3" height="1" fill="#000"/>
<rect x="100" y="575" width="3" height="1" fill="#000"/>
<rect x="522" y="575" width="3" height="1" fill="#000"/>
<rect x="96" y="585.5" width="7" height="3" fill="#000"/>
<rect x="522" y="585.5" width="7" height="3" fill="#000"/>
<rect x="100" y="598.1" width="3" height="1" fill="#000"/>
<rect x="522" y="598.1" width="3" height="1" fill="#000"/>
<rect x="100" y="609.6" width="3" height="1" fill="#000"/>
<rect x="522" y="609.6" width="3" height="1" fill="#000"/>
<rect x="96" y="620.2" width="7" height="3" fill="#000"/>
<rect x="522" y="620.2" width="7" height="3" fill="#000"/>
<rect x="100" y="632.8" width="3" height="1" fill="#000"/>
<rect x="522" y="632.8" width="3" height="1" fill="#000"/>
<rect x="100" y="644.3" width="3" height="1" fill="#000"/>
<rect x="522" y="644.3" width="3" height="1" fill="#000"/>
<rect x="96" y="654.9" width="7" height="3" fill="#000"/>
<rect x="522" y="654.9" width="7" height="3" fill="#000"/>
<rect x="100" y="667.4" width="3" height="1" fill="#000"/>
<rect x="522" y="667.4" width="3" height="1" fill="#000"/>
<rect x="100" y="679" width="3" height="1" fill="#000"/>
<rect x="522" y="679" width="3" height="1" fill="#000"/>
<rect x="96" y="689.5" width="7" height="3" fill="#000"/>
<rect x="522" y="689.5" width="7" height="3" fill="#000"/>
<rect x="100" y="702" width="3" height="1" fill="#000"/>
<rect x="522" y="702" width="3" height="1" fill="#000"/>
<rect x="100" y="713.6" width="3" height="1" fill="#000"/>
<rect x="522" y="713.6" width="3" height="1" fill="#000"/>
<rect x="96" y="724.1" width="7" height="3" fill="#000"/>
<rect x="522" y="724.1" width="7" height="3" fill="#000"/>
<rect x="100" y="736.7" width="3" height="1" fill="#000"/>
<rect x="522" y="736.7" width="3" height="1" fill="#000"/>
<rect x="100" y="748.2" width="3" height="1" fill="#000"/>
<rect x="522" y="748.2" width="3" height="1" fill="#000"/>
<rect x="96" y="758.8" width="7" height="3" fill="#000"/>
<rect x="522" y="758.8" width="7" height="3" fill="#000"/>
<text transform="translate(106.5,781.9) scale(0.95,1)" class="ax" text-anchor="middle">0</text>
<text transform="translate(141.2,781.9) scale(0.95,1)" class="ax" text-anchor="middle">30E</text>
<text transform="translate(175.9,781.9) scale(0.95,1)" class="ax" text-anchor="middle">60E</text>
<text transform="translate(210.6,781.9) scale(0.95,1)" class="ax" text-anchor="middle">90E</text>
<text transform="translate(245.3,781.9) scale(0.95,1)" class="ax" text-anchor="middle">120E</text>
<text transform="translate(280.1,781.9) scale(0.95,1)" class="ax" text-anchor="middle">150E</text>
<text transform="translate(314.8,781.9) scale(0.95,1)" class="ax" text-anchor="middle">180</text>
<text transform="translate(349.5,781.9) scale(0.95,1)" class="ax" text-anchor="middle">150W</text>
<text transform="translate(384.2,781.9) scale(0.95,1)" class="ax" text-anchor="middle">120W</text>
<text transform="translate(418.9,781.9) scale(0.95,1)" class="ax" text-anchor="middle">90W</text>
<text transform="translate(453.6,781.9) scale(0.95,1)" class="ax" text-anchor="middle">60W</text>
<text transform="translate(488.3,781.9) scale(0.95,1)" class="ax" text-anchor="middle">30W</text>
<text transform="translate(93,556.3) scale(0.95,1)" class="ax" text-anchor="end">90N</text>
<text transform="translate(93,590.9) scale(0.95,1)" class="ax" text-anchor="end">60N</text>
<text transform="translate(93,625.6) scale(0.95,1)" class="ax" text-anchor="end">30N</text>
<text transform="translate(93,660.2) scale(0.95,1)" class="ax" text-anchor="end">0</text>
<text transform="translate(93,694.9) scale(0.95,1)" class="ax" text-anchor="end">30S</text>
<text transform="translate(93,729.5) scale(0.95,1)" class="ax" text-anchor="end">60S</text>
<text transform="translate(93,764.2) scale(0.95,1)" class="ax" text-anchor="end">90S</text>
<text x="312.3" y="539.6" class="title" text-anchor="middle" textLength="417" lengthAdjust="spacingAndGlyphs">LGM minus PICTL zg 500hPa JJA (Rxy=0.95, RMSE=0.98)</text>
<rect x="545.5" y="592.2" width="25" height="13.7" fill="#ff69b4" stroke="#000" stroke-width="1"/>
<rect x="545.5" y="605.9" width="25" height="13.7" fill="#c80000" stroke="#000" stroke-width="1"/>
<rect x="545.5" y="619.6" width="25" height="13.7" fill="#ff0000" stroke="#000" stroke-width="1"/>
<rect x="545.5" y="633.3" width="25" height="13.7" fill="#ffa500" stroke="#000" stroke-width="1"/>
<rect x="545.5" y="647" width="25" height="13.7" fill="#ffdc32" stroke="#000" stroke-width="1"/>
<rect x="545.5" y="660.7" width="25" height="13.7" fill="#ffffff" stroke="#000" stroke-width="1"/>
<rect x="545.5" y="674.5" width="25" height="13.7" fill="#ffffff" stroke="#000" stroke-width="1"/>
<rect x="545.5" y="688.2" width="25" height="13.7" fill="#a0d2ff" stroke="#000" stroke-width="1"/>
<rect x="545.5" y="701.9" width="25" height="13.7" fill="#00c8fa" stroke="#000" stroke-width="1"/>
<rect x="545.5" y="715.6" width="25" height="13.7" fill="#4169e1" stroke="#000" stroke-width="1"/>
<rect x="545.5" y="729.3" width="25" height="13.7" fill="#0000c8" stroke="#000" stroke-width="1"/>
<rect x="545.5" y="743" width="25" height="13.7" fill="#8a2be2" stroke="#000" stroke-width="1"/>
<text transform="translate(590.6,610.8) scale(0.98,1)" class="cb" text-anchor="middle">500</text>
<text transform="translate(590.6,624.5) scale(0.98,1)" class="cb" text-anchor="middle">400</text>
<text transform="translate(590.6,638.2) scale(0.98,1)" class="cb" text-anchor="middle">300</text>
<text transform="translate(590.6,651.9) scale(0.98,1)" class="cb" text-anchor="middle">200</text>
<text transform="translate(590.6,665.6) scale(0.98,1)" class="cb" text-anchor="middle">100</text>
<text transform="translate(590.6,679.4) scale(0.98,1)" class="cb" text-anchor="middle">0</text>
<text transform="translate(590.6,693.1) scale(0.98,1)" class="cb" text-anchor="middle">-100</text>
<text transform="translate(590.6,706.8) scale(0.98,1)" class="cb" text-anchor="middle">-200</text>
<text transform="translate(590.6,720.5) scale(0.98,1)" class="cb" text-anchor="middle">-300</text>
<text transform="translate(590.6,734.2) scale(0.98,1)" class="cb" text-anchor="middle">-400</text>
<text transform="translate(590.6,747.9) scale(0.98,1)" class="cb" text-anchor="middle">-500</text>
<text transform="translate(566,577.8) scale(0.85,1)" class="unit">m</text>
<text x="577.3" y="570.9" class="sup">2</text>
<text x="3" y="741" class="mm" textLength="73.5" lengthAdjust="spacingAndGlyphs">Max=890.96</text>
<text x="-0.5" y="756.6" class="mm" textLength="81.5" lengthAdjust="spacingAndGlyphs">Min=-1440.63</text>
</svg></body></html>
